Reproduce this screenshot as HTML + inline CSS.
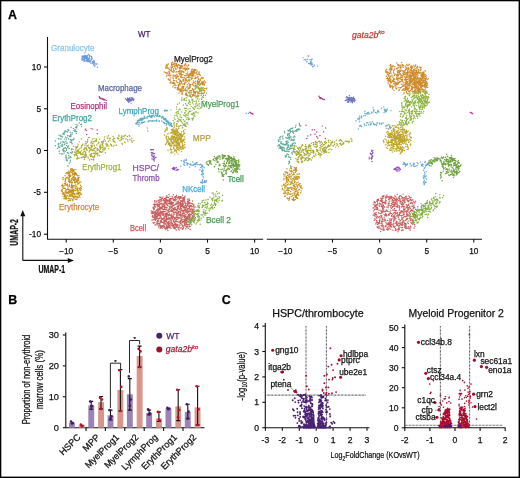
<!DOCTYPE html><html><head><meta charset="utf-8"><style>html,body{margin:0;padding:0;background:#fff}svg{display:block;will-change:transform}text{font-family:"Liberation Sans",sans-serif;stroke:currentColor;stroke-width:0.25px}</style></head><body>
<svg width="520" height="478" viewBox="0 0 520 478">
<rect width="520" height="478" fill="#fff"/>
<text x="8.1" y="18.8" font-size="12.4" fill="#000" color="#000" font-weight="bold">A</text>
<text x="8.3" y="303.7" font-size="12.4" fill="#000" color="#000" font-weight="bold">B</text>
<text x="221.8" y="304.3" font-size="12.4" fill="#000" color="#000" font-weight="bold">C</text>
<g stroke="#111" stroke-width="1.1" fill="none">
<path d="M47.5 37V239.2H263.2"/>
<path d="M266.8 239.2H482"/>
<path d="M44 67H47.5"/>
<path d="M44 108.8H47.5"/>
<path d="M44 150.5H47.5"/>
<path d="M44 192.3H47.5"/>
<path d="M44 234.2H47.5"/>
<path d="M66.2 239.2V242.6"/>
<path d="M285.4 239.2V242.6"/>
<path d="M113.3 239.2V242.6"/>
<path d="M332.5 239.2V242.6"/>
<path d="M160.4 239.2V242.6"/>
<path d="M379.6 239.2V242.6"/>
<path d="M207.5 239.2V242.6"/>
<path d="M426.7 239.2V242.6"/>
<path d="M254.6 239.2V242.6"/>
<path d="M473.8 239.2V242.6"/>
</g>
<text x="41" y="70" font-size="8.3" fill="#111" color="#111" text-anchor="end">10</text>
<text x="41" y="111.8" font-size="8.3" fill="#111" color="#111" text-anchor="end">5</text>
<text x="41" y="153.5" font-size="8.3" fill="#111" color="#111" text-anchor="end">0</text>
<text x="41" y="195.3" font-size="8.3" fill="#111" color="#111" text-anchor="end">-5</text>
<text x="41" y="237.2" font-size="8.3" fill="#111" color="#111" text-anchor="end">-10</text>
<text x="66.2" y="254.2" font-size="8.3" fill="#111" color="#111" text-anchor="middle">−10</text>
<text x="285.4" y="254.2" font-size="8.3" fill="#111" color="#111" text-anchor="middle">−10</text>
<text x="113.3" y="254.2" font-size="8.3" fill="#111" color="#111" text-anchor="middle">−5</text>
<text x="332.5" y="254.2" font-size="8.3" fill="#111" color="#111" text-anchor="middle">−5</text>
<text x="160.4" y="254.2" font-size="8.3" fill="#111" color="#111" text-anchor="middle">0</text>
<text x="379.6" y="254.2" font-size="8.3" fill="#111" color="#111" text-anchor="middle">0</text>
<text x="207.5" y="254.2" font-size="8.3" fill="#111" color="#111" text-anchor="middle">5</text>
<text x="426.7" y="254.2" font-size="8.3" fill="#111" color="#111" text-anchor="middle">5</text>
<text x="254.6" y="254.2" font-size="8.3" fill="#111" color="#111" text-anchor="middle">10</text>
<text x="473.8" y="254.2" font-size="8.3" fill="#111" color="#111" text-anchor="middle">10</text>
<g stroke="#111" stroke-width="1.1" fill="none"><path d="M22.8 260.4V214M22.8 260.4H70"/></g>
<path d="M22.8 210L20.3 216.3H25.3Z M74 260.4L67.8 257.9V262.9Z" fill="#111"/>
<text transform="translate(38.4 272.8) scale(0.67 1)" font-size="10.4" font-weight="bold" fill="#111" color="#111">UMAP-1</text>
<text transform="translate(17.6 245.7) rotate(-90) scale(0.67 1)" font-size="10.4" font-weight="bold" fill="#111" color="#111">UMAP-2</text>
<path stroke="#c86060" stroke-width="1.45" stroke-linecap="round" d="M185.5 222h0M190.4 222.1h0M195.4 217.8h0M182.8 201.4h0M179.5 198.8h0M156.1 216.6h0M173.5 220.5h0M160.4 207.3h0M191.4 206.7h0M181.4 206.2h0M187.6 201.4h0M184.3 216.5h0M162.9 212.5h0M177.8 204.1h0M171.1 220.1h0M170.2 198.7h0M188 217.4h0M184.1 223h0M159.3 204.2h0M167 205.1h0M163.8 225h0M177.8 203h0M189.1 224.6h0M187.7 209.8h0M174.9 207.4h0M183 226.1h0M173.2 205h0M161.6 200.9h0M158.4 212.6h0M167.4 223.3h0M162.9 212.7h0M176.3 214.1h0M167.4 201.2h0M174.5 222.7h0M160.7 225.9h0M184.8 224.7h0M169.5 223.6h0M172.3 208h0M166.7 217.2h0M184.9 220.3h0M160.3 211.1h0M177.3 217.2h0M162.3 207.8h0M164.2 205h0M178.6 213.1h0M162.7 222.2h0M157.6 215h0M183.3 204.5h0M168.6 211.3h0M156.2 218.9h0M179.9 215.1h0M174.6 212.2h0M194 209h0M177.6 206h0M167.2 218.4h0M157 224.9h0M169.9 203.8h0M182.2 210.9h0M183.1 228.7h0M190.4 222.9h0M169.8 227.8h0M158.5 206.6h0M171 198.4h0M155.5 211.2h0M174.3 197.4h0M189 208.3h0M175.8 212.5h0M176.8 219.3h0M186.6 207.2h0M187.4 211.2h0M154.1 208.7h0M155.1 225h0M174.7 226.6h0M185.6 218.5h0M179.3 230.1h0M175.4 204.5h0M191.6 203.4h0M160.2 204h0M180.1 205.1h0M178.6 198.1h0M177.3 206.9h0M166 198.4h0M162 207.9h0M160.1 211.8h0M182.9 222h0M153.3 219.5h0M156.4 201.4h0M188.1 224.6h0M187.9 202.6h0M173.8 209.6h0M191.5 219.7h0M175.8 225h0M193.7 205.9h0M167.8 210.4h0M190.4 209.3h0M192.2 215.8h0M172 225.5h0M185.8 209.3h0M171.5 211.3h0M193.5 207.1h0M187.5 204.2h0M186.7 219.5h0M158.2 214.7h0M154.6 214.7h0M163.7 209.4h0M167.6 219.4h0M165.4 216.5h0M159.1 205.1h0M169.6 219.1h0M158.7 209.2h0M176.9 213.4h0M189.5 216.4h0M166.2 221.3h0M193 217.1h0M184.2 203h0M179.8 203.6h0M171.1 207.3h0M181.8 224.2h0M162.8 218.8h0M166.3 228h0M184.4 207.4h0M166.9 203.3h0M187.6 212.9h0M156.6 210.3h0M171 223.9h0M160.7 197.4h0M182.1 222.6h0M154.6 201.8h0M171.5 201.7h0M176 224h0M155.5 215.1h0M192.6 216.3h0M161 218.6h0M188.2 208.9h0M188.6 202.8h0M160.9 212.8h0M170.9 204h0M190.9 211.1h0M167.4 201.3h0M189.7 200.5h0M156.9 201h0M178.8 227.5h0M169.5 208.9h0M163.4 218.5h0M171.1 210.4h0M193.5 216.2h0M172.1 206.4h0M190 226.5h0M162.2 228.3h0M152.4 211.4h0M157.6 212.7h0M154 207.2h0M176 203.1h0M151.2 210.9h0M181 223.1h0M184.4 221.2h0M167.4 213.4h0M175.6 197.3h0M163 211.8h0M173.4 225.4h0M162.2 214.3h0M177.1 206.3h0M161 217.8h0M161.2 227.5h0M181.1 215h0M164.8 226.9h0M157.7 220.2h0M180.8 208.8h0M184.9 217.6h0M155.7 216.9h0M191.2 214.5h0M159.2 207h0M173.2 208.5h0M160.5 212.6h0M160.2 201h0M185.1 205.5h0M163 197.1h0M164.8 205.7h0M185.3 224.3h0M188.4 228.3h0M185.8 208.8h0M155.7 213.5h0M188.3 215.8h0M176.3 212.6h0M171.4 211.3h0M168.6 214.8h0M173.5 227.1h0M153.2 213.6h0M171.2 217.7h0M180.1 198.6h0M177.9 215.4h0M181.9 209.1h0M180.5 212h0M191.4 219.4h0M181.8 210.4h0M177.9 218.9h0M162.2 218.6h0M191.4 218.2h0M183.8 206.4h0M190.1 220.6h0M189.6 215.2h0M157 217.1h0M161.1 226.1h0M178 206.7h0M157.2 207.1h0M174 205.6h0M186.8 220.4h0M155.7 204.4h0M175.3 223.8h0M180.3 223.6h0M184.5 213.1h0M154.6 213.9h0M174.1 200.2h0M159.8 214.9h0M163.3 225.5h0M166.4 219.7h0M181.8 197.8h0M167 226.1h0M177.2 210h0M180.1 217.4h0M189.5 213.7h0M167.4 197.2h0M182.2 225.3h0M168.3 225.1h0M174.3 205.1h0M178.6 208h0M174.9 225.2h0M173.2 211h0M172.1 196.8h0M163.8 224.9h0M177.8 212.4h0M174.4 210h0M178.6 217.5h0M178.3 212.2h0M180.6 207.9h0M176.2 216.6h0M179 211.2h0M164.9 216.3h0M178.7 212.5h0M168.3 197.5h0M178 225.4h0M168.4 223.8h0M172.4 209.9h0M154.8 216.4h0M194.3 214.5h0M163.4 206.5h0M185.4 209.7h0M190.1 214.2h0M169.9 196.1h0M190.2 202.9h0M187.6 219.1h0M167.4 205.3h0M164.8 206.5h0M174.2 214.1h0M161.8 222.4h0M165.7 199.8h0M158.6 206.3h0M169.2 221.1h0M189.4 207.5h0M182.4 229.2h0M171.3 203.7h0M163.5 222.8h0M184.6 197h0M180.3 204.3h0M188 203.4h0M156.5 223.1h0M158.2 212.7h0M181.6 200.7h0M154.8 215.8h0M189.1 219.9h0M165.2 211.3h0M172.6 224h0M189.2 206.5h0M173.1 219.1h0M186.3 206.4h0M167.1 224h0M183.9 219.9h0M189.9 221.1h0M157.5 221.2h0M157.8 214.8h0M159.4 214.4h0M158.9 204.3h0M192.2 212.6h0M170.5 215.3h0M180.6 197.6h0M181.9 218.1h0M169.7 202.3h0M181.2 227.8h0M173.8 199.4h0M157.5 209.7h0M155.2 224.7h0M182.7 226.6h0M183 211.3h0M182.6 213.2h0M163.8 225.1h0M165.5 199.7h0M160.1 228.2h0M152.9 217.5h0M192.7 203.6h0M188.1 204.4h0M173 202.4h0M184.8 221.5h0M182.9 199.6h0M161.5 219.7h0M168.1 227.6h0M170.6 202.9h0M182.9 206.4h0M176.5 215.2h0M187.2 222.1h0M182.2 221.1h0M169.3 203.8h0M167.5 223.3h0M175.3 196.8h0M177.5 221.6h0M154.2 211.7h0M164.4 217.9h0M178.1 208.4h0M178.8 202.8h0M173.9 213h0M193.6 211.7h0M171.3 222.1h0M156.3 214.6h0M186.3 218.4h0M172.4 197h0M168.8 209.2h0M178.2 213.9h0M173.3 202.8h0M180.4 216h0M184.7 215.8h0M180.4 223.4h0M187.1 216.4h0M187.4 205.3h0M160.6 221.9h0M157.3 221.4h0M183.6 197.8h0M163.2 211.2h0M177 197.4h0M156.6 213.7h0M183.1 221.6h0M193.8 218.1h0M162.3 198.2h0M158.3 218.4h0M184.1 200.9h0M153 220.1h0M170 208.5h0M157.4 218.1h0M158.3 202.6h0M172.5 217.9h0M156.4 216.9h0M169.6 223.6h0M175.3 225.6h0M168.1 216h0M194.7 211.5h0M159.6 214.1h0M176.4 203.9h0M159.7 204.4h0M189.7 217.2h0M159.7 199.8h0M176 211.2h0M160 216.1h0M190.9 211.2h0M173.1 198.6h0M169.1 201.1h0M163.8 199.8h0M174.2 224.5h0M169.7 223.8h0M162.1 222.6h0M177.3 218.9h0M170.9 215.8h0M192.7 216.2h0M192 212.4h0M187.8 202.9h0M165.6 224.2h0M173.4 225.4h0M187.3 212.7h0M169.9 207.9h0M185.9 211.6h0M179.3 198.1h0M171.9 209.7h0M162.1 218.5h0M180.9 212.9h0M165.6 219.6h0M180.3 220.9h0M159.1 213.8h0M177.6 210.2h0M187.8 216.5h0M163.5 213.8h0M152.3 212.3h0M167.6 228.8h0M175.4 224.7h0M181.4 208.8h0M155 212.4h0M159.8 202.5h0M158.7 223.7h0M164.5 218.2h0M161 197.3h0M162.9 226.7h0M183.4 216h0M160.5 226.7h0M154.7 219h0M191.4 220.1h0M187.4 208.5h0M183.3 210.6h0M170.1 218.7h0M164.2 218.6h0M184.8 217.7h0M175.4 221.7h0M166.7 207.4h0M176.8 199.7h0M183.9 207.3h0M151.8 220.1h0M179.6 209.4h0M165.3 201.5h0M169.4 199h0M164.6 220.5h0M175.2 227h0M161.6 204.1h0M157 204.5h0M185.1 196.1h0M188.6 201.5h0M187.6 226.2h0M188.7 211.9h0M158.6 200.7h0M154.6 205.3h0M175.3 224.3h0M176.5 196.1h0M176.6 217.3h0M182.2 219.8h0M175.3 208h0M175.6 198.6h0M174.8 227.7h0M154.1 207.1h0M173.7 199.6h0M163.6 215.5h0M186 220.6h0M184.9 225.2h0M175.9 220.7h0M179.4 221.9h0M180.4 206.9h0M186.1 217.9h0M173.1 227h0M165.2 228.9h0M169.6 214.2h0M170 221.1h0M179.6 211.6h0M170.9 222.5h0M174.4 209.2h0M162 225.6h0M175.3 218.4h0M166.8 195.7h0M163.9 203h0M166.3 200.8h0M166.2 199.5h0M170.4 206.1h0M170.7 219.8h0M189.7 217.3h0M185.6 228.7h0M168.7 212h0M163.4 200.7h0M165.2 223.8h0M159 225.9h0M184.3 213.5h0M172 215.7h0M177.7 198h0M174.1 228.4h0M182.7 228.4h0M180.8 220.5h0M164.3 220.8h0M166.9 215.2h0M182.2 201.7h0M179.5 196.8h0M158.7 204.8h0M194 204.7h0M177 225.8h0M166.6 203.6h0M190.2 229.4h0M194.7 207.1h0M182.1 206.9h0M167 212.1h0M185.6 205.3h0M183.6 206.3h0M161.8 203.2h0M188.9 219.5h0M177.1 201.8h0M192.7 218.4h0M185.7 203.7h0M185.2 201.9h0M185.1 215h0M175.6 196.4h0M157.4 210.4h0M160.9 216.7h0M161.8 226.6h0M177.2 209.8h0M180.5 196.6h0M167.2 227.7h0M171.6 207.7h0M193.4 210.1h0M189 210.7h0M161 209.1h0M183.8 199.1h0M190 223.4h0M155.5 220.2h0M187.6 209.1h0M189.3 216.8h0M180.7 200.9h0M155.3 218.4h0M191.3 205.4h0M183.6 227.5h0M160 201.5h0M181 198.1h0M182.6 195.2h0M164.6 208.6h0M162.3 212.6h0M168.3 225h0M185.4 224.2h0M159.3 206.3h0M158.2 213.2h0M178.1 204h0M186.2 219.7h0M177.1 221.8h0M186.6 217.2h0M159 223.1h0M176.2 224.8h0M175.3 218.4h0M189.5 202.6h0M162.1 208.2h0M163.7 214.5h0M182.6 204.5h0M164 219.2h0M184.1 207h0M174.9 217.7h0M169.9 209.3h0M181 196.6h0M171.8 202.4h0M176.3 209.6h0M192.9 211.9h0M164.1 222.4h0M177.4 208.3h0M192.4 210.3h0M164.3 200.1h0M184.5 217.4h0M194.3 211.7h0M151.4 213.1h0M174.8 228.6h0M182.5 198.3h0M192.8 204h0M183.5 199.9h0M190.4 222.8h0M156.7 218h0M166 197.3h0M153.6 213.2h0M165.4 215.5h0M160.2 222.1h0M165.5 200.4h0M157.9 213h0M158.6 213.7h0M180.9 200.9h0M186.4 220h0M163.8 227.3h0M159.7 217.9h0M189.6 217.9h0M168.1 200.2h0M170.9 217.3h0M178.8 218.1h0M160 224.9h0M159.8 215.4h0M173.8 214.7h0M182.6 205.4h0M188.3 215.4h0M157.1 209.6h0M168.9 194.5h0M154.1 208h0M166.1 228.1h0M180.5 222.3h0M169 218.7h0M169.3 208.6h0M165.6 199h0M175.3 227.8h0M169.1 213.1h0M184.1 206.5h0M169.2 215.3h0M153.7 204.3h0M172 218.8h0M166.1 219.2h0M161.5 227.6h0M179.6 214.4h0M164.2 211.6h0M184.6 200h0M183.4 212.1h0M166.8 214.6h0M165 202.9h0M186.5 219.8h0M164.9 228.5h0M167.2 227.8h0M190.9 222.8h0M162.6 226.6h0M166.4 217h0M188.3 199.1h0M172 223.1h0M162.5 219.2h0M163.3 222.4h0M176.2 209.6h0M165.3 220.3h0M181.8 204.8h0M167.4 210.4h0M164.8 206.8h0M188.5 206.2h0M189.6 218.9h0M169.9 202.4h0M184.3 199.2h0M159.7 212.4h0M166.2 204.1h0M154.8 214.4h0M173.6 200.3h0M161 207.9h0M166.1 201.6h0M168.3 219.2h0M186.1 214.6h0M172.9 203.4h0M171 228.2h0M190.5 219.1h0M179.5 202.6h0M168.6 227.2h0M177.7 217.2h0M162.9 215.2h0M172.5 205.7h0M173.6 221.8h0M158.5 210.3h0M154.8 200.6h0M153 207.7h0M159.7 197.3h0M175 217.6h0M169.1 227.1h0M171.6 216.1h0M166.9 207.5h0M159.5 205.9h0M185.4 219.8h0M164.8 208h0M169.3 200.4h0M190.1 215.8h0M173.6 220.3h0M172.7 206h0M179.1 200.1h0M175.1 199.2h0M187.2 205.8h0M158.2 220h0M171.8 204.6h0M163.3 199.6h0M157.5 210.3h0M174.6 217.8h0M188.4 201h0M189.2 226.1h0M176.7 226.2h0M165 209.5h0M165.7 198.5h0M171.7 220.9h0M182.5 214.8h0M187.7 221.1h0M180.9 201.6h0M163.4 200.6h0M169.8 206.2h0M176.1 220.3h0M176.2 221.1h0M154.4 209h0M158.7 227h0M181 203.1h0M178.1 211.7h0M192.2 217.1h0M165.3 223.1h0M187.7 218.3h0M179.8 225.4h0M164.7 200.4h0M193 216.3h0M190.9 205.5h0M184.2 215.5h0M181.8 206.3h0M184.1 200.8h0M181.1 219h0M161.9 206.1h0M169.8 201.6h0M157.5 222.7h0M190.8 209.2h0M171.6 215.2h0M168.2 222.3h0M189.4 226.6h0M182.8 213.7h0M159.3 213.7h0M185.7 208h0M180.1 202.6h0M169 223.5h0M188.1 200.8h0M163.9 206.3h0M168.6 218h0M187.5 211.8h0M161.1 211.4h0M167.5 214.3h0M187.5 199.1h0M156.3 212.2h0M161.4 213.3h0M159.7 209.8h0M157.2 224.3h0M169.3 217.8h0M166.9 222.2h0M153.7 209.8h0M160.4 215.9h0M167.9 230.6h0M181.8 216.7h0M184.1 209.7h0M154.9 217.9h0M170.8 200h0M189.4 208.4h0M183.7 207.8h0M166.3 200.6h0M182.9 203.2h0M180.5 197.7h0M177.4 227.6h0M171.9 214h0M167.5 226.6h0M177.3 203h0M162.7 206.8h0M177.1 213.8h0M152.9 215.6h0M168.1 226.3h0M153.3 212.1h0M184.6 197.8h0M187 210.6h0M183.5 198.5h0M170 200.8h0M175.1 200.9h0M165.4 214.1h0M186.9 227.4h0M166.3 226.9h0M189.2 199.1h0M183.5 200.4h0M177.3 224.8h0M188.5 215.1h0M170.6 203.1h0M187.3 212.4h0M175.1 197h0M182.5 203.5h0M173.5 226.7h0M164.4 198.4h0M178.9 197.4h0M154.6 218.2h0M170.6 202.2h0M186 203.5h0M167.8 205.7h0M169.1 203.6h0M157.7 216.2h0M167.2 228h0M165.2 221.4h0M189.1 216.3h0M173 199.7h0M172.8 224.8h0M161 215.1h0M154.5 206.2h0M181.9 220h0M184 221.4h0M176.5 224.2h0M153.3 216.6h0M160.7 199.4h0M191.8 219.8h0M180.1 224h0M163.8 204.1h0M192 210.9h0M166 207.6h0M173.3 217.6h0M170.3 199.6h0M178.9 205.5h0M193.9 219.9h0M184.6 224h0M162.5 209h0M160.9 203.6h0M158.9 204.1h0M161.4 212.7h0M175.4 223.9h0M182.1 215.5h0M180.3 208.9h0M184.4 210.9h0M165.4 215h0M158.8 215.5h0M154.7 206h0M169.6 226.2h0M165.9 202.2h0M180.2 205h0M169.7 199.5h0M168.5 221.7h0M166.6 216.4h0M180.8 210.6h0M152.7 215.7h0M155.9 202.1h0M158.5 201.1h0M155.5 218.5h0M184.3 198.8h0M174.2 208.5h0M184.6 216.1h0M172.5 216.5h0M172.6 203.1h0M171.8 206.4h0M158.9 225.8h0M174.4 221.7h0M172.3 196.9h0M161.6 207.4h0M163.9 217.1h0M171.6 216.8h0M151.9 213.8h0M185.3 210.1h0M188.6 215.3h0M168.2 201h0M159.2 213.8h0M167 208h0M166.6 204.2h0M158.3 200.1h0M185.8 211.4h0M186.3 222.5h0M190.2 209.6h0M179.4 209.2h0M180.3 202.5h0M166.1 198.9h0M177.1 226.8h0M170.9 224.9h0M167.7 222.6h0M165.9 220.8h0M189.9 205.3h0M188.2 218.4h0M189.9 206.5h0M157.5 223.9h0M167.3 200h0M186.3 210h0M192.3 206.6h0M172.3 211.6h0M184.2 208.1h0M183.8 219.1h0M167.1 212.8h0M183.4 211.2h0M190.6 209.9h0M161.2 207.8h0M176.2 217.7h0M173.4 216.2h0M165.9 207.4h0M169.5 211.6h0M176.3 230h0M176.1 211.2h0M185.9 212.6h0M191.4 206.7h0M179.7 214.4h0M154.3 217.5h0M163.8 220.8h0M157.8 205.8h0M175.2 196.9h0M177.2 202.4h0M180.1 228.1h0M178.6 221.9h0M178.5 206.4h0M175.3 228.7h0M169.5 225.4h0M159.7 202.4h0M160.3 220.7h0M166.7 225.4h0M157.4 210.9h0M183.7 213.4h0M176.6 195.3h0M170.6 210.9h0M190 203.3h0M184.9 207.3h0M159.4 223.5h0M188.1 211.7h0M181.1 205h0M155.4 216h0M169.4 206.8h0M192.9 209.1h0M174.8 219.4h0M153.1 222.5h0M161.5 221.3h0M192.1 209.3h0M168.5 203.3h0M158 213.2h0M190.3 216.9h0M168.7 226.6h0M191.5 209h0M182.1 200.6h0M189.8 224.4h0M158 212.3h0M194 215.7h0M178.4 196.4h0M154.7 217.6h0M158.8 206.4h0M164.4 226.2h0M179.5 211.4h0M164.1 223.8h0M181.9 210.2h0M157.2 203.8h0M187.6 226.5h0M166.2 218h0M180.8 206.3h0M169.2 223.1h0M169.9 200.3h0M188.4 219.1h0M162.3 211.5h0M161.1 220.6h0M157.2 214.2h0M184.5 209.4h0M176.6 227.1h0M166.6 197.4h0M182.2 217.3h0M172.1 208h0M187 211h0M176.3 217.6h0M165.9 215.7h0M170.2 226.9h0M189.3 211.6h0M166.3 203.5h0M173.7 209.7h0M163.7 206.6h0M169.4 199.2h0M165.9 204.1h0M188.9 210.9h0M193.3 217.2h0M181.6 204.1h0M184.4 221.6h0M180 215.5h0M173.7 227.5h0M157.1 224.5h0M180.7 221.3h0M155.4 206.9h0M182.8 202.7h0M175 209.3h0M166.3 209.4h0M186.1 203.2h0M161.3 198.6h0M157 205.4h0M177 213.2h0M178.4 228.9h0M179.4 215.1h0M171.8 198.8h0M156.8 215.8h0M167.9 205.1h0M193.4 212.5h0M159.4 218.4h0M174.6 218.9h0M177.8 224.5h0M168.6 223.3h0M191 221.4h0M163.3 204.7h0M161.7 200.4h0M160.2 214h0M159.6 224h0M173.3 194.8h0M152.8 212.8h0M192.6 200.9h0M179.4 226.1h0M158.2 211.6h0M171.8 207.6h0M163.4 211.8h0M176.1 209.8h0M186.5 224.7h0M164.7 202h0M184.2 225.7h0M157.1 221.2h0M185.9 226.5h0M166.4 213.4h0M164.7 221.3h0M189.3 203.4h0M187.7 224.5h0M154.2 206.8h0M155.8 218.8h0M166.1 229h0M173.4 212.5h0M158 205h0M179 205.1h0M175.5 199.9h0M171.1 204.7h0M189.3 199.2h0M171.7 209.8h0M161.6 199.9h0M159.9 223.2h0M185.4 216.4h0M189.5 211.5h0M154.7 222.4h0M152.3 216.3h0M179.9 218h0M154.7 204h0M168 202.9h0M153.5 223.2h0M157.9 208.6h0M172.1 216.4h0M168.8 222.2h0M165.1 213.2h0M178.5 201.4h0M153.3 208.3h0M188.5 214.5h0M154.7 219.4h0M169.1 223.9h0M180.7 214h0M168.8 210.6h0M165.8 214.9h0M158.4 221h0M172.2 226h0M193.7 205.1h0M185 223.2h0M162.8 204.3h0M192 213.4h0M168.8 224.2h0M160.4 208.6h0M186.8 226.8h0M157.6 211.3h0M159.6 208.3h0M164.4 207.5h0M187.2 221h0M164.5 204.9h0M161.4 220.8h0M192.9 213.8h0M160.5 216.1h0M190.5 223h0M186.6 223.7h0M160 216.1h0M172.1 203.7h0M184.6 219.8h0M172.3 223.2h0M162.2 205.6h0"/>
<path stroke="#80b03c" stroke-width="1.45" stroke-linecap="round" d="M198 209.5h0M198.8 218.9h0M191.5 220.1h0M200.2 224.2h0M208.1 199.2h0M212.8 208.8h0M202 202.2h0M218.4 198.6h0M211.8 198.8h0M215.7 194.1h0M191.4 212.8h0M191.7 224.7h0M188.5 218.6h0M203.5 205.9h0M191.6 220.8h0M202.2 214.9h0M202.5 206h0M198.2 206h0M212 199.4h0M215.1 204.6h0M199.3 210.9h0M205.3 214h0M198.2 220.1h0M222 200.9h0M189.3 221.9h0M194.1 216.5h0M205.3 212.7h0M194.2 215.2h0M198 210.9h0M216.6 200.4h0M209 208.5h0M207.6 204.6h0M203.5 212.2h0M191 222.7h0M194 214.6h0M210.7 205.3h0M214.6 207.4h0M193.6 221.5h0M194.6 218.6h0M199 211.7h0M214.3 202.7h0M214.8 200h0M198.3 210.2h0M203.3 212h0M214.9 204.2h0M217.5 198.1h0M195.8 207.1h0M206 200h0M199.4 207.7h0M213.5 193.1h0M198.1 217.3h0M204 209.4h0M199.6 205.9h0M217.7 193.8h0M197.1 214.7h0M212.1 193h0M190.3 221.7h0M222.3 200.4h0M216 196.4h0M209.2 210.2h0M198.1 220.9h0M219 196.6h0M197 214.1h0M218 202.2h0M205 212.2h0M200.2 203.8h0M216.2 200.3h0M208.1 203.6h0M213.3 205.2h0M197.7 216.6h0M206.4 204.4h0M205 215.6h0M199.2 220.6h0M209.4 210.8h0M216.6 191.6h0M214.7 201h0M196.8 210.2h0M215.7 195.9h0M198.8 213.6h0M210.5 207.6h0M193.8 221.4h0M202.5 205.3h0M188.9 224.1h0M201.2 214.8h0M198 207h0M197.3 211h0M193.4 217.5h0M192.5 217.8h0M214.9 203.4h0M207.7 203.1h0M198.5 203.5h0M192.6 217.7h0M198 205.5h0M201.3 218.2h0M212.6 207.9h0M204 213.3h0M202.6 215.1h0M198.7 207.4h0M205.8 210.7h0M205.3 207.3h0M204.4 202.6h0M193.7 212.7h0M194.2 222.7h0M203.3 216.9h0M216.8 200.9h0M195.4 213.5h0M192.7 219.9h0M196.4 210.9h0M196.4 211.6h0M195 210.2h0M205.7 204.2h0M199 219.9h0M194.8 220.3h0M207.2 202.1h0M193 210.9h0M211.8 204.2h0M203.1 205.5h0M202.3 207.4h0M204 214h0M188.5 221.5h0M212.1 206.5h0M215.9 204.2h0M194.6 220.3h0M216 200.3h0M192.3 221h0M203.3 211.5h0M222.5 195.3h0M197.9 213.6h0M199.7 216.9h0M206.8 208.7h0M193.7 221.9h0M206.9 207.3h0M194.5 214.6h0M207.6 206.6h0M199.4 218.9h0M196.1 223.9h0M219.2 192.9h0M196 214.1h0M215.4 205.4h0M197.1 222.5h0M191.1 220.6h0M219.2 200.2h0M191.8 220.4h0M199 216.3h0M204.9 205.3h0M212.6 200.8h0M202.2 200.7h0M215.9 200.3h0M200.9 220.1h0M188.4 222.2h0M213 198.7h0M211.8 207.4h0M198.5 207.3h0M206.3 213.3h0M207.1 206.5h0M213.9 197.1h0M219.6 197.2h0M208 199.5h0M217 199.3h0M212.9 198.3h0M193.9 212.9h0M210.7 208.9h0M209.9 197.2h0M195.2 219.6h0M198.2 215.3h0M204.9 202.3h0M193.8 218.2h0M203.8 200.2h0M213.7 194.8h0M216.7 200.2h0M194.6 220.8h0M207.7 213.1h0M207.6 204.3h0M197.3 220.1h0M216.5 201.2h0"/>
<path stroke="#c4921c" stroke-width="1.45" stroke-linecap="round" d="M77.5 197.8h0M79.9 197.2h0M66.2 193.3h0M81.3 194h0M72.6 191.3h0M71.6 185h0M78 194.5h0M71.7 186.6h0M70.6 200.3h0M77.8 193.5h0M69.5 198.6h0M79 175.8h0M65 191.9h0M63.2 194.2h0M75.7 179.5h0M76.6 186.7h0M71.7 168.7h0M65 197.7h0M75.3 177.7h0M74.4 180.5h0M69.1 177.1h0M76.4 173.8h0M72.4 196.2h0M77.1 193h0M70.5 176.3h0M69.4 184.7h0M67.3 177.2h0M65.2 178.9h0M67 184.4h0M71.2 190.5h0M68.3 171.2h0M78.7 196.9h0M78 190.4h0M80.1 192.6h0M73.9 171.8h0M66.5 184.9h0M73.9 190.3h0M78.3 193.2h0M70.8 192.4h0M72.7 175h0M79.1 192.2h0M72.4 187h0M74 196.5h0M75.1 172.5h0M67.9 186.3h0M75.7 178.5h0M65.3 188.3h0M78.9 194.5h0M77.2 182.1h0M77.1 196.5h0M65.5 180h0M67.9 173.8h0M74.6 182.4h0M78.7 192.1h0M67.9 192.1h0M75.1 186h0M70.5 200.6h0M76.4 194h0M72.7 171h0M79.5 195.5h0M70.1 194.9h0M72.3 194.1h0M62.3 191.5h0M65.8 178.4h0M75.5 172.8h0M70.9 175.2h0M76.1 174.7h0M77.7 197.8h0M74 197.4h0M77.7 184.1h0M69.4 179.2h0M68.3 191.8h0M71.9 191.5h0M73.5 189.5h0M73.7 180.5h0M76.6 186.1h0M74.4 174.8h0M76 190.5h0M77.1 188.7h0M74.7 185.7h0M75.6 196.6h0M68.7 175.2h0M70.7 190.6h0M70.7 169.7h0M62.9 177.6h0M75.7 181.6h0M64.2 185.6h0M62.5 187h0M75.6 188.4h0M71.8 180.2h0M69.2 200.6h0M76.5 193.7h0M75.6 174.4h0M70 192.2h0M81.4 186.6h0M71.6 196.1h0M74.6 193.5h0M71.8 187.3h0M72.8 200.8h0M80 190.1h0M71.4 172.3h0M64 198.3h0M73.6 196.5h0M69.9 175.7h0M73.5 179.4h0M69.5 198.9h0M73 173.6h0M76 197.2h0M72.2 172.3h0M68.9 172.5h0M73.8 176.4h0M75.1 187h0M72.6 178.9h0M78.6 193.6h0M71.9 195.8h0M71.2 198.8h0M71.4 170.6h0M65.3 196.6h0M77.4 178.9h0M66.4 177.8h0M76.2 196.6h0M62.6 184.1h0M66 191.7h0M78.3 192.8h0M65.9 173.5h0M71.3 193h0M75.6 199.1h0M63.1 192.8h0M74.1 198.7h0M80.8 194.4h0M73.8 198.1h0M74.4 175.8h0M70 171.9h0M65.9 195.7h0M77.1 182.4h0M69.1 192.9h0M76.8 175.1h0M78.1 178.7h0M68.1 192.4h0M79.6 182.8h0M72 185.4h0M73.9 190.7h0M72.7 185.8h0M62 189.3h0M79.3 188.5h0M79 177.8h0M80.2 193.1h0M72.2 185.8h0M72.8 192.6h0M78.8 179.9h0M78.1 177.5h0M75.4 172.9h0M76.8 181.5h0M73.9 170.8h0M70.7 169.6h0M73.9 173.7h0M71.6 190.2h0M73.5 170h0M75.9 199.6h0M67.4 189.2h0M69.7 182.8h0M65.9 190.3h0M66.8 198.8h0M74.9 179.5h0M64.7 183.5h0M67.1 172.6h0M76.8 199.3h0M73.2 171.4h0M64.4 196.2h0M64 188.3h0M78.5 178.5h0M81.1 188.6h0M69.5 175.2h0M70 176.1h0M70.3 196.2h0M77.3 189.5h0M80.5 185.3h0M74.2 179.6h0M68.3 198.4h0M76.8 189.2h0M63.4 194.2h0M71.9 194.2h0M71.1 191.3h0M76.7 179.6h0M76.6 181h0M72.1 168.6h0M76 190.6h0M64.7 195h0M65.2 184.2h0M72.3 182.7h0M64.4 193.7h0M72.4 193h0M67.9 193.5h0M72.7 187.7h0M68.3 200.8h0M77.6 180.1h0M68.5 181.2h0M72.3 190h0M78.5 180.4h0M66 195.1h0M75 174h0M72.4 173.8h0M66 192.9h0M77.8 180.5h0M72.2 186h0M79.6 188.9h0M80.4 187.4h0M69.9 186.3h0M78.4 178.3h0M72.4 199.1h0M68.3 189.6h0M73.2 191.7h0M75.8 169.6h0M65 181.4h0M69.5 195.9h0M73.2 186.9h0M71.7 180.4h0M70.2 189.9h0M70.3 181.7h0M76.7 174.2h0M73.7 193.7h0M65 188.6h0M65.4 179.2h0M78.4 194.2h0M65.8 182.9h0M69.7 173.9h0M70.9 168.9h0M77.5 190.9h0M68.1 187.9h0M75.7 184.3h0M72.8 193.3h0M75.4 182.6h0M67.3 185h0M78.1 190.4h0M71.5 185.6h0M78.5 183.7h0M72.6 191.1h0M67.8 173h0M64.2 185.8h0M61.7 185.5h0M69.1 173.5h0M76.1 196.7h0M73 192.7h0M65.7 190.6h0M77.1 182.1h0M69.6 176.4h0M64.1 198.8h0M80.7 190.6h0M69.5 177.2h0M62.5 193.3h0M79.1 181.9h0M68.9 189.5h0M62 189.9h0M72.8 170.9h0M69.2 174.4h0M78.7 197.1h0M74 189.3h0M77.9 188h0M80.8 189.9h0M74.8 177.7h0M71.8 184.1h0M77.8 190.8h0M79 192.3h0M66.7 189.8h0M69 179.4h0M74.5 182.1h0M81.3 188.5h0M74.7 173.3h0M65.8 197.5h0M72 194.4h0M63 179.5h0M65.3 183.4h0M63.9 193.2h0M63.4 188.2h0M73.7 185.6h0M70.7 194.8h0M68.9 196.8h0M72.1 182h0M78.1 183.5h0M78.3 193.3h0M70.6 192.4h0M75.1 172.1h0M69.3 185.8h0M68.1 178.8h0M73.9 174.2h0M63.3 177.8h0M61.2 190.7h0M73.5 177.2h0M69.9 171.9h0M73.3 192.1h0M75.1 195.7h0M66.1 198.1h0M78.7 194h0M71.9 194.9h0M66.1 185.3h0M71.9 188.9h0M73 190.5h0M72.8 179h0M65.7 178.5h0M63 196.1h0M68.7 181h0M70.6 191h0M65 194.7h0M74.1 169.8h0M79.1 193.1h0M69.7 191.7h0M70.5 176.2h0M71.1 170.6h0M65.5 180.4h0M66.6 197h0M62.7 185.8h0M73.9 196.9h0M64.5 195.9h0M69 177.7h0M69 190h0M74.1 178.1h0M65.1 175.7h0M80.9 182h0M65.9 191.4h0M77.4 182.1h0M72.9 200h0M72.4 169.5h0M72.5 177.3h0M66.8 172.7h0M65.6 179.9h0M63.1 186.3h0M69.5 181.7h0M70.3 171.2h0M70.1 180.5h0M75 190.8h0M71.4 179h0M67.5 195.7h0M67.3 184.2h0M69.2 190.9h0M65.7 199h0M71.3 178.6h0M74.5 194.4h0M63.7 194.3h0M67 192.7h0M74.8 194.6h0M74.7 182.1h0M78.6 194.6h0M69 175.7h0M73.3 197.4h0M71.2 182.4h0M71.1 187.6h0M77.6 175.7h0M72.6 195h0M69.4 194.6h0M71.8 184.3h0"/>
<path stroke="#5ea894" stroke-width="1.45" stroke-linecap="round" d="M58.4 143.4h0M69.3 136.6h0M59.7 147.2h0M68.6 138.7h0M67.6 131.9h0M66.4 148.7h0M70.2 132.6h0M60.3 136.1h0M68.7 130.5h0M75.5 130.6h0M67.6 135.8h0M59.2 151.2h0M64.7 144.3h0M76.7 126.5h0M60 139h0M58.6 146.4h0M67.1 143.2h0M65.5 147.7h0M68.9 158.2h0M58.2 144.8h0M72.8 140h0M74.5 151.9h0M59 135.3h0M62.7 145.1h0M67.8 135.5h0M67.7 146.4h0M72.2 152.6h0M61 141.9h0M64.1 134.1h0M70.1 142.2h0M67.1 160.7h0M63.6 148.5h0M75.7 127.2h0M69.2 148.4h0M65.9 141.2h0M66.6 145.6h0M69.1 157.5h0M62.6 154.1h0M67.4 152.7h0M75.5 131.5h0M62.4 137.1h0M76.6 131.8h0M64.6 139.1h0M62.8 133.7h0M69.5 135.9h0M79.3 123h0M70.6 134.5h0M66.6 150.2h0M68.7 153.3h0M63.4 149.7h0M58.6 144.8h0M70.5 139.4h0M72 134.1h0M66.2 148.5h0M62.1 136.8h0M58.4 138.7h0M73.4 146.1h0M64.5 148.1h0M66.1 143h0M71.1 127.2h0M76.3 133.6h0M71.7 140h0M71 136h0M55.3 141h0M67.9 147.8h0M81.6 126.4h0M66.3 131.4h0M70.8 135.1h0M62.2 144.2h0M71.8 153.3h0M64.1 142.5h0M64.1 150.4h0M65.9 155.3h0M63.2 133.4h0M62.5 150h0M62.1 153.7h0M66 157.8h0M76.9 127.1h0M63.6 148.5h0M65.9 131.7h0M75 129.4h0M64.1 153h0M72.2 143.8h0M64.1 134.5h0M74.7 131.2h0M70.6 136.7h0M64.4 144.6h0M71 157.4h0M68 129.9h0M61.1 138.9h0M74 138.1h0M67.8 147.1h0M67 137.6h0M71.2 141.1h0M71.1 140.8h0M60.9 135.1h0M61.5 154.1h0M57.5 148.5h0M71.5 149.2h0M63.9 141.6h0M67.6 152.7h0M71.7 149.7h0M73.5 128.4h0M68.8 155.4h0M64.2 132h0M55.5 145.8h0M65.1 130.7h0M62.9 141.9h0M73.7 139.4h0M60.4 143.4h0M61.3 136.2h0M65.2 151.4h0M76.5 127.9h0M72.2 132.7h0M63.5 151.3h0M65.6 137.2h0M81.6 124.2h0M64.3 132.7h0M62.2 146.3h0M70.6 152.5h0M71.5 142.5h0M80.6 124.6h0M70.3 156.6h0M73.9 130.6h0M61 145.7h0M59 147.3h0M59.8 153.5h0M66.3 138.9h0M62.1 144.6h0M77.9 125.2h0M70.3 160.2h0M68.6 145.9h0M75.3 146.9h0M76.1 124.5h0M68 129.4h0M66.3 157.2h0M67.1 159.9h0M69.2 163.2h0M70.2 161.9h0M66.2 158.7h0M66.4 160.2h0M66 156.1h0M67.9 165.6h0M67.9 166h0M68.4 158.1h0"/>
<path stroke="#a9aa30" stroke-width="1.45" stroke-linecap="round" d="M120.1 140.7h0M77 151.6h0M108.9 146h0M77.6 146.2h0M106.2 144.7h0M116.3 145.3h0M96.2 141.2h0M102.7 143.9h0M125.2 142.6h0M96.2 138.9h0M124.2 136.2h0M118.8 135.3h0M75.9 150.1h0M92.1 150.3h0M123.5 138.7h0M92.4 150.8h0M78.6 149.8h0M103.3 141h0M121.6 140h0M130.1 139.6h0M82.8 144.3h0M95.3 147.9h0M132 141.1h0M114.9 145.1h0M105.2 141h0M87.7 139.2h0M91.4 142h0M93.2 153.3h0M108.8 148.6h0M122.4 144.3h0M88 157.2h0M93.4 157.7h0M84.5 155h0M114.9 142.5h0M110.8 144.7h0M132.2 142.4h0M82.3 157.3h0M84.7 148h0M124.6 136h0M77.4 151.2h0M80 152h0M81.6 145.8h0M104.9 149.8h0M107.8 138.4h0M98.2 149.4h0M79.3 153.1h0M91.1 145.8h0M91.7 153.5h0M95.3 140.7h0M84.6 159.5h0M103.9 148.6h0M107.2 137h0M78 150.4h0M86.3 155.5h0M118.7 138.5h0M103.3 141.5h0M114.8 141.5h0M100.2 147.9h0M79.4 141.6h0M113.1 136.4h0M107.5 144.1h0M98.6 142.2h0M73.3 149.6h0M89.2 151.9h0M101 146.9h0M101.5 152.2h0M81.4 138.9h0M92.9 143.5h0M122.9 136.1h0M78.1 144.3h0M86.6 150h0M128 141.2h0M86.2 143.8h0M77.7 158.7h0M89.8 147.8h0M97.4 148.4h0M125.4 135.3h0M79.1 158.3h0M97.1 149.8h0M76.6 153.4h0M129.9 139.4h0M110.6 144.2h0M86.3 149.6h0M75.5 152.8h0M90.8 143h0M95.8 154.1h0M111.8 146.1h0M100.7 145.6h0M96.7 139.9h0M107 144.6h0M117.4 137.7h0M99.3 150.8h0M99.9 151.9h0M105.3 152.7h0M92.9 150.3h0M87.3 142.2h0M76.3 155.3h0M100 145.8h0M118.1 139h0M91.7 141.1h0M76.7 155h0M86.1 157h0M97.8 153h0M75.5 154.6h0M93.5 160.1h0M101.1 152.3h0M92.2 143.8h0M107.5 145h0M110.3 138.3h0M109.9 140.3h0M131.4 140.5h0M106.8 146.3h0M122.8 138.6h0M114.6 138.4h0M96 140.1h0M85.3 143.6h0M84.7 157.7h0M77.6 147.3h0M90.4 149.2h0M111.1 144.5h0M129.8 136.3h0M94 138.6h0M86.9 145.6h0M87.6 150.1h0M84.2 149h0M92.9 156.8h0M84.2 149.7h0M75.9 148.9h0M120 140.4h0M91.6 159.3h0M83.6 149.5h0M121.3 139.4h0M97.7 149.7h0M85 151.8h0M100.6 144.1h0M106.1 143.4h0M98.1 143.7h0M72 148.8h0M93.2 141.8h0M92.4 146.7h0M100.4 149.1h0M108.4 135.7h0M113.3 141.6h0M88.3 158.1h0M121 137.8h0M76.6 158.7h0M102.2 142.4h0M125.9 138.9h0M105.2 148.3h0M127.6 139.7h0M102.7 149.8h0M78.5 152.8h0M99.6 139.2h0M81.2 147.2h0M100.3 147.3h0M89.8 159.7h0M74.2 154.8h0M84.8 157.2h0M94.6 153.2h0M104.6 136.9h0M91.4 155.3h0M90 150.4h0M127.5 136.5h0M109.6 138.5h0M129.3 135.4h0M87.6 141.2h0M104.4 139.3h0M85.7 154.6h0M86.3 148.4h0M100.1 149.3h0M81.5 150.6h0M102 141.8h0M100.7 151.5h0M103.9 150h0M102.9 145.8h0M92 145.5h0M93.5 153.5h0M101.9 142.6h0M92.5 139.1h0M121.8 137.5h0M99.6 155.7h0M77.6 157.5h0M121.5 137.6h0M77.3 150.2h0M81.3 147h0M121.5 136h0M76.7 155.2h0M101.7 141.8h0M99 142.6h0M102.7 151.8h0M121.9 143.2h0M72.3 151.8h0M82.7 153h0M102.3 144.5h0M113.7 138.3h0M86 155.4h0M124.6 141.9h0M74.6 155.8h0M103.1 142.9h0M94.7 156.9h0M89 148.4h0M76.6 147.1h0M94.3 141.8h0M111.4 145.3h0M84.1 151.4h0M118.9 136.3h0M113.7 140.2h0M89.5 160h0M94.2 156.1h0M99.8 146.3h0M105 147.4h0M131.9 138.2h0M112.8 139.7h0M96.8 145h0M133.8 140.7h0M94.6 153.4h0M93.7 159.2h0M90.7 149.8h0M96.9 153.8h0M113.5 146h0M80.9 153.4h0M85.7 141.7h0M86.1 154.3h0M93.1 159.7h0M76.5 153.6h0M94.5 148.5h0M76 152h0M99.6 146.6h0M108.4 141.3h0M102.4 147.5h0M81.2 147.7h0M94.2 145.1h0M87.5 145.9h0M85.7 152.3h0M91.5 149.4h0M85.7 152.3h0M80.6 151.9h0M78.6 151.6h0M95.8 151.5h0M90.7 156.4h0M88.6 147.2h0M91.5 146.6h0M94.2 150.7h0M82.6 154.6h0M97.8 154.3h0M102.2 147.7h0M97.9 155.5h0M95.9 152.8h0M88.7 145.1h0M100.7 148.1h0M93.5 149.2h0M89.5 151.1h0M80.2 153.1h0M90.9 149.2h0M90.9 155.9h0M94.7 155.5h0M79.8 148.6h0M88.7 147.6h0M86.1 147.3h0M85.6 153.3h0M100 147.5h0M82.1 145.4h0M76.6 147.8h0M83.7 156.9h0M91 145.4h0M77.9 152.9h0M92.2 156.4h0M81.1 153.6h0M85.7 148.3h0M91.2 153.8h0M91.7 149.4h0M94.3 146h0M85.2 155.8h0M103.1 147.1h0M80.8 154.5h0M84.9 145.3h0M97.4 150.6h0M99.7 151.8h0M85 148.1h0M83.4 154.1h0M77.2 155.8h0M81.4 154.5h0M91.4 147.2h0M90.3 154.8h0M89.7 154.9h0M83 152.8h0M81.2 157.8h0M95.8 147.7h0M77.8 151.3h0M83.6 156.5h0"/>
<path stroke="#cf8a2c" stroke-width="1.45" stroke-linecap="round" d="M185.4 69.7h0M192.7 95.8h0M171.5 64.5h0M201.6 90.6h0M191.8 76h0M176.8 74.5h0M179.9 90.2h0M173.1 75h0M181.9 90.3h0M166.9 64.4h0M195.3 94h0M204.2 84.9h0M179.2 72h0M202.7 84.3h0M176.3 78.4h0M180.1 71.5h0M198.4 86.9h0M189.6 74.4h0M176 64.9h0M176.5 65.9h0M194.2 78.6h0M190.4 84.4h0M188.2 74.9h0M176 72.2h0M187 75.1h0M186.2 69.5h0M185.3 89.5h0M167 72.9h0M205.5 82.3h0M200.4 79.2h0M189.6 84.5h0M170.8 70.5h0M192.3 69.6h0M192.6 69.3h0M197.9 81.5h0M181 81.2h0M181.2 73.9h0M177.4 82.6h0M179.9 68.8h0M181.2 91.6h0M184.8 68.2h0M192.1 94.4h0M180.6 80.4h0M187 94.9h0M198.1 96.2h0M185.4 64h0M202.3 83.5h0M181.8 91.3h0M173.3 76.2h0M169.8 69.5h0M189.2 81h0M181.3 83.1h0M184.3 77.8h0M185.2 69.4h0M183.5 68.8h0M170.9 77.8h0M185.7 63.7h0M194.8 89.3h0M186 75.4h0M195.7 92.5h0M197.9 94.9h0M185.7 94.8h0M186.2 73.6h0M193.5 94.5h0M169.3 80.3h0M199.5 81h0M191 75.6h0M179.4 89h0M190.3 95.9h0M165.8 67.2h0M186.4 93.8h0M169.5 75.7h0M188.6 69h0M175.8 68.2h0M200.3 89.8h0M187.6 74h0M203.4 89.3h0M182.8 71.1h0M172.2 83.4h0M179.1 73.3h0M198.5 87.2h0M195.5 77.8h0M174.3 66.3h0M178.3 87.1h0M193.5 71.4h0M197.2 81.6h0M175.6 69h0M196 73.3h0M189.9 84.7h0M183.8 90.2h0M182.4 87.2h0M175 84.7h0M172.2 64.4h0M179.3 67.4h0M193 83.3h0M180.5 89.4h0M169.5 69.7h0M198.9 89.5h0M191.2 72.6h0M195.7 70.2h0M165.6 72.4h0M180.9 73.4h0M200.6 84h0M182.3 90.1h0M187.3 69.7h0M197.1 96.3h0M185.5 90.7h0M179.1 92.9h0M176.4 69.1h0M193.1 89.2h0M181.7 75.9h0M174.1 71.1h0M173.4 78.2h0M195.5 85.3h0M192.5 88.8h0M197.3 83h0M172.5 71.6h0M171.3 68.5h0M186.2 68.5h0M206.4 88.7h0M170.4 75.6h0M195.4 78.4h0M169.2 69.7h0M181.1 89h0M191.5 79.2h0M182.2 87.7h0M188.1 88.6h0M194.8 91.8h0M199.5 85.3h0M178.4 84.6h0M196.7 86.7h0M181.8 77.7h0M193.1 95.5h0M195 76h0M204.3 81h0M186.2 87.2h0M197.5 81.4h0M172.7 86.9h0M179.5 65.2h0M181.9 87h0M175 87.8h0M181.9 70.7h0M197.3 84.6h0M180 83.4h0M183.8 72.5h0M199.5 74.3h0M180 71.4h0M176.3 71.7h0M182.2 83.9h0M204.3 92.4h0M203 90.6h0M192.2 71.4h0M180.2 67.1h0M189.2 88.2h0M197.7 92.5h0M185.4 88.6h0M187.8 72h0M184.8 64.6h0M183.8 79.3h0M183.5 80.8h0M180.6 76.9h0M192.1 84.6h0M192 96.4h0M186.1 79.1h0M193.7 85.3h0M178.8 78.7h0M172.9 77.9h0M199.2 72h0M183.8 71.8h0M191.5 90.4h0M176.5 81.8h0M201.9 81.5h0M202.1 82.5h0M201.6 82.9h0M193.3 82.6h0M192.4 78h0M172.7 62.2h0M192.4 74.1h0M187.8 72.1h0M177 76.1h0M167 65.7h0M203.4 78h0M190.1 94.8h0M181.6 65.6h0M194.4 70.4h0M194.2 91.7h0M189.2 87.4h0M178.5 88.9h0M184.3 65.2h0M183.8 86.8h0M179.4 84.2h0M182 89.2h0M190 73.3h0M193.4 91.9h0M204.6 90.8h0M181.8 93.9h0M189.9 92.9h0M164.2 72h0M199.7 93.5h0M197.8 92.2h0M199.3 88.9h0M178 65h0M189.4 86h0M175.6 87.7h0M195.3 69.8h0M200.4 80.6h0M173.2 70.1h0M179.2 82.5h0M171.8 64h0M189.3 74.4h0M200 79.1h0M198.1 76.8h0M198.6 95.9h0M173.4 68.8h0M186.2 93h0M190.8 77.4h0M174.4 80.6h0M192.1 76.2h0M174.1 64.5h0M202.1 93.5h0M196 85.4h0M167.3 65.8h0M191.8 72.2h0M169.3 74h0M184.8 68.7h0M196 69.6h0M201 93.7h0M198.9 84.4h0M198.5 78.7h0M173.9 63.6h0M176.2 77.2h0M199.8 74.7h0M191.8 69.9h0M174.2 71.1h0M169.2 72.3h0M194.9 72.6h0M198.1 74.3h0M199.4 81.4h0M188.9 68.4h0M194.4 69.4h0M189.9 80.1h0M190.5 86.1h0M173.2 64.1h0M199 72.9h0M202.7 78.5h0M179.4 68.8h0M184.1 81.1h0M198 93.4h0M182 89h0M185.9 80.8h0M172.5 67.3h0M166.1 65.4h0M188.5 80.2h0M201 87.3h0M185.2 80.1h0M180.5 66.5h0M171 81.8h0M198.3 95.3h0M198.1 81.7h0M196.9 74.8h0M198.5 92.7h0M174.8 76.6h0M186 65.2h0M167 67.1h0M203.9 83h0M191.1 71.2h0M186.8 94h0M186.9 77.3h0M178.2 85.5h0M204.1 81h0M187.2 67.9h0M176.9 77h0M198.5 83.1h0M183.3 80.9h0M177.9 71.7h0M181.4 82.8h0M187.4 81.5h0M177.3 89.4h0M201.4 77.9h0M183.4 88.2h0M204.7 88.5h0M178.4 84.9h0M198.6 79.2h0M196.4 77.8h0M194.6 82.7h0M188.7 75.5h0M189.2 75.8h0M194 73.2h0M181.1 72.3h0M185.7 78.4h0M170.7 82.2h0M200 91.3h0M182.7 93.9h0M189.2 79.1h0M185.9 79.7h0M178.7 84.4h0M193.3 81h0M180.1 81.2h0M183.7 84h0M187 91.2h0M204.8 91h0M202.6 84.4h0M201.7 77.5h0M186.1 80.3h0M189.5 85.1h0M181.5 90.7h0M199.3 82.3h0M185.3 82.6h0M188.8 77h0M167.8 68.2h0M190.2 90.4h0M196.5 73h0M173.2 72.6h0M188.2 74.8h0M188 96h0M176.5 63.4h0M197 71.9h0M174.9 75.5h0M184.9 90.3h0M180.3 68.8h0M187.3 66.3h0M182.5 65.7h0M179.6 71.5h0M174.4 63.2h0M169 71.5h0M183.3 91h0M178.2 88.7h0M185.3 70.4h0M194.7 70.9h0M179.7 70.7h0M185.9 82.4h0M180.2 84.9h0M181.6 66.7h0M178.9 85.9h0M179.7 80h0M178.5 71.1h0M177.6 75.8h0M201.6 92.6h0M191.3 75.2h0M194 70.5h0M191.9 69.8h0M195.3 87.1h0M171.4 70h0M166.3 72.9h0M199.3 81.6h0M182.8 86.1h0M199.2 89.5h0M200.5 83.6h0M193.5 74.8h0M177.2 65.4h0M203 85h0M191.8 78.5h0M182.9 80h0M193.8 91.2h0M204.2 84.3h0M167 75.1h0M177.5 66.2h0M174 70.8h0M170.2 83h0M188 89.6h0M189.7 77.1h0M169.4 72.8h0M167.8 73.2h0M183 67.1h0M180 68.3h0M169 79.5h0M201.6 83.6h0M191.8 71.6h0M173.5 83.2h0M198.8 88.5h0M198.2 74.2h0M180.2 91.4h0M188.7 83.2h0M185.6 80.2h0M188.7 64.9h0M168.3 64h0M199.6 91.3h0M175.9 85.3h0M178.2 76.5h0M176.5 77.5h0M172.7 66.1h0M204.5 83.7h0M192.5 84.4h0M190.7 74h0M165.8 68.3h0M179.5 83h0M188.5 76.5h0M202.6 82.3h0M174.9 65.7h0M185.2 82.5h0M169.4 80.1h0M180.4 65.6h0M187.6 86.8h0M206.7 88.2h0M181.9 68.2h0M175.6 75.4h0M173.5 72.1h0M202.1 83.3h0M203.2 93.5h0M178.4 87.7h0M169.9 73.7h0M188.6 65.6h0M193 72h0M199.5 82.7h0M172.3 82.7h0M181.2 66.9h0M193.4 90.3h0M177.6 67.7h0M192.5 76.1h0M200.3 75.4h0M168.4 75.3h0M171.1 75.1h0M181.8 74.7h0M176.7 63.7h0M166.6 67h0M176.1 80.7h0M186.8 95.5h0M188.8 88.2h0M190.6 84.8h0M198.6 92.2h0M177.4 88h0M190.4 74.4h0M166.6 76h0M184.8 75.7h0M180.7 67.2h0M183 77.6h0M171.7 65.4h0M195.4 81.3h0M203.2 82.8h0M178.4 89.8h0M168.2 78.9h0M175.8 63.8h0M193.5 70.3h0M189.4 91.9h0M194.9 95.6h0M198 93h0M173.4 80.3h0M178 87.8h0M193.5 74.4h0M178.3 79.2h0M203.2 81.9h0M190 87.8h0M171.4 67.1h0M197.5 76.9h0M187.3 84.8h0M195.1 70.2h0M197.1 71.3h0M181.9 71.9h0M184.6 84.5h0M166.9 67.4h0M188.4 68.5h0M171 67h0M171.7 63h0M191.3 73.6h0M182.3 92.6h0M203.8 84.7h0M175.8 77.9h0M195.5 86.8h0M174.7 83.3h0M195.7 91.5h0M185.5 94.1h0M188.2 77.4h0M180.1 89.1h0M178.6 64.6h0M168.9 68h0M194.6 92.9h0M185.4 70.6h0M170.4 79.9h0M185 67h0M201.1 88.2h0M176.7 65.1h0M181.7 81.8h0M192.4 84.8h0M194.1 95.6h0M179.7 74.4h0M180.5 76h0M189.9 95.4h0M180.6 71.1h0M199.8 89.4h0M192.9 73h0M198.1 78.9h0M174.6 83.5h0M193.2 75.9h0M192.2 73h0M174 85.2h0M183.6 87.3h0M174.8 67h0M186.7 80.2h0M184.6 83.3h0M180.8 90.9h0M171.8 71.6h0M197.6 80.6h0M192.3 78.2h0M192.4 75.1h0M180.1 74.3h0M173.6 82.3h0M194.2 72.4h0M191.3 92.8h0M197.3 84h0M183 74.6h0"/>
<path stroke="#8eb440" stroke-width="1.45" stroke-linecap="round" d="M186.2 111h0M185.7 108.6h0M184.5 113h0M196.5 100.1h0M188.3 103h0M187 122.7h0M188.6 118h0M195.3 106.1h0M175 119.4h0M199 108.8h0M197.6 105.3h0M188.1 109.1h0M201 91.3h0M190.2 102.3h0M201.2 95.4h0M189.1 100.3h0M192.1 99.1h0M189.3 101.2h0M180.9 119.8h0M185.5 124.9h0M194 85.8h0M193.4 91.1h0M198.5 104.1h0M201.1 89.9h0M186 114.5h0M196.8 91.2h0M173.2 120.7h0M191.3 97.5h0M203.3 97.5h0M185.1 112.8h0M196.5 102h0M203.1 87.7h0M181.9 97.8h0M201.6 88.2h0M192.8 107.5h0M181.6 121.8h0M183.5 124.3h0M183.4 105h0M178 118.2h0M189.3 87.6h0M193.4 104.1h0M176.2 112.8h0M183.7 99.6h0M176.8 126.2h0M200.6 89.1h0M176.6 107h0M178.1 121.5h0M187.2 117.4h0M180.2 116.9h0M189.9 96.3h0M190.2 93.1h0M196.2 88h0M193.4 112.9h0M199.7 103.8h0M180.1 115h0M185 125.9h0M188.7 103.2h0M198 112.7h0M174.8 115.3h0M198.5 87.7h0M192.9 101.2h0M202.8 96.6h0M205.9 88.6h0M180.6 120.7h0M185.4 94.3h0M193.9 115.6h0M184.5 108.1h0M198.7 101.3h0M183.4 119.7h0M194.9 101.5h0M177.9 113.8h0M178 120.9h0M186.6 105.2h0M200.2 91h0M176.2 125.1h0M186 123h0M186.1 126.3h0M192 100h0M186.1 126.6h0M193.7 108.5h0M197.2 86h0M176.6 109.1h0M184.8 115.5h0M196.9 96.2h0M184.6 123.9h0M191.8 118.6h0M201.8 90.4h0M184.6 99.9h0M203.6 93.5h0M186.2 100.4h0M177.1 123.7h0M193.4 118h0M196.4 103.7h0M196.1 97.5h0M189.5 95.8h0M198.8 84.6h0M184 125.2h0M186.7 119.3h0M193.7 112.8h0M183.9 100h0M177.1 121.2h0M188.4 119.5h0M185.4 110.6h0M177.2 111.7h0M176.1 113h0M192.4 120.1h0M199.2 99.1h0M201.9 98h0M192.7 119.2h0M192.8 99.8h0M179.9 120h0M201.2 107.4h0M192.5 114.6h0M189.7 111.3h0M186.8 90.2h0M195.7 104.1h0M186.3 97.7h0M190.1 104.3h0M192.7 113.9h0M196.5 112h0M178.4 111.1h0M184.4 121.6h0M174.2 118h0M188.5 119.7h0M191.3 106.6h0M197.6 98.7h0M179.2 109.3h0M188.7 112.2h0M203.9 101.3h0M186.5 108h0M195.6 86.5h0M195 116.1h0M196.9 106h0M192.6 89.6h0M194 116h0M180.5 125.5h0M203.4 95.5h0M199.3 88.2h0M179 119.7h0M177.3 116.4h0M189.5 119.3h0M192.5 118.5h0M190.4 96.6h0M198.2 83.4h0M193.7 93.1h0M200.3 89h0M195.7 88.6h0M194.4 109.6h0M184.5 108.5h0M195.5 83.5h0M187.7 123.9h0M187 115.2h0M184.7 98.6h0M197.6 96.8h0M183.5 115.1h0M200.5 108h0M181.8 111.9h0M203.4 90.6h0M184.9 120.9h0M182.5 123h0M195.3 112h0M190.8 111.3h0M181.5 117.5h0M181.9 100.6h0M197.6 87.7h0M200.6 84.7h0M195.5 96h0M202 89.7h0M194.8 92.1h0M194.2 108.9h0M174.3 122.5h0M185.5 116.4h0M189.8 90.6h0M181.8 99.7h0M184.3 98.8h0M200.6 84.5h0M188.1 114.9h0M188.4 92.5h0M185.5 103.7h0M199.1 106.3h0M202.3 88.3h0M202.1 93.5h0M196 87.5h0M178.7 112.9h0M195.3 106.3h0M197.3 108.3h0M193.7 113.4h0M201.7 99.4h0M180.1 109.5h0M176.5 115h0M188.1 113.4h0M177.5 104.3h0M193.5 92.7h0M179.2 126.3h0M184.6 112.9h0M178.9 119.6h0M179.3 102.9h0M176.4 125.7h0M190 108.8h0M190.1 104.6h0M205.5 95.2h0M173.9 123.4h0M187.3 105.3h0M194.8 106.6h0M195.1 107.2h0M206.6 93.3h0M191.1 91.1h0M191.3 113.9h0M192.4 102.7h0M194.7 114h0"/>
<path stroke="#bea428" stroke-width="1.45" stroke-linecap="round" d="M181.3 135.1h0M175.3 145.5h0M177.3 135.9h0M175.6 138.2h0M176.6 141.7h0M177 135.9h0M176.2 141.8h0M175.3 150.5h0M174 124.8h0M182 136.7h0M177.9 138.1h0M180.8 136.2h0M178.9 150.1h0M179.1 134.3h0M184.5 147.1h0M176.1 130.3h0M177.4 139.2h0M178.4 140.7h0M183.8 141h0M174.3 137.1h0M177.7 143.2h0M170.2 133.1h0M180.6 138.3h0M181.3 138.5h0M173 142.8h0M183.8 139.2h0M177.4 143.3h0M178.7 144.7h0M175.9 137.1h0M168.6 137.6h0M181.3 141h0M177.7 130.9h0M166.1 143.7h0M172.3 135.8h0M173.4 138.1h0M178.2 145.5h0M175.8 138.9h0M178.8 128.2h0M175.5 139.4h0M177.5 132.8h0M172.8 131.8h0M175.3 132.6h0M182.2 135.4h0M174 145.5h0M174.7 154.1h0M178.3 127.9h0M174.3 134h0M176.2 134.2h0M173.7 136.9h0M179.6 133.4h0M176.1 135.6h0M176.5 130.6h0M181.5 134.5h0M183.4 145.6h0M179.2 142.8h0M183.6 148.5h0M168.5 143.4h0M175.7 150.5h0M174.7 137h0M168 139.9h0M177.6 149.2h0M175.2 145.9h0M181.3 139.4h0M167.8 134.1h0M176.3 132h0M179.3 134.3h0M181.4 137.1h0M182.1 147.2h0M180.6 147.6h0M168.1 136.7h0M180.8 146.6h0M173.3 143.1h0M176.5 137.9h0M173.9 139.9h0M182.3 127.9h0M181.5 141.1h0M168.2 141.6h0M175.4 133.3h0M178.9 137.7h0M182 148.9h0M178.3 142.5h0M171.5 139.5h0M167.3 141.4h0M178 154.1h0M176.9 130h0M166.4 136.8h0M173.9 140.6h0M183.8 133.2h0M172.6 129.3h0M176.6 147h0M178.6 137.6h0M173.4 131.6h0M173.5 141.8h0M179.7 145.3h0M172.1 139.7h0M171.7 145.9h0M176.5 130.5h0M181.5 151.6h0M178.7 139.1h0M171.3 145.2h0M175.5 141h0M176.7 142.9h0M174.5 148.9h0M174.1 133.6h0M182.7 136.5h0M166.4 135.9h0M173.7 133.9h0M172.7 136h0M179.7 138.5h0M177.8 139.1h0M182.3 140h0M177.6 147.3h0M183 148.3h0M172.3 130.5h0M172.6 129.8h0M177.6 139.5h0M173.5 147.6h0M181.2 139.9h0M181.5 134.3h0M176.4 138.5h0M176.9 143.6h0M177.1 136.8h0M179.6 137.3h0M180.4 133.9h0M169.6 145.4h0M184.6 144.8h0M178.4 139.1h0M175.9 134.1h0M178.8 144.7h0M170.8 132.6h0M180.3 148.8h0M171.5 137.5h0M179.1 136.4h0M177.8 142.6h0M179.9 146.8h0M176.9 135.7h0M169.5 139.3h0M171.2 136.9h0M175.2 139.2h0M180.9 142h0M176.7 150.9h0M176.5 152.2h0M176.1 142.5h0M171.1 140.5h0M171.6 149.4h0M177.3 149.5h0M178.8 133.1h0M173.5 136.9h0M177.9 140.7h0M174.9 142.1h0M172.9 133.8h0M173.8 147.1h0M179.5 137.5h0M178.4 144.3h0M171.1 152.8h0M174.6 132.6h0M176.8 141.3h0M183 148.7h0M174.3 136.3h0M174.8 137.8h0M171.5 139.2h0M182.6 146.2h0M174.8 131.5h0M179.7 148.3h0M169.3 143.6h0M185.1 147.5h0M179.5 139.6h0M173.3 142.2h0M182.5 144.9h0M180.5 139.3h0M175.2 149.6h0M176.9 146.3h0M174 132.8h0M177.1 141.7h0M178 138h0M170.2 139.4h0M178.6 149h0M166.9 139.8h0M178.2 132.4h0M179.6 145.6h0M181.3 146.9h0M173.9 131h0M177.5 139.2h0M174.1 127.6h0M179.3 143.4h0M182.2 142.5h0M175.2 133.3h0M174.4 133.4h0M175.1 134.2h0M181.3 138.5h0M178.2 139.6h0M174.5 126.1h0M174.1 136.5h0M181.5 131.7h0M179.7 143.9h0M175.8 139h0M180.5 141.2h0M171.4 153h0M178.2 126.2h0M173 137.7h0M170.3 138.6h0M173.5 145.1h0M169.4 138.9h0M176.7 144.9h0M170.1 139.4h0M169.6 144.4h0M178.4 147.2h0M174.6 151h0M173.5 128.1h0M172.2 138.9h0M181.3 135.8h0M173.1 143.5h0M169.6 145.7h0M178.4 132.4h0M175.6 134.8h0M171.5 141.4h0M174.4 145.5h0M176.2 128.4h0M177 144.3h0M177.6 129.8h0M172.8 130.9h0M174.6 134.4h0M180.4 141.9h0M168.6 137.9h0M184.8 136.9h0M176.6 145.6h0M182.9 147.1h0M175.5 131.7h0M173.3 143.4h0M168.1 140.4h0M183.7 131.4h0M179.6 134.1h0M172.2 142.3h0M179.1 138.8h0M178.2 144.1h0M184.6 133.2h0M171.2 151.1h0M180.1 134.9h0M179.1 150.4h0M174.2 141.9h0M180.4 135.3h0M170.6 145h0M176 140.9h0M172.2 143.7h0M180.8 140h0M176.3 133.4h0M173 130.9h0M176.4 140.8h0M172.9 131.2h0M175.1 143.9h0M182.7 127.7h0M176.7 148.5h0M172.1 136.8h0M180.3 140.9h0M171.8 132.2h0M173.5 139.3h0M177 145.2h0M171.9 142.7h0M178 137.6h0M179.7 139.1h0M178.3 135.5h0M171.8 136.1h0M184.7 142.4h0M177.5 134.5h0M176.9 131.8h0M171.6 129.7h0M183.1 140.7h0M165.6 130.8h0M174.9 130.2h0M164.5 135h0M168.3 144.2h0M166.6 138.8h0M185 129.6h0M170.9 141.6h0M171.8 126.6h0M171.5 133h0M173 152.3h0M166.7 142.6h0M173.3 130h0M183.8 134.7h0M179.3 143.6h0M167.3 128.2h0M170.1 143.4h0M166.9 139.6h0M166.1 137.8h0M169.8 143.4h0M182.6 141.3h0M183.8 139.8h0M174.7 151.2h0M167.3 142.1h0M170.3 149.7h0M176.6 124h0M182.4 143.7h0M168 150.2h0M172.3 126.3h0M165.9 129.2h0M173.7 148.6h0M183.3 145.5h0M185.1 139.1h0M165.4 144.6h0M174.9 129.6h0M181.6 149.2h0M173.3 132.2h0M172 138.8h0M182.3 145.1h0M168.1 133.1h0M174 140.5h0M174.9 138.2h0M181.2 134h0M169.2 142.5h0M177.4 130.3h0M183.4 130.6h0M178.9 143h0M170.5 148h0M182.6 135.1h0M167 127.4h0M167.2 129.9h0M166.3 129.1h0M174.1 139.9h0M177.5 140.8h0M170.8 146h0M179 134.8h0M179.6 144.8h0M182.1 125.7h0M164.7 131.5h0"/>
<path stroke="#5eacc0" stroke-width="1.45" stroke-linecap="round" d="M171.1 125.7h0M152 116.4h0M151.1 117.5h0M143.1 118.7h0M161.8 116.9h0M143.7 118.6h0M136.8 123h0M152.1 116.7h0M171.3 124.9h0M163.8 117.9h0M154.4 116.7h0M141.3 118.3h0M164.8 119.7h0M159.5 115.7h0M141.7 119.4h0M144 118.7h0M167.5 122.3h0M142.5 119.7h0M164.4 118.8h0M136.1 123.7h0M135.5 123.6h0M163.6 118.4h0M139.4 122.4h0M140.6 119.3h0M147.4 116.5h0M144.8 118.2h0M141.4 120.2h0M164.1 118.5h0M165 118.8h0M141.8 120h0M137.7 122.5h0M149.6 116.5h0M166.4 120.6h0M159.5 116.5h0M166.5 120.7h0M137.5 121.5h0M140.5 119.9h0M138.3 121h0M144.7 117.3h0M163.8 119.5h0M143.8 118.2h0M162.9 116.5h0M143.1 118.4h0M145.2 118.1h0M164.9 119.7h0M171 125.7h0M146.8 117.3h0M159.8 116.4h0M156.9 116.4h0M169.5 123h0M138.7 120.1h0M148.3 116.8h0M166 120.2h0M150.1 116h0M162.6 117.5h0M153 115.7h0M149.6 115.3h0M170.9 124.8h0M152.7 115.6h0M137 124.1h0M139.1 119.7h0M147 118.2h0M166.1 119.8h0M151.6 117.4h0M137.4 121.8h0M139.9 120.3h0M140.2 118.7h0M142 119.7h0M152 115.8h0M144.1 118.6h0M143.5 118.5h0M171.4 123.4h0M160.2 116.2h0M163.7 118.2h0M142 119.4h0M167.6 121.3h0M144.2 116.3h0M139.9 120.4h0M140.6 119.7h0M141.9 118.2h0M168.8 122.7h0M165.5 118.4h0M172.3 126.3h0M167.8 121.7h0M150 116.1h0M139.9 120.3h0M150 115.6h0M166.4 120.3h0M166.2 121.5h0M164.8 119.3h0M162.7 116.4h0M139.2 120h0M168.6 121.6h0M167.9 122.3h0M170.4 124.5h0M161.6 118.1h0M157.3 115h0M165.2 119.6h0M143.1 118.4h0M138.5 121.1h0M166.8 120.9h0M137 122.4h0M153.9 114.9h0M172 126.3h0M170.8 123h0M165.7 119.2h0M158.5 116.5h0M168.1 121.1h0M151 116.9h0M142.9 118.4h0M171.3 125.7h0M169.8 125h0M151.4 115.9h0M137.4 120.7h0M166.8 120.5h0M164.5 119.1h0M168.9 123.8h0M148.5 116.5h0M142.7 118.7h0M164.9 119.5h0M152.5 120.8h0M166.4 124.9h0M163.2 122.6h0M153.3 121h0M148.2 121.9h0M137.3 123.1h0M164.7 123.8h0M166.2 123.5h0M156.5 120.8h0M156.6 120.6h0M150.1 120.6h0M140 124.1h0M159.3 120.9h0M144.8 121.7h0M155.9 121h0M154.6 120.6h0M159.2 120.7h0M163.3 122.4h0M166.6 123.9h0M138.4 124.3h0M141.4 122.3h0M169 125h0M145 122.1h0M149.5 121h0M142.3 122.9h0M143.5 122.2h0M142.6 122.1h0M168.1 123.4h0M152.7 121.2h0M141.7 123.1h0M159 121.4h0M148.3 121h0M159.2 120.6h0M164.2 122.7h0M163.4 122.1h0M156.8 121.1h0M151.3 120.9h0M156.7 120h0M142.1 122.1h0M161.8 120.9h0M164.6 111h0M165.8 110.5h0M171 110.1h0M164.7 110.1h0M164.8 110.8h0M166.7 110.9h0M166.9 110.2h0M167.4 110.4h0M165.5 110.2h0M147.3 128h0M147.8 131h0M139 126h0"/>
<path stroke="#6fa040" stroke-width="1.45" stroke-linecap="round" d="M216.3 159.9h0M228.5 157.7h0M231.8 159.8h0M238.8 165.6h0M229.3 157.5h0M234.8 159.1h0M214 158.7h0M219.3 156.3h0M224.5 155.5h0M230.5 157.5h0M210.5 160.9h0M227.9 155.7h0M239.8 164.9h0M211.5 164h0M229.1 158.4h0M223.9 157.4h0M233.1 160.2h0M226.3 158.3h0M206.8 163.1h0M236.4 162h0M235.4 161.8h0M229.1 158.7h0M236.5 163.4h0M210.1 163.8h0M233.8 156.7h0M214.8 160.8h0M219.9 156h0M239.2 166.8h0M230.3 157.2h0M215.9 157.8h0M233.9 159.2h0M209.9 161h0M228.2 157.3h0M208.4 165.3h0M210.4 162.2h0M239.2 165h0M210.1 162.7h0M229.7 160h0M239.8 169.2h0M238.3 168.1h0M237.6 168.1h0M238.6 160h0M223.2 155.8h0M216.6 158.7h0M238.1 165.8h0M217.6 158.1h0M234.1 165.1h0M217.2 159h0M220.1 159.3h0M233.6 159.4h0M213.3 159.6h0M229.5 157.3h0M238.3 166h0M207.1 164.5h0M228.2 159h0M231.5 157.2h0M235.2 165.3h0M236.7 167.7h0M228.8 155.4h0M213.2 160.1h0M227.6 158.6h0M206.3 162.7h0M208.8 160.9h0M238.7 164.8h0M236 168.4h0M218.1 156h0M233.2 158.6h0M235.3 159.9h0M209.6 161.6h0M217 157h0M222.6 158.4h0M228.8 156.1h0M238.6 162.7h0M220.1 157.4h0M209.9 162.2h0M222.2 156.1h0M237.9 160.6h0M222.3 157.3h0M210.1 160.8h0M236.4 160.5h0M208.5 164.6h0M215.7 158.7h0M222.3 154.8h0M235.4 162.6h0M209.8 162.5h0M214.4 156.5h0M210.9 161h0M230 157.3h0M209.7 163.1h0M207.1 161.4h0M207.3 164.3h0M229.8 157.6h0M223.8 155.5h0M223.7 158h0M229.2 156.8h0M225.2 155.8h0M237.3 171.7h0M236.9 169.1h0M218.3 158h0M222.9 155.7h0M225.2 156.2h0M232.3 158.5h0M216.4 159.6h0M234.3 158.1h0M230.4 158.3h0M225.5 158.8h0M224 156.5h0M231.5 158.5h0M210.2 161.6h0M238.8 161.5h0M230.3 160.8h0M234.4 160.9h0M232 159h0M226.5 158.8h0M235.5 170.7h0M224.2 163.2h0M227.9 159.2h0M228.8 165.5h0M234.5 161.7h0M237.6 164.5h0M236.8 164.8h0M235.3 163.9h0M226.6 163h0M236.3 165.2h0M231 166.9h0M228.9 163.7h0M235.8 172.1h0M231.5 170.6h0M231.8 167.6h0M234.3 169h0M232.9 164.6h0M235.7 164h0M234.6 170.7h0M238.3 164.4h0M228.9 165.7h0M233.6 162.9h0M236.1 166.8h0M237.9 169.3h0M232.1 164.3h0M233.4 167h0M233.7 172h0M228.3 158.9h0M228.4 159.8h0M228.2 168.8h0M232.5 161.8h0M237.6 167.7h0M233.1 163.6h0M231.1 171.4h0M232.6 165h0M227 169.3h0M230.5 165.5h0M234.4 166h0M226.1 165.6h0M230.6 161.1h0M233.4 170.7h0M224.3 161.2h0M236.7 164h0M228.8 163.5h0M231.1 167.7h0M227.3 161.3h0M231.5 165.6h0M233.9 164.9h0M236.2 162.7h0M228.1 160.3h0M234.2 161.3h0M232.9 165.3h0M226.8 169.8h0M228.5 162.8h0M230.1 166.2h0M237.3 172.3h0M232.8 160.2h0M236.5 171h0M232.4 165.8h0M235.8 163.4h0M231.3 160.8h0M226.7 163.6h0M236.1 164.4h0M224.7 164.1h0M227 159.9h0M228 166.9h0M231.4 163.7h0M233.8 158.8h0M231.8 161.9h0M234.7 168.7h0M230.5 167.4h0M228.7 168.8h0M231.4 163.5h0M225.1 164.6h0M237.6 164.8h0M225.3 165.1h0M235.5 169.4h0M231.7 159.3h0M233.4 164.3h0M232.6 169.1h0M229.1 161.8h0M234 166h0M236.6 162.4h0M227.4 169.2h0M236.8 170.1h0M234.2 165.2h0M230 165.8h0M226.6 162.6h0M234.8 159.8h0M237.1 166.4h0M229.5 169.3h0M232.8 173h0M232.6 172.5h0M235.3 163.7h0M234.9 166.2h0M229.9 162.7h0M226.5 173.7h0M214.6 166.5h0M217.7 161.5h0M222.4 158.8h0M220.1 165h0M218.4 168.5h0M226.1 170.5h0M215.9 164.6h0M224.4 166.7h0M226.1 172.2h0M214.3 166.7h0M220.9 169.4h0M224.2 174.6h0M224.2 168.7h0M217.1 161.1h0M219.1 164.1h0M223.5 170.9h0M222.5 175.5h0M226.1 172.8h0M225.7 166.5h0M225.8 173.5h0M218.3 162.1h0M219.1 165.7h0M222.5 169.3h0M224.4 166.4h0M218.8 169.4h0M226.1 170.9h0M223.4 175h0M225 170.5h0M217.1 162.4h0M223.2 163.5h0M218.9 171.7h0M222.1 176h0M224.3 167h0M223.5 165.4h0M222.1 172.6h0M222.1 172.7h0M223.4 179.9h0M223.3 176.4h0M221.1 171.9h0M222.4 176h0M221.6 173.8h0M222.5 173.9h0"/>
<path stroke="#62a6e2" stroke-width="1.45" stroke-linecap="round" d="M199.2 164.8h0M186.2 160.2h0M184.7 162.7h0M201 165h0M187.6 163.6h0M201.7 166.7h0M184.7 160.3h0M186.8 162.9h0M181.4 160.8h0M193.5 165h0M184.2 162h0M187.2 164.5h0M187.2 165.1h0M189.8 164.1h0M192.8 162h0M190 164.4h0M194.9 163.7h0M186.8 162.6h0M196.6 163h0M194.9 164.8h0M195.2 166.6h0M189.7 167.1h0M188.3 163.6h0M197 162.5h0M202 164.9h0M196.1 162.7h0M184.6 165.3h0M190.9 163.9h0M191 165.3h0M197.7 164.4h0M186.2 159.3h0M180.8 166.3h0M184.6 160.1h0M196 164.5h0M183.4 161h0M195.9 164.1h0M192.5 165.1h0M194.1 164.3h0M183.6 164.2h0M200.5 164.3h0M203.2 174.1h0M202.4 173.1h0M200.6 167.6h0M199.9 169.8h0M202.3 169.9h0M202.1 171.7h0M201.3 174.6h0M202.7 169.9h0M202.5 171.3h0M203 176.6h0M203.3 177.7h0M204.1 167.5h0M201.7 174.5h0M202.1 168.1h0M203.3 173.3h0M202.3 175.1h0M201.5 171.2h0M202 166.4h0M203.1 170.8h0M202.8 166.3h0M201.7 182.6h0M204.4 182.4h0M200.7 182.2h0M204.5 180.9h0M203.7 182.3h0M202.2 181.2h0M206.5 181.8h0M202.5 179.7h0M200.7 182.4h0M205.4 182.2h0M204.7 180.8h0M205 180.9h0M206.3 180.6h0M202.3 181.8h0M202.3 183.2h0M246.2 113.5h0M248.5 113.2h0"/>
<path stroke="#8c52b6" stroke-width="1.45" stroke-linecap="round" d="M154.2 158.8h0M152.9 153h0M153.6 153.8h0M151.3 152.7h0M153.3 149.6h0M152 158.8h0M153.4 157.5h0M155 157.8h0M155.9 157.5h0M154.7 153.6h0M151.6 149.8h0M154 159.8h0M153.5 156.3h0M152.6 149.6h0M153.5 157.1h0M152.2 156.3h0M151.6 155h0M153 156h0M151.4 152.4h0M154.4 156h0M152.3 153.8h0M150.7 149.8h0M153.2 159.8h0M153.5 149.8h0M152.7 152.6h0M154.3 161.1h0M175.2 168h0M174.6 169.7h0M176.5 167.8h0M173.4 168.1h0M173.8 168.4h0M174.4 168.1h0M172.4 168.5h0M174.6 169.6h0M173.2 169.3h0M176.2 170.2h0M177.4 169.5h0M174.2 169.6h0M177.5 170h0M173.5 167.5h0M178.3 169.6h0M174.6 168.2h0"/>
<path stroke="#6a98dc" stroke-width="1.45" stroke-linecap="round" d="M86.7 55.9h0M90.9 59.1h0M82.3 59.9h0M82.7 56.1h0M91.2 59.3h0M83.5 56.4h0M91.9 59h0M82.3 56.3h0M89.2 57.3h0M84.7 60.8h0M94.4 61.4h0M92.5 61.8h0M85.1 55.9h0M82.8 58h0M81.8 59.7h0M94.9 66.2h0M84.5 57.7h0M91.7 57.6h0M88.3 61.4h0M89.9 62.2h0M97 63.9h0M88.5 59.8h0M84.9 56.3h0M84.2 59.1h0M91.6 56.5h0M88.4 54.4h0M89.4 60.7h0M87.3 57.3h0M90.1 55.9h0M95.7 63.9h0M87.5 55.7h0M95.9 64.1h0M85.2 61.1h0M81.9 58.5h0M97.4 67.2h0M85.2 57.4h0M96.5 64h0M84.3 55.5h0M87.3 61.5h0M85.7 58.6h0M86.5 60.5h0M86.4 59.6h0M89.7 61.2h0M89.7 56.5h0M84.2 59.8h0M86.1 60.7h0M85.7 57.1h0M90.8 60.8h0M87.8 61.4h0M83.8 60.1h0M89 60.5h0M83.7 59.8h0M84.7 58.2h0M91.1 60h0M93.1 61.5h0M84.1 57.8h0M85 56.3h0M91.1 63.5h0M93.9 60.3h0M87.9 58.2h0M85.6 55.7h0M83.6 56.3h0M86.7 57.7h0M89.7 56.5h0M93.8 62h0M87.4 59.5h0M92.8 62.8h0M86.5 56.7h0M86 57.8h0M84 61.3h0M87.1 58.8h0M89.5 61.4h0M83.1 59.4h0M86 56.8h0M93.7 61.9h0M88.2 58.4h0M94.4 62.9h0M94 65.4h0M93.9 64.6h0M92.8 63.5h0M84.4 59.5h0M90.2 61.9h0M94 64.1h0M82.7 57.2h0M88.9 59.3h0M94 62.2h0M83.9 57h0M82.1 57h0M92.1 57.9h0M89.5 55.4h0M89.2 58.8h0M89.2 58.4h0M88.3 59.3h0M87.4 59.9h0M85.3 57.6h0"/>
<path stroke="#6a74bc" stroke-width="1.45" stroke-linecap="round" d="M132.8 98.2h0M132.4 99.3h0M129.7 99.5h0M129.5 98.4h0M129.9 97.8h0M129.6 100.5h0M130.8 99.7h0M127.8 100.2h0M128.7 102.3h0M131.5 99.8h0M128.8 98.9h0M127.7 99.5h0M130.4 100.8h0M131.1 103.1h0M128.2 100h0M128.7 100.3h0M130.1 100.6h0M129.3 100.5h0M129.9 101.2h0M125.6 98.7h0M129.8 98.5h0M127.5 100.9h0M128.4 101h0M131.4 100.5h0M130.9 99.8h0M126.7 100h0M130.8 99.2h0M129.6 101.1h0M127.9 101h0M133.9 99.2h0M130.1 99.8h0M133.2 100.5h0M131.8 99h0M129.8 100h0M131.8 97.4h0M131.4 99.8h0M130.8 100.5h0M126.5 99.7h0M133.1 99.1h0M127.5 98h0M127.1 100.5h0M133.5 100.6h0M128.7 99h0M131 100.8h0M127.6 98.2h0"/>
<path stroke="#b0307e" stroke-width="1.45" stroke-linecap="round" d="M99.4 97.5h0M102.9 98.8h0M102.6 99.2h0M101.3 98.7h0M104.9 99.8h0M99.8 97.9h0M100.5 98.2h0M103.5 99.1h0M102.9 99.2h0M99.3 96.8h0M104.1 99.9h0M103.8 99.2h0M106.3 100.6h0M100.9 98h0"/>
<path stroke="#c0408a" stroke-width="1.45" stroke-linecap="round" d="M86.7 134.5h0M85.2 129.8h0M86.6 130.6h0M92.7 129.1h0M85.7 129.2h0M91.1 128.6h0M89 137.4h0M97.3 133.5h0M97.1 129.9h0M249.8 112.1h0M250.9 113.3h0M253 114.1h0M252 113.4h0M251 113.1h0M250.1 112.4h0M252.2 113.9h0M252.6 113.6h0"/>
<path stroke="#c86060" stroke-width="1.45" stroke-linecap="round" d="M399.5 223.7h0M412.3 203.7h0M381.6 223h0M400.7 223.1h0M385.2 197.7h0M400.8 201.8h0M386.2 198h0M412.1 206h0M409 208.9h0M394.2 226.9h0M409.8 207.5h0M412.7 203.3h0M398.4 217.4h0M408 207.9h0M390.2 196.5h0M404.6 199.8h0M411.8 203.3h0M374.1 202.2h0M378.5 200.3h0M405.5 226.7h0M394.8 220h0M410.2 203.6h0M377.8 200.6h0M380.7 213.5h0M414.4 217.1h0M410.7 199.3h0M401 222.7h0M406.8 198.9h0M402.9 224.8h0M387.2 196.7h0M404.6 199.9h0M412.4 210.4h0M385.6 220.3h0M398.2 223.5h0M382.7 211.9h0M374.1 220.6h0M392.3 204.4h0M394.4 212.4h0M405.1 208.7h0M402.3 227.5h0M410.9 210.2h0M397.5 214h0M402.4 218.8h0M411.6 202.8h0M409.7 197.6h0M389 214.4h0M385.6 201.8h0M399.3 207.5h0M387.6 220.4h0M388.8 215.5h0M389.1 203.7h0M378.3 200.3h0M411.9 202.8h0M412.9 200h0M398.5 215.2h0M405.9 228.2h0M390.9 218.8h0M392 200.9h0M382.3 218.9h0M413.2 208.4h0M410.6 226.5h0M382.2 203.6h0M392 197.7h0M386.7 229.2h0M390.7 210.2h0M382.2 223h0M394.9 217.7h0M406.8 213.7h0M391.3 226.2h0M398.3 230.1h0M393.9 215.5h0M406.2 226.6h0M403.3 210.9h0M391.1 222.5h0M397.2 194.3h0M386 222.2h0M381.2 198.7h0M408.5 209.8h0M400.8 211.2h0M401.4 224.9h0M375.8 214.3h0M373.9 207.8h0M401.5 224.1h0M398.7 228h0M395.4 210.5h0M416 212.3h0M399.2 197.5h0M403.7 204h0M397.3 215.5h0M391.4 220h0M377.3 209.8h0M408.2 209.6h0M381.6 205.2h0M385.6 226h0M385.9 203.7h0M404.5 201.3h0M389.1 215h0M404.2 201.4h0M391.8 215.6h0M396.7 215.9h0M396.4 223.8h0M404.7 224.9h0M402.9 219.9h0M390 226.2h0M411.3 200.2h0M412.6 221h0M407.4 219.1h0M381 215.4h0M402.3 211.5h0M377.7 203.7h0M391.7 213.6h0M393.5 202.3h0M402.1 215.5h0M399.4 196.2h0M390.4 213.4h0M398 229.8h0M390.1 196.6h0M397.1 201.6h0M394.8 200.2h0M406.4 197.1h0M404.3 214h0M407.2 215.4h0M414 205h0M409.7 206.4h0M399.9 215.5h0M393 209.7h0M376.6 205h0M406.3 207.4h0M396 199.5h0M399.8 206.8h0M407.1 200h0M396.9 199.4h0M407.9 211.4h0M399.2 205.6h0M393.7 221.2h0M399.1 210.2h0M381.7 221.5h0M404.7 223.4h0M414 202h0M394 203.7h0M386.7 210.9h0M401.2 210.8h0M396.8 204.2h0M404.4 209.9h0M403.5 212.4h0M375.4 206.6h0M373.2 215h0M410.2 213.9h0M409 228.7h0M390.3 212.1h0M388.6 214.4h0M396.2 210.8h0M379.9 223.4h0M378.2 199.3h0M410.3 220.7h0M407 199.4h0M401.7 196.3h0M383 225.4h0M388.7 224.3h0M376.5 205.7h0M380.8 198.3h0M377.3 227.1h0M376.8 209.2h0M402.4 224h0M384.9 203.3h0M403.6 209.2h0M395.1 226.2h0M400.2 195.8h0M378.5 223.7h0M395.5 228.4h0M388.7 196.6h0M408.2 223.4h0M403.7 197.9h0M401.1 201.7h0M383 208.4h0M384.4 202.4h0M405.6 228.2h0M390.1 226.3h0M415.5 209.2h0M408.1 214.5h0M403.5 217.5h0M392.3 202.7h0M417.5 216h0M391.6 219.4h0M410.9 216.7h0M378.3 222.8h0M389.3 221.1h0M391 221h0M385.6 203.8h0M408.5 198.6h0M403.4 214.7h0M400 198.9h0M376.3 217.6h0M393.8 217.1h0M383.4 196.7h0M405.5 211.3h0M385.2 226.2h0M400.7 201.2h0M409.9 228.2h0M384.2 217.3h0M385.7 202.8h0M401.5 204.8h0M391.2 198.6h0M391.7 196.5h0M396 229.5h0M376.1 212.7h0M380.2 204.6h0M384.8 206.9h0M381.8 215.6h0M388.1 205h0M399.7 212.4h0M408.9 196h0M400.4 220.8h0M396.5 223.2h0M409.9 217.1h0M404.8 209.4h0M378.1 200.3h0M413.7 201.6h0M383.1 219.1h0M403.6 220.8h0M393.7 206.2h0M396.3 222.6h0M410.2 214.8h0M412.8 210.3h0M391.7 215.4h0M389.3 197.9h0M397.2 199.8h0M393.8 223.3h0M407.2 210.3h0M394 205.1h0M406.3 228h0M380.6 204h0M397.6 204.6h0M415.3 216.9h0M379.1 226.3h0M408.7 200.8h0M391.6 203.5h0M404.6 227.2h0M395.7 202.6h0M412.1 206.4h0M400.5 212.7h0M398.4 200.6h0M382.2 207.1h0M383.4 208.2h0M383.9 230.5h0M393.7 202h0M374.4 213.6h0M417.9 206.8h0M401.6 230.5h0M390.1 220.5h0M376.6 214.6h0M388.3 224.8h0M376.2 222.8h0M374.6 209.5h0M378.3 199.3h0M397.1 203.6h0M395.9 201h0M405.2 223.4h0M387.2 228.9h0M407.4 200.4h0M382.4 211.7h0M402.2 203.9h0M410.9 227.6h0M390.5 229.3h0M394.9 226.6h0M405.4 225.5h0M389.3 218.9h0M414.1 227.9h0M399.4 219.6h0M379.5 222.2h0M405.7 196.8h0M379.3 220.6h0M408.7 205.3h0M410.2 229.9h0M374.7 206.3h0M403.2 229.9h0M374.9 214.8h0M379.1 210.2h0M396.8 206.5h0M402.6 200.4h0M405 225.5h0M385.8 214.2h0M384 195.7h0M377.5 204.8h0M395.9 218.5h0M378.9 227.1h0M387 195h0M399.7 213.4h0M383.4 205h0M381 217.5h0M403.8 207.8h0M414.5 207.4h0M379 213.2h0M391.1 226h0M377.7 227.8h0M386.2 225.1h0M405.9 198.7h0M389.3 201.6h0M384.1 229.4h0M410.6 208.6h0M406 224.9h0M386.8 210.4h0M397.1 225.5h0M402 217.5h0M407 213.7h0M385.6 213.6h0M393.7 216.5h0M381.9 212.6h0M383 198.1h0M374.4 215.7h0M380.2 201h0M408.7 207.6h0M414.7 224.5h0M413.9 205.8h0M411.1 210.4h0M404.8 211.8h0M390.5 222.7h0M392.3 214.4h0M377.6 216.6h0M391.3 205.5h0M379.9 218.9h0M378.5 217.3h0M393.5 213.2h0M410.6 199h0M394.9 195.9h0M401.9 225.4h0M382.2 211.8h0M393.6 224h0M382.9 204.7h0M403 199.5h0M388.4 229.2h0M409.7 199.9h0M383.1 228.1h0M389.9 200.1h0M406.6 212.3h0M412.7 224.6h0M415.2 214.8h0M380.9 200.5h0M389.2 225h0M412.5 213.6h0M387.4 224.5h0M402.9 210.9h0M402.3 197.4h0M409.6 197.3h0M388 222.9h0M413.9 215.3h0M384.8 215.2h0M386 196.3h0M386.2 209.9h0M383.7 211.5h0M395.1 202.7h0M414 207.4h0M413.2 223.7h0M402.5 222h0M415.2 215.5h0M379.6 222h0M397.1 224.9h0M391.3 208.3h0M395.6 212.5h0M381.6 201.8h0M389.9 198.7h0M413 214.2h0M374.4 201.5h0M381.1 229.4h0M407.4 208h0M409.8 216.2h0M379.4 206.2h0M415 226.3h0M375.4 205.5h0M414.9 202.7h0M402.4 202.6h0M385.5 200h0M395 217.8h0M393.3 197.7h0M399.5 200.9h0M385.9 226.2h0M398.4 225.9h0M385.5 211.4h0M389.4 222.9h0M378.5 212.4h0M374.8 206h0M376.9 218h0M389.5 197.6h0M414.3 214.9h0M399.2 214.9h0M400 199.5h0M373.7 210.9h0M395.5 223.1h0M393.1 210h0M412.6 210.9h0M393.4 200.9h0M394.4 208.4h0M379.7 221h0M389.1 222.7h0M399.4 228.1h0M394.8 199h0M385.7 197.2h0M377.5 199.6h0M413 219.7h0M410.7 226.2h0M387.8 223.6h0M388.3 205.9h0M382.4 219.5h0M377.6 222.5h0M406.7 207.2h0M404.7 206.4h0M381.4 206.2h0M406.7 214.6h0M407.5 222.1h0M399.5 229.7h0M376.8 207.3h0M382.6 196.2h0M377.6 201.9h0M387.8 230h0M412.4 206.2h0M407.2 206.8h0M389.3 228.3h0M409 212.6h0M408.4 201.8h0M396.5 213.2h0M405.2 198.5h0M381.5 211.1h0M395 212.4h0M385.1 203h0M408.6 221.1h0M394 215.7h0M404.9 197.2h0M391.7 216.3h0M407.9 205.6h0M390 220.4h0M406.3 219.3h0M412.7 219.4h0M390 223.7h0M386.2 200.7h0M377.8 208.7h0M414.9 202.9h0M384.5 202.3h0M394.6 198.5h0M375.6 216.1h0M396 206.4h0M415.5 214.6h0M403.1 221.8h0M392.7 206.7h0M389.9 205.5h0M397.8 229.2h0M382.8 197.1h0M405.8 224.3h0M389.1 211.6h0M403.2 204.4h0M385.2 219.7h0M390.1 225.3h0M411 222.4h0M379.4 203.3h0M379.8 221.6h0M382 200.7h0M393.1 210.3h0M382.2 218.6h0M397.7 199h0M382.3 207.7h0M375.2 219.7h0M403.3 206.4h0M383 220.9h0M399 219.3h0M398.8 214.8h0M395.4 230.2h0M378.9 222.8h0M384.2 206.9h0M401.2 203.7h0M397.7 224.3h0M398 205.9h0M406.5 219.7h0M377.6 224.4h0M395.1 204.4h0M394 198.2h0M399.4 196.6h0M392 224.2h0M392.2 224.6h0M382.7 202.4h0M382.7 209.5h0M404.7 222.2h0M407.7 200.9h0M398.9 197.7h0M381.7 221.3h0M400.2 200.1h0M383.8 228h0M401.8 198.6h0M411.7 223.4h0M383.9 210h0M403 222.7h0M381.2 211.4h0M411.3 218.8h0M385.9 227.1h0M402.8 205.8h0M397.1 204.8h0M402.6 206.5h0M391.7 226.9h0M389.3 213.6h0M414.5 216.4h0M382.8 206.3h0M386.3 196.8h0M415.2 218.8h0M396.8 225.6h0M374.2 213.3h0M408 215.6h0M417.2 222.8h0M382.1 200.5h0M407.7 215.7h0M390.5 198.2h0M392.8 206.8h0M404.8 200.7h0M381.3 200.2h0M407.7 228h0M393.1 204.6h0M373.1 207.9h0M390.1 222.5h0M384.9 211.8h0M379 226.3h0M389.2 215h0M410.3 219h0M404.4 202.4h0M382.1 226.2h0M408.8 226.9h0M377.6 203.8h0M399 198.5h0M384.1 214.6h0M397.8 225.7h0M376.1 205.7h0M402.4 225h0M405.5 220.5h0M381.3 206.2h0M381.8 198.8h0M391.4 196.7h0M395.9 203.6h0M399.6 209h0M396.5 200.5h0M392.4 199.4h0M393.8 198.4h0M402.4 222.2h0M411 220.2h0M386.2 223.6h0M394.8 205.7h0M412.3 199.9h0M382 221.6h0M377 200.9h0M393.1 200.2h0M402 227.6h0M376.7 201.3h0M413.9 215.4h0M380.9 210.1h0M395.1 214.4h0M394.5 219h0M404.8 227.2h0M395.5 213h0M391 224h0M405 202.3h0M401.8 227.8h0M381.4 200.6h0M406.3 204.8h0M396.6 224.3h0M395.4 213h0M382.5 225.2h0M400.3 220.6h0M376 208h0M375.2 206.1h0M410.9 202.4h0M409.2 216h0M393.2 225.7h0M404.1 216.1h0M399.6 209.1h0M385.5 214.9h0M403.1 194.1h0M384.3 221h0M389.5 224.5h0M394.2 227.6h0M408.7 204.3h0M401.6 219.3h0M413.2 222.8h0M383.9 210.1h0M379 228.5h0M395 216.8h0M388.3 226.6h0M382.9 229.7h0M380.6 231.6h0M408.3 226.6h0M394.5 217h0M402.7 229.9h0M410.5 220.6h0M404.8 202.6h0M379.1 205.6h0M413.6 213.6h0M376.9 216h0M388.1 197.2h0M411.2 200.7h0M381.9 217h0M388.4 203.6h0M394.7 202.1h0M406 223.8h0M400 202.9h0M379.6 206.1h0M401 213.1h0M405.9 216.7h0M397.6 207.1h0M379.6 216.8h0M387.4 229.1h0M378.3 223.5h0M407.3 206.3h0M379.7 221.3h0M410.9 210.2h0M392.1 207.6h0M382.9 207.8h0M401.2 215.7h0M393 230.3h0M396 230.2h0M380.9 228.2h0M387 210.6h0M379.1 227.2h0M390.8 224.6h0M403.3 200.7h0M381.2 225.6h0M381.8 221.7h0M382.1 196.8h0M381.8 213h0M402.6 203h0M396.4 221.5h0M415.5 220.5h0M376.2 204.9h0M394.6 210.2h0M409 208.9h0M397.4 207.3h0M391.3 219.3h0M379.9 220.4h0M397.2 221.9h0M386.1 215.9h0M399.2 198.8h0M392.1 216.5h0M398 231.7h0M413.5 207.1h0M413.9 216.9h0M388.6 199.4h0M401.6 207h0M380 223.2h0M407.3 218.2h0M383 226.8h0M399.7 213.7h0M382.4 198.8h0M407.1 205.2h0M398.8 228.4h0M387.8 223.8h0M375.4 202.8h0M406.4 228.5h0M401.7 196.6h0M403 212.9h0M409.5 213h0M386.5 214.4h0M406 196.3h0M390.7 197.9h0M407.4 198.6h0M397.2 201.9h0M381.1 216.2h0M380.2 204h0M401.6 201.8h0M375 203h0M394.6 204.5h0M400.8 224.5h0M395.7 196.6h0M413.8 221.6h0M383.6 206h0M376.8 221.6h0M387 215.4h0M415.2 214.6h0M390.8 206.9h0M375 205.3h0M393.8 219.9h0M406.2 226.6h0M382.6 201.1h0M373.8 204.5h0M386.9 207h0M415.6 215.3h0M393.7 226.6h0M393 218.3h0M399.2 222h0M377.5 207.7h0M409.2 218.6h0M399.6 225.5h0M411.5 209.6h0M384.5 219.2h0M382.1 212.2h0M398.2 216.8h0M411.1 197.3h0M394.2 216.7h0M396.4 198h0M415.6 201.2h0M375.9 224h0M387.7 227.4h0M383.7 202.6h0M377.4 227.6h0M397.7 212.6h0M403 197.7h0M376 209.2h0M387.7 211.2h0M401.7 211.8h0M374.8 218.8h0M406.8 211h0M382.1 223.9h0M388.8 202.9h0M390.4 226.7h0M375.7 212.9h0M404.8 216.5h0M382.6 211.3h0M383.2 196.3h0M401 211.7h0M400.1 227.1h0M377.1 226.8h0M377.2 199.6h0M388.1 207.7h0M406.7 216.1h0M410.3 211.5h0M395.3 230.4h0M376.7 220.5h0M390.1 196.5h0"/>
<path stroke="#80b03c" stroke-width="1.45" stroke-linecap="round" d="M419.9 215.5h0M417.1 209.3h0M429.6 209.4h0M433.3 204.7h0M425.7 207.5h0M421.5 208h0M427.6 217.5h0M425.9 214.1h0M418.8 214.5h0M439.5 197.6h0M413 217h0M421.3 207h0M421.6 215h0M425.5 210.7h0M425.5 207h0M416.5 215.9h0M419.3 210.7h0M415 212h0M434.4 205.8h0M413.8 214.1h0M421.7 213.9h0M430.6 205.6h0M440.1 197.9h0M416.4 220.5h0M442.6 197.6h0M419.3 212.5h0M422.2 214.7h0M433.1 210.7h0M426.4 209h0M414 211.3h0M418.4 221.9h0M428.4 205.2h0M428 205.6h0M428.9 207.5h0M428.7 206h0M433.8 197.7h0M423.4 211.8h0M433.1 203h0M416.4 217h0M422.1 209.3h0M414.3 222.7h0M414 212h0M417.1 215.3h0M426 208.5h0M416 220h0M417.7 218.1h0M419.3 219.7h0M437 202.7h0M412.3 222.5h0M434.8 201h0M414.4 217.9h0M412 220.4h0M417.1 217.7h0M416.9 209.7h0M422.5 211.1h0M421.4 210.6h0M413.8 220.5h0M424.8 210.8h0M428.7 211.3h0M417 213.9h0M410.4 214.7h0M427.7 202.9h0M443.6 195.4h0M435.3 206.4h0M436.9 201.2h0M426.9 202h0M421.9 217.8h0M429.7 201.4h0M421.6 205.8h0M416.7 210.4h0M423.1 210.4h0M410.1 216.8h0M423.5 205.2h0M414.6 214.8h0M425.9 205.2h0M416.3 220.8h0M430.3 212h0M430 202.1h0M431.3 203.5h0M433.9 198.5h0M435.9 203.8h0M419.9 209.4h0M439.1 203.1h0M430.2 203.1h0M416.7 220.1h0M421.4 209.3h0M411.5 212.1h0M417.1 223.1h0M424.1 206.4h0M430.7 209h0M422 209.9h0M423 209.7h0M425.8 209.9h0M414.5 213.6h0M421.1 203.8h0M421.7 213h0M426.4 214.3h0M413.5 222.4h0M437.9 200.6h0M432.3 203.4h0M423.3 206.5h0M428.6 214.2h0M426.2 203.2h0M412.5 222.4h0M436.7 199h0M435.2 196.4h0M440.1 201.9h0M417.4 211.4h0M429.7 204.3h0M423.5 212.1h0M417.9 211.1h0M426.1 208.6h0M431.1 205.7h0M437.3 206.3h0M425 203.7h0M436.4 203.7h0M435.9 199.8h0M414.4 213.3h0M421.2 209.7h0M418.1 210.3h0M422.7 212.2h0M431.5 199.8h0M413.8 216h0M425.8 209.3h0M418.3 219.2h0M427.1 202.7h0M428.2 209.2h0M431.6 207.4h0M425.3 210h0M422.6 213.8h0M414.3 215.3h0M421.2 214.7h0M419.4 218.7h0M412 216.2h0M442.4 197.6h0M435.8 193.5h0M413.4 215.4h0M433.6 197.8h0M413.5 211.2h0M423.7 206h0M425 214.6h0M426.8 211.5h0M413.3 222h0M424.4 206.2h0M437.7 199.7h0M427.1 209.2h0M433.6 209.6h0M420.6 213.9h0M426.8 203.2h0M412.6 221.8h0M415 216.3h0M414.7 217.5h0M429.5 202.7h0M432.9 200.7h0M418.5 209.5h0M427.9 214.9h0M420.7 210h0M412.6 214.5h0M439.8 194.8h0M439.5 202.3h0M416.4 220.2h0M429.7 211.1h0M435.4 206.6h0M432.8 202.2h0M414.1 216.1h0M418.4 210.7h0M435.5 203.1h0M423.6 205.3h0M423.9 208.2h0M420.3 217.1h0M436.7 207.2h0M420.2 218h0M425.6 204.9h0M424.7 212.3h0M422.6 216.2h0M416.3 212.7h0M421.1 214.5h0M436.5 206.4h0M427.3 200.5h0M433 201.9h0M421.9 210.3h0M431 208.4h0M417.9 222h0M435 199.8h0M422.6 205.3h0M428.7 208.3h0M421.8 207.7h0M431.9 198.6h0M422.6 216.5h0M434.9 208.3h0M425.2 208.5h0M427.4 208.8h0M430.7 203.5h0M427.8 207.1h0M419.8 209.8h0"/>
<path stroke="#c4921c" stroke-width="1.45" stroke-linecap="round" d="M289.5 177.4h0M290.9 167.5h0M298.1 194.5h0M299.2 185.6h0M294.9 188.8h0M286.3 190.3h0M297.1 191.9h0M288.6 180.5h0M294.5 200h0M289.4 174.1h0M289.4 177.7h0M292.9 193.5h0M293.1 174.8h0M298.1 174.2h0M300.7 192.8h0M292.6 178.7h0M297.5 178.3h0M288.4 188h0M297 194.2h0M298.7 190h0M291.6 182.3h0M285.7 183.2h0M299.4 189.6h0M294.3 174.3h0M299.5 173.8h0M297.3 193.6h0M286.7 172.1h0M298.6 177.8h0M292.6 199.6h0M297.6 187.4h0M295.5 169.3h0M295.8 167.9h0M298.1 182.2h0M299.2 176.9h0M293.4 197.8h0M293.6 198.9h0M294.2 181h0M296.5 189h0M282.4 188.4h0M295.6 191.7h0M282 185.9h0M293.4 185.3h0M284 178.5h0M291.1 187.6h0M291.4 173.3h0M287.3 184.6h0M294.3 185.2h0M288 192.4h0M294.9 195.1h0M293.7 188.3h0M293.4 200.4h0M283.9 190.1h0M295.4 172.2h0M296.3 197.1h0M284.4 191.9h0M289 190.5h0M295.1 179.4h0M287.8 172.4h0M287.7 189.4h0M297 174.1h0M293.2 195.1h0M296.9 190.7h0M284.1 184.2h0M295.2 196.2h0M283.9 179.8h0M298.4 195h0M293.7 198.7h0M293.8 178.5h0M286 186.1h0M301.2 190.8h0M286.9 172.2h0M286.6 180.4h0M287.9 182h0M290.9 178.2h0M295.4 187.1h0M301.2 185.7h0M294.4 182.7h0M298.5 184.6h0M297.3 185.8h0M290.7 187.4h0M292.2 182.9h0M290.3 176.3h0M289.7 170.3h0M285.3 188.1h0M283.5 193.1h0M289.3 194.1h0M298.3 177.8h0M286.9 185.1h0M295.6 177.6h0M282.5 189.5h0M286.2 176.5h0M286.8 179h0M297.5 179.2h0M287 182h0M297.7 198.3h0M296.6 197.2h0M296.6 196.9h0M290.6 191.5h0M294.6 182.6h0M295 187.9h0M292.7 174.9h0M297.8 176.6h0M297.6 186.9h0M300.5 187.7h0M295.1 168.1h0M296.8 170h0M286.5 193.1h0M288.1 190.4h0M299 176.8h0M297.9 193.7h0M296.8 198.3h0M296.2 171.2h0M287 187.7h0M288.3 189.1h0M287.2 198h0M287.8 198.7h0M295.4 191.7h0M299 189.7h0M291.2 179.5h0M295 186.6h0M293.8 199.6h0M285.4 186h0M290.4 168.1h0M289.6 197.3h0M296.6 167.6h0M288.9 193.3h0M295.5 197.4h0M293.6 199.7h0M296.2 168.9h0M289 174.8h0M283.9 185.3h0M300.8 187h0M290.5 171.2h0M292 199.3h0M293 183.8h0M292 166.6h0M292.3 180.9h0M285.2 172h0M294.8 193.5h0M286.7 177.4h0M298.9 184.3h0M289.8 188.2h0M286 177.5h0M284.1 190h0M293 190.3h0M287.2 179.3h0M289 200.2h0M296.2 194.9h0M292 171.6h0M285.5 193.2h0M296.9 194.9h0M294.4 167.8h0M296.9 179.3h0M291.2 168.5h0M292 188.2h0M295.7 178.8h0M284.1 176h0M295.9 196.1h0M285.5 172.5h0M293.4 170.1h0M298.8 195.3h0M294.1 179.6h0M287.2 194.5h0M287.2 173.3h0M285.5 195.9h0M295.7 171.1h0M296.7 188.7h0M296.8 184.8h0M291 183.7h0M291.3 194h0M287 168.8h0M300.1 183.8h0M287.3 190.5h0M286.9 177.4h0M290.2 184.4h0M291.3 196.4h0M288.5 198.5h0M299.2 178.1h0M284.7 187.3h0M295.7 168.9h0M298.2 192.2h0M295.4 184.1h0M293.6 198.7h0M294.5 169.9h0M284.2 193.8h0M287.7 177.6h0M285.3 185.2h0M296.5 177.8h0M288.5 179.8h0M298 192.1h0M291.7 189.3h0M287.5 175.2h0M285.1 174.8h0M285.1 188.1h0M284.7 196.2h0M302 188.2h0M294.3 192.3h0M289.8 187.8h0M286.6 182h0M287.6 194.5h0M295.1 181.8h0M296.7 183h0M295.3 176.1h0M290.7 187.4h0M293.3 172.5h0M291.6 171.1h0M296.6 176.3h0M301.3 188h0M283.7 174h0M294.1 199.4h0M294.1 176.9h0M300.4 187.7h0M291.7 170.6h0M291.6 176.1h0M295.6 189.9h0M294.1 170.1h0M289.3 177.8h0M286 185.9h0M295.3 199.6h0M291.2 182.2h0M299.5 183.8h0M291.4 168.4h0M294.8 189.7h0M297.1 186.3h0M288.2 183.9h0M288.5 179.1h0M290 181.8h0M294.6 186.3h0M294.8 194.4h0M292 171h0M287.5 188.9h0M285.1 191.8h0M290 184.5h0M287.9 179.8h0M294.3 177.6h0M287 187.6h0M289.5 198.7h0M283.5 184.4h0M292.5 180.6h0M290.2 194.3h0M299.9 186.1h0M292.4 188h0M292.7 195.8h0M297.9 178h0M290 174.5h0M294 173.9h0M293.8 186.2h0M288.8 176.3h0M286.1 178.8h0M295.5 170.6h0"/>
<path stroke="#5ea894" stroke-width="1.45" stroke-linecap="round" d="M285.1 145h0M280.8 147.4h0M285.9 144.8h0M290.8 145.7h0M288.1 142.4h0M290.6 148.8h0M290.9 128.4h0M292.8 130.8h0M288.4 145h0M287.8 147h0M280.7 147h0M284.6 133h0M285.9 141.7h0M288.3 131h0M282.8 136h0M290.8 159.6h0M292.7 145.2h0M294.9 136.8h0M285.7 137.6h0M292.1 128.4h0M284.4 150.2h0M286.2 144.2h0M288.8 134h0M286.6 143.2h0M290.4 130.9h0M289.6 162.6h0M281.1 142.9h0M298.2 130.1h0M286.8 138.1h0M289 130.7h0M299.4 123.5h0M289.5 133.7h0M279.7 137.4h0M287.9 138.2h0M285.1 155.8h0M283.3 143.9h0M280 146.9h0M293.3 143.3h0M293 131.4h0M285.9 151.3h0M287.8 151.3h0M289.5 138.7h0M282.8 148.9h0M294 140.3h0M295.3 143.6h0M293.1 132.4h0M280.2 148h0M280 146h0M286.6 141.7h0M292.1 144.1h0M288.3 145.7h0M288.7 133.9h0M283.3 144.4h0M289.6 161.9h0M287.6 134.4h0M291.1 140.4h0M294.1 139.2h0M282.3 144h0M290.3 157.5h0M280 139.8h0M284.5 131.3h0M290.1 157.7h0M295.9 125.2h0M291.9 152.7h0M286.6 137.9h0M288.3 154.8h0M287.4 147.9h0M288.8 130.3h0M288.9 156.4h0M294.7 131.3h0M280.9 141.8h0M297.6 129.6h0M287 148.3h0M290.5 165.9h0M296.5 129.7h0M291.3 138.9h0M299.7 125.8h0M292.9 140h0M279.9 138.1h0M288.8 147.3h0M288.5 149.6h0M285.6 156.9h0M293 151.8h0M287.1 153.9h0M277.8 146.1h0M284.2 144.5h0M292.2 131.6h0M282.5 137.1h0M287.9 151.5h0M289.3 161.3h0M286.2 141.3h0M300.8 126h0M282.3 147.2h0M286.9 148h0M287.3 145h0M291.9 146h0M289.4 149.2h0M289.1 139.3h0M282.3 150.7h0M281.5 148.6h0M286.3 156.8h0M289.6 130.8h0M283.2 138.8h0M283.1 147.3h0M284.2 148.6h0M299.4 129.5h0M287 149.7h0M287.9 130.1h0M282.1 149.5h0M291.4 148.2h0M287.7 142.9h0M290.6 157.7h0M282 150.6h0M280.8 136.5h0M286.3 151.4h0M295 142.8h0M288.8 163.7h0M290.6 146.4h0M279 148.1h0M289.5 135.4h0M292.3 154h0M294.1 151.5h0M284.5 151.3h0M278.5 141.3h0M292.9 143.2h0M292.9 128h0M290 136.8h0M291 136.9h0M290.1 129.5h0M286.5 155h0M289 151.4h0M287.7 135.5h0M284 148h0M281.6 147.1h0M294 140.8h0M281.5 148h0M290.4 131.8h0M291.6 145.3h0M291.9 131.6h0M292.6 143.9h0M281.7 143.3h0M289.9 148.1h0M287.9 140.9h0M280.7 148.5h0M292.6 144.7h0M294.4 136.3h0M288.6 137.1h0M279.6 145.7h0M282.9 144.3h0M294.1 140.1h0M290.4 132.6h0M295.4 127.3h0M278.3 139.9h0M299.5 124.2h0M288.7 161.6h0M299.7 129.2h0M298.3 128.7h0M297 131.3h0M293.3 137.2h0M293.6 133.6h0M296.9 131.2h0M294.3 145.5h0M285.4 144.2h0M288.8 156.9h0M279.2 144.7h0M278.4 145.1h0M281.3 147.2h0M283.1 150.3h0M280.8 143.7h0M293.4 150.1h0M287.8 134h0M288.2 137.1h0M292.3 140.2h0M290.2 145.1h0M278.9 141.2h0M292.9 148h0M289.6 137.5h0M293.6 148.8h0M290.5 145.6h0M295.7 130.8h0"/>
<path stroke="#a9aa30" stroke-width="1.45" stroke-linecap="round" d="M343.7 142.8h0M321.7 151.9h0M306.8 152h0M298.6 157.6h0M323.4 151.4h0M298.5 154.1h0M313.7 151h0M341 144.8h0M296.6 154.6h0M320.7 147.3h0M303.8 149.6h0M298.7 152.2h0M299.9 155.1h0M306.1 148.8h0M311.1 148.7h0M309.3 153.6h0M301.4 150.9h0M305.6 144.8h0M313.8 153.2h0M310.1 158.7h0M316.6 151.1h0M310.6 152h0M319.1 154h0M299.3 147.7h0M309.2 158.6h0M308.8 146.4h0M318.3 152.2h0M311.4 143.2h0M295.2 153.6h0M304.5 160.6h0M305.1 158.7h0M330.1 149h0M303.6 150.8h0M310.3 154.2h0M326.3 152.2h0M331.2 142.4h0M302.2 156.3h0M306.6 157.6h0M300.6 155.6h0M319.4 141.2h0M301.4 159.2h0M298.2 161.8h0M294.3 147h0M341.4 140.5h0M309.2 146h0M317.1 146.7h0M305.5 158.3h0M320.2 150.8h0M307.1 160.7h0M297 159.9h0M301.6 161.3h0M324 153h0M307.4 153.4h0M302.5 150.4h0M299.6 155.6h0M334.6 144h0M333.2 145.9h0M321.6 146.6h0M313.2 142.6h0M298.1 159.5h0M326 147.5h0M308.3 147.4h0M302.6 161.4h0M308.1 152.3h0M322.8 146.1h0M332.4 141.4h0M305.5 148.4h0M298.8 149.5h0M342.5 144.3h0M310.3 145.4h0M299.8 154.1h0M310.2 146.7h0M328.1 145.8h0M341.3 145.3h0M313.5 152.9h0M312.2 157.7h0M313.1 150.1h0M322.8 149h0M305.9 146.7h0M296.8 151.1h0M304 149.4h0M323.2 149h0M299.5 152h0M300.7 154.4h0M297.5 151.3h0M304.4 155.3h0M313.5 151.8h0M324.8 149.8h0M302.2 161h0M332.6 142.6h0M330.4 140.6h0M303.9 157.5h0M346.6 141.2h0M301.1 154.4h0M297.4 152.2h0M318.4 141.6h0M308.1 150h0M319.9 147.6h0M314.7 156.3h0M337.6 144.7h0M340.2 139.4h0M310.7 147.1h0M307.2 151.5h0M306.6 148.1h0M298.7 162.2h0M328.6 145.2h0M321.3 141.9h0M294.6 145.8h0M295.8 158.4h0M317 149.8h0M308.9 144.9h0M340.6 143.2h0M300.9 147.3h0M316.1 147.4h0M330.8 144.9h0M296.3 155h0M302.7 145.5h0M311.9 152.4h0M309.9 150.1h0M324.9 152.1h0M328.6 140.7h0M306.6 154.8h0M343.6 143.7h0M299.2 156.8h0M325 149.5h0M324.3 147.8h0M339.3 140.8h0M310.9 145.6h0M322.7 150.2h0M301.4 145.9h0M327 152.1h0M328.5 140.1h0M301.4 154.7h0M313.3 144.7h0M317.6 151.1h0M335.8 147.1h0M309.2 144.5h0M298.3 161.6h0M342.2 141.6h0M334.5 144.4h0M303.5 152.8h0M348.9 142h0M294.9 149.2h0M351 138.4h0M325.8 150h0M320.6 154.9h0M340.6 143.1h0M296.2 151.4h0M320.4 153.6h0M308.9 150.6h0M302.7 157.3h0M342.8 143.7h0M308.6 159h0M323.4 144.8h0M316.8 150.5h0M308.7 153.7h0M315.8 142.9h0M325.9 151.4h0M301.6 162.6h0M315.9 155.1h0M321.6 154.8h0M313.8 142.9h0M316.7 142.7h0M331.8 149.5h0M308.1 158.6h0M299.3 147.4h0M323.6 148.1h0M347.8 141.4h0M307.8 150.6h0M313.9 152.9h0M338.5 146.8h0M331.8 142.5h0M325.2 141.2h0M315.8 146.8h0M337 145.2h0M308.2 156.1h0M297.9 154.4h0M306.9 146.1h0M304.9 160.3h0M329 152.5h0M317.4 142.7h0M297 161.6h0M294 149.2h0M305.7 151.1h0M321.4 141.6h0M320.1 149.7h0M315.7 141.9h0M323.7 148.6h0M313.9 144.4h0M304.6 153.5h0M302.7 157.9h0M328.8 149.7h0M325.4 143.3h0M327.8 146.1h0M301.6 151.2h0M334.5 142h0M305.1 146.5h0M349 142.8h0M298.5 157h0M336.8 143.5h0M294.4 152.2h0M297.1 160.1h0M311 150.4h0M296.1 146.3h0M302.4 144.5h0M331.2 142.9h0M297.5 159.1h0M320.2 156.9h0M329.7 146h0M308.6 155.6h0M319.9 155.3h0M302.4 162h0M340.3 144h0M324.9 150.9h0M347.8 141.3h0M324.9 141.6h0M325.9 151.9h0M306.5 150.5h0M297.6 148.2h0M305.5 154.7h0M309.2 155.7h0M301.7 157.7h0M300.6 148.9h0M322.3 148.7h0M318.3 154.4h0M315.6 141.5h0M339.7 143.6h0M300.3 148.4h0M307.9 157.9h0M313.7 155.9h0M320.3 147.9h0M324.2 150.3h0M315.7 144.5h0M308.8 148h0M317.3 145.5h0M349.3 141.2h0M313.9 151.7h0M328.9 142.4h0M324 151.3h0M316.6 149.6h0M302.1 157.2h0M320 143.1h0M300.6 158.1h0M351.9 141.6h0M320.1 141.9h0M328.7 146.5h0M302.5 149.2h0M325.7 143.2h0M351.7 141.1h0M298.3 153h0M296.8 155.2h0M316.8 144.6h0M298 154.3h0M320.3 145.2h0M322.4 143.3h0M340.8 140.6h0M345.3 141.4h0M305.6 149.6h0M309.1 159.7h0M300.8 158.9h0M317.8 149.9h0M306 159.3h0M327.3 146.9h0M297 159.6h0M307.6 152.1h0M298.3 157.8h0M293.8 148.2h0M333.4 145.8h0M297.7 148h0M301.1 152.5h0M331 143.9h0M326.6 142.6h0M296.8 153.7h0M306.1 154.3h0M318.9 153h0M336.3 140.3h0M304.1 155.2h0M317.2 150.9h0M326.2 148.5h0M324.8 144.8h0M298.4 162.8h0M299.6 150.6h0M324.7 142.5h0M315.6 154h0M325.3 147h0M298.2 148.2h0M333 145.6h0M312.5 151h0M311.3 160h0M307.5 153.4h0M321.7 144.8h0M308.1 160.6h0M295.7 151.9h0M323.6 144.7h0M305.8 154.6h0M299.2 153.7h0M351.9 139.6h0M314.2 146.4h0M345.4 141.3h0M305.9 158.2h0"/>
<path stroke="#cf8a2c" stroke-width="1.45" stroke-linecap="round" d="M408 79.5h0M425.2 81.7h0M416.8 88.5h0M398.9 90.5h0M411.2 72.6h0M416.4 76.5h0M419.6 92.4h0M422.8 82.9h0M416 80.9h0M421.8 86h0M406.6 92.1h0M388.9 78.6h0M397.2 71.2h0M401.1 79.5h0M418.4 69.8h0M390.9 80h0M412.3 87.3h0M424.5 78.3h0M407.9 76.9h0M397.5 79.2h0M403.3 83h0M399.6 71.6h0M391 81.9h0M411.9 81.5h0M392.2 88.1h0M396.2 84h0M417.3 72.5h0M415 77h0M388.1 80.8h0M398.9 65.1h0M426 79.3h0M409.8 77.3h0M406.9 81.5h0M407.5 75h0M391.5 67.9h0M410.4 75.2h0M411.3 75.4h0M416.9 87.6h0M406.2 86.9h0M394.7 81.6h0M402.1 86.6h0M390.6 87.2h0M421.1 91.1h0M414.2 79h0M417.7 90.7h0M420.8 75.1h0M422.1 80.6h0M402.6 77.1h0M419.3 73.5h0M413.7 69.5h0M389.5 69.4h0M407.8 72.4h0M397.8 79.1h0M409 85h0M412.2 87.7h0M396.7 79.3h0M409.1 88.2h0M411.5 88.5h0M397.9 84.2h0M395 84.3h0M407.2 89.8h0M408.2 88.7h0M421.2 85.3h0M405.3 77.9h0M418.9 84.8h0M400.6 87.6h0M396 86h0M390.7 76.3h0M408.2 69h0M418 75.5h0M405 82.7h0M402.1 70.6h0M415.9 89.2h0M390.6 82h0M403.7 72h0M403.7 88.8h0M405.9 89.4h0M404.6 76.7h0M391.8 69.3h0M408.4 67.8h0M422.8 91.7h0M394.9 83.1h0M387.1 71.8h0M397.5 75.3h0M399.5 74h0M417.3 83.3h0M413.4 84.8h0M410.6 83.2h0M401 75.7h0M407.4 65.6h0M405.8 83.8h0M416 78.8h0M405.1 88.9h0M415.2 66.6h0M417.8 90.5h0M417 91.6h0M393.1 77.1h0M390.2 80.8h0M393.4 72.8h0M388.2 72.4h0M405.8 78h0M393.5 78.8h0M402.3 90.3h0M397.6 68.8h0M407.2 82.3h0M396.3 68.8h0M412.9 73.2h0M406.9 68.6h0M397.7 72.4h0M419.9 92.4h0M398.3 67.5h0M415.8 85.2h0M391.9 75.1h0M406.1 72.5h0M389.1 76.4h0M408 70.9h0M424.2 76h0M414.7 91.1h0M398 77.1h0M397.8 75.4h0M410 80.9h0M420.3 79.3h0M403.3 71.5h0M393.8 81.2h0M408.1 83.3h0M400.8 81.5h0M404.6 72h0M392 86.5h0M424 86.8h0M416.2 92.5h0M413.5 65.1h0M403.4 65.6h0M390.5 71.3h0M424.3 84.3h0M394 69.9h0M398 81h0M407.1 73.5h0M421.5 85.6h0M393 87.5h0M401 69.9h0M410 78.1h0M398.4 75h0M406.2 76.8h0M415.4 91.4h0M410 92.9h0M406.9 86.5h0M410.9 78.2h0M389.7 84.8h0M389.6 80h0M405.8 80.6h0M387.4 74.6h0M417.6 89.1h0M394.4 75.4h0M401.9 80.4h0M415.6 83.4h0M400.4 68.2h0M418.7 84.6h0M387.5 77.8h0M419 80.7h0M416.7 93h0M412.8 81.1h0M425 84.9h0M388.5 75.1h0M405.5 78.1h0M399.9 77.9h0M391.6 82.6h0M408 74.6h0M407.4 72.6h0M402.8 66.1h0M412.1 87.4h0M396.8 76.9h0M415.2 92h0M390.7 86.6h0M393.8 80.2h0M407.4 87.8h0M407.6 73.4h0M391.1 73.1h0M390.1 68.9h0M421.9 89.3h0M389.9 77.4h0M425.6 87.7h0M415.3 83.9h0M412.1 87.8h0M400.9 76.7h0M412.4 67h0M416.9 82.6h0M396.2 82.9h0M398.2 75.6h0M413.1 80.6h0M406 67.3h0M425.9 83.8h0M413.6 71.2h0M424 74.4h0M426.1 82.3h0M414.9 90.7h0M399.6 89.8h0M412.3 67.9h0M405.2 82.8h0M390.6 85.4h0M414.6 79.1h0M389.7 78.2h0M408.2 69.4h0M403.8 93.8h0M398.3 75.6h0M419.7 88.1h0M420.5 83.6h0M412.1 86.8h0M419.2 85h0M395.8 87.9h0M410.7 75.5h0M402.3 77.2h0M422 86.6h0M425.2 90.1h0M414.4 72.1h0M399.7 70.3h0M404.2 72.5h0M414.3 91.8h0M400.1 65.3h0M396.9 84.4h0M401.3 65.1h0M415.7 73.5h0M423.2 91.8h0M419.7 90.5h0M388.9 73.9h0M406.6 92.7h0M396.8 89.1h0M421.3 83.1h0M390.5 69.5h0M414.3 88h0M416.6 71.4h0M402.3 79.8h0M406 88h0M415.1 65.6h0M394.5 73.9h0M389.6 81.1h0M419.7 89.4h0M395.9 82.3h0M406.9 87.8h0M406.8 73.7h0M427.7 87.5h0M388.8 78.7h0M407.2 93.5h0M418.5 89.1h0M409.3 84.1h0M393.6 71h0M419.3 72.5h0M396.8 74.8h0M393.2 86.7h0M419.1 69.9h0M396.4 88.3h0M410.1 81.8h0M411.1 73.2h0M409.8 82.6h0M412.4 88.3h0M406.8 64.4h0M385.9 72.2h0M414.9 75h0M417.4 81.2h0M390.1 65.4h0M387 73.1h0M409.5 83.9h0M400.6 71.3h0M422.1 76.8h0M386.4 76.2h0M385.5 70.6h0M393.7 83.7h0M398.5 65.4h0M420.5 78h0M412.1 89.9h0M418.4 87.8h0M398.7 78.5h0M420.6 84.1h0M418.9 89.5h0M421.8 75.9h0M400.2 78.5h0M398.3 83.4h0M397.9 74.3h0M398.1 78.7h0M426.8 83.5h0M393.3 65.9h0M401.7 62.5h0M386.5 69.2h0M402.5 64.6h0M395.9 83.1h0M415.5 82.4h0M405.3 70.8h0M417.2 71.9h0M388.8 75.5h0M408.4 78h0M399.9 66.2h0M404.5 84.7h0M416.6 70.7h0M426.8 91.1h0M404.4 74.6h0M385.8 71.3h0M425.6 84.3h0M423.2 72.9h0M397 83.6h0M419.1 90.1h0M411.2 82.5h0M398.2 70.8h0M408.7 91.6h0M402.5 90.1h0M400 67.2h0M397.2 75.8h0M387.5 74.4h0M422.1 79.3h0M401.1 77.6h0M427.3 85.2h0M402.8 75.8h0M414.2 87.1h0M389.7 86.2h0M425.7 80.6h0M391.7 70.1h0M410.6 67.2h0M390 73.3h0M393.8 81.7h0M392.1 85.6h0M399.6 82.5h0M398.2 64.8h0M414 67h0M391.9 68.7h0M422 82.8h0M397.1 68.2h0M421.2 82.1h0M401.3 66.9h0M414 77.7h0M389.7 86.6h0M425.5 86h0M415.8 86.8h0M399.8 81.5h0M404.9 70.4h0M394.5 69h0M390.2 80.1h0M407.5 70.2h0M419 88.1h0M397.4 79h0M396.8 63h0M409.9 81.8h0M394.5 79.2h0M392 75.3h0M421.4 85.9h0M399.9 87.8h0M413.5 71.7h0M410.4 80.5h0M406.1 88.6h0M419.3 80.9h0M388.4 82.1h0M409.9 84.6h0M389.6 72.9h0M399.6 78.8h0M425.5 79.6h0M423.5 89.8h0M403.4 71.5h0M419.8 78.1h0M426.4 77.2h0M403.2 67.5h0M402.9 73.1h0M388.3 75.9h0M426 83.7h0M409.5 81.2h0M406 79.6h0M410.6 66.1h0M402.8 81.4h0M426.5 81.8h0M422.9 73.9h0M410.9 70.5h0M409.2 68.9h0M406.6 69h0M425.1 89.6h0M412.9 72h0M390.9 66.3h0M416.8 86.5h0M425.3 82.4h0M419.8 85.1h0M418.2 92.5h0M422.1 75.7h0M394.6 79.1h0M395.3 74.2h0M417.3 77.1h0M390.8 83h0M388.2 78.6h0M390.1 67.9h0M411.7 66h0M403.3 74h0M409.4 85.8h0M397.9 64.6h0M405.7 85.9h0M392.8 76.9h0M413.3 79.6h0M393.5 81h0M406.5 88.7h0M387.7 79.9h0M405.5 73.1h0M398.5 82.6h0M423.6 91.7h0M416.2 90.1h0M390.6 79.3h0M425.3 88h0M423.9 77.1h0M392.9 89.1h0M422.9 82h0M389.2 80.2h0M409.5 76.1h0M403.9 86.3h0M388.1 83.7h0M391 76.6h0M422.8 77.8h0M409.1 75.7h0M397.8 82.7h0M408.1 90.4h0M402.5 65.1h0M400.7 67.9h0M426.6 83h0M390.6 79.3h0M425.3 82.7h0M395 85.1h0M414.5 76.8h0M403.3 89.7h0M418.6 72.8h0M392.3 81.3h0M425.2 74.6h0M425.3 81.3h0M392.2 65.9h0M400.1 73.7h0M391.9 81.9h0M405.1 74.3h0M423.9 76h0M399.3 72.6h0M425 91.9h0M414.2 82.1h0M416.7 87.8h0M398.9 72.3h0M400.1 88.1h0M414.7 87h0M386.6 78.6h0M406.5 91.4h0M392.3 81.4h0M386.6 71.3h0M424 85.4h0M414 79h0M400.8 74.2h0M419.1 80.6h0M408.8 65h0M412.7 83.9h0M397.6 71.1h0M401.2 87.5h0M408.1 89.4h0M410.3 70.5h0M415.5 85.3h0M427.7 79.2h0M390.6 64.4h0M398.3 87.7h0M413.8 87.6h0M394.8 66.7h0M423.4 79h0M408.2 81.1h0M424.7 80.5h0M391.9 69.5h0M405.7 86.5h0M398 73.7h0M424 74.6h0M405.1 66.2h0M405.5 69.7h0M387.5 78.2h0M390.1 72.7h0M424.6 80.3h0M409.6 91.3h0M393.4 79h0M411.3 66.9h0M387.1 71.9h0M418.4 87.3h0M409.7 80.9h0M420.3 86.6h0M392 67h0M403.4 85.6h0M407.7 65.6h0M409.6 85.2h0M406.9 82.8h0M426 84.3h0M397.7 65.1h0M417.4 88.5h0M395 86.1h0M425.4 76.4h0M407.1 81.6h0M417.6 81.6h0M396.5 78.2h0M422.9 77.8h0M423.1 91.3h0M421.5 87.3h0M390.4 67.8h0M422.3 74.5h0M424.9 91.6h0M388.8 75.4h0M411.4 68.7h0M421.6 78.2h0M397.8 80.3h0M401.3 77.4h0M408.8 83.4h0M404.1 92.6h0M425.7 84.5h0M419.8 90.7h0M388.9 80h0M393 80.2h0M398.8 71h0M406.7 92.6h0M410.6 69.9h0M423 80.9h0M407.3 73.9h0M394 90.4h0M426 85.1h0M390 71.1h0M421.1 79.8h0M403.9 74h0M396.8 75.3h0M418 90.3h0M421.1 73.7h0M412.5 84.3h0M419.7 91.4h0M407.2 74.3h0M405.2 90.6h0M419.9 79.4h0M420.4 83.5h0M418.3 87.7h0M421.3 79.8h0M416.8 74h0M412 72.9h0M424.1 76.7h0M420.4 84.9h0M418.4 85.9h0M422 89.8h0M416.2 78.4h0M417.5 81.3h0M418.9 83h0M417 68.8h0M414 69.8h0M415.2 87.8h0M425.5 78.6h0M423 83h0M406.1 75.2h0M411.3 78.8h0M412.5 71.4h0M421.1 76.1h0M416.4 74.5h0M414.6 82.3h0M417.1 74.5h0M420.6 70.5h0M420.7 68.9h0M420.7 91.9h0M418.8 72.1h0M417.3 73.1h0M422.9 85.4h0M422 83.3h0M416 72h0M421.1 87.8h0M426.3 87.1h0M417 76.8h0M412.4 88.9h0M407.9 88.1h0M427.4 83.1h0M413.4 75.1h0M419.3 82h0M420.4 87.4h0M416.6 81h0M414.6 81.7h0M411.6 76.4h0M414.3 88h0M407.4 85.1h0M420.5 89.6h0M406.9 68h0M420.6 67.4h0M414 78.7h0M424.1 73h0M410.7 75.5h0M418.9 82h0M422.5 75.1h0M404.1 90.3h0M409.8 80.7h0M409.3 85.5h0M407.7 71.7h0M427.3 83.4h0M413.9 83.3h0M421.7 79h0M415.3 73.5h0M406.9 79.3h0M414.6 90.4h0M425.2 78.9h0M409.9 74.8h0M422.7 84.9h0M414.7 78h0M414.4 84h0M423.4 71.9h0M417.7 78.4h0M403.2 86h0M420.1 85.6h0M405.5 69.3h0M417 85.6h0M424.8 82.7h0M414.7 78.1h0M421.4 86.5h0M414.5 78.2h0M422.6 73.2h0M408.6 72.2h0M409.3 87.5h0M407.1 88.3h0M413.7 79.8h0M414.2 82h0M418.2 78h0M405.4 84.6h0M414.7 80.9h0M418.1 87.9h0M413.9 74.7h0M407.9 85h0M422.7 89.4h0M402.6 79.2h0M419.3 82.3h0M411 77.7h0M416.1 87h0M416.9 70.2h0M422.1 89.1h0M416.2 80.4h0M415.1 87.9h0M410.8 80.4h0M422.6 86.2h0M418.3 73h0M413 74.6h0M414.4 77.5h0M426.2 77h0M406.6 82.9h0M409.7 80.3h0M418.1 86.2h0M415.2 76.8h0M414.3 78.3h0M416.9 74.4h0M402.9 85h0M415.9 76h0M412.7 73.1h0M421.1 79.6h0M410.1 74h0M406 79.9h0M405.4 86.9h0M412.2 75.7h0M418.6 91.2h0M412.1 78.5h0M410.9 83.3h0M414.2 78.1h0M419.7 81h0M413.1 84.6h0M424.1 82.4h0M414.8 78.9h0M414.4 70.1h0M412.5 75.6h0M421.3 75.3h0M422.6 81h0M416.5 71.8h0M408.1 71.9h0M411.5 82.3h0M416 71h0M409.7 79h0M406.8 77h0M421.2 69.1h0M403.2 75h0M417.3 66.3h0M410.7 81.9h0M415.9 75.1h0M414.3 78.2h0M410.5 67.6h0M414.7 70.2h0M416.9 74.6h0M407.2 81.6h0M424.1 75.7h0M422.1 80.8h0M414.9 70.3h0M414.3 70h0M423.8 77.1h0M415.7 65h0M422.1 85.3h0M415.8 77.4h0M410.4 90.7h0M416.9 85h0M413.3 87.4h0M410.8 79.9h0M420.5 81.6h0M418.2 89h0M411 72.8h0M423.6 76.9h0M418.8 82.5h0M413.5 78h0M416.8 67.5h0M422.5 78.5h0M420.8 87.1h0M421.6 86.8h0M405.2 88.1h0M413.1 82.3h0M423.4 80.9h0M410.8 85.7h0M415.3 72.7h0M412.7 79.3h0M423.3 80.5h0M413.6 73.5h0M418.6 79h0M420 83.8h0M416.9 83.9h0M422.1 74.9h0M417.9 66.9h0M410 72h0M413.8 78.1h0M409.6 71.9h0M424.9 70.8h0M406.3 80.6h0M415.1 85.8h0M421.1 89h0M414.5 85.4h0M411.5 86.7h0M409.4 64.2h0M408.5 72.7h0M424.7 80.4h0M413.9 91.2h0M416.9 82.7h0M412.8 91.5h0M411.1 76.4h0M415.2 80.6h0M417.3 83.4h0M420.4 78.6h0M410.3 70.5h0M426.6 86.5h0M419.8 67.2h0M418.1 81.7h0M415.8 78.5h0M414.3 76.7h0M418.1 87.7h0M413.8 73.1h0M415.3 93.2h0M412.2 86.4h0M420.8 83.4h0M416 78.6h0M410.3 79.1h0M413 75.1h0M405.9 81.5h0M419.5 78.2h0M406.3 79.7h0M419.7 80.6h0M417.4 88.1h0M420.9 80.1h0M404.3 84.9h0M418.5 82h0M408.2 76.1h0M421.9 86.7h0M423.2 76.1h0M410.1 82.5h0M410.5 76.2h0M413 70.7h0M410.4 74.9h0M425.8 87.7h0M415.1 82.7h0M412.7 84.1h0M415.6 78.3h0M420.7 70.8h0M425.1 87.8h0M408.2 86h0M414.9 84.4h0M411.3 89.2h0M426.3 78.8h0M404.4 79.7h0M416.2 72.2h0M418.6 83.8h0M412.2 91.6h0M409.6 83.8h0M422.7 91.6h0M415.2 68.8h0M417.5 78.7h0M421 67.4h0M409.2 81.1h0M428.3 78.6h0M417.8 79.3h0M415.8 73.6h0M425.5 71.1h0M407.2 77.2h0M424.6 86.5h0M420 82.6h0M415.2 89.8h0M413.4 87.2h0M412 80.2h0M414.6 79.7h0M407.3 84.4h0M414.7 79.8h0M401 77.6h0M412.1 84.5h0M418.6 71.5h0M416.7 83.9h0M413.3 76.6h0M413.9 76.3h0M406.5 83.9h0M412.3 74.5h0M403.3 71h0M416.6 71.3h0M418.8 80.8h0M416.5 81.8h0M411.6 69.9h0M401.5 84.3h0M419.7 91.1h0M425.9 75.3h0M412.9 87.2h0M410.3 80.3h0M421.8 73.9h0M421.1 84.1h0M426.7 85h0M416.3 79.6h0M401.4 75.4h0M414.6 74.2h0M420.8 72.6h0M421.2 85.3h0M417.4 82.7h0M411.5 71h0M410.2 78.6h0M410.6 85.6h0M423.5 74.7h0M422.2 72.7h0M414 83.7h0M405.6 79.2h0M422.6 81.1h0M413.3 74.3h0"/>
<path stroke="#8eb440" stroke-width="1.45" stroke-linecap="round" d="M421.3 96.5h0M403.2 107.8h0M425.8 106.3h0M409.4 111.7h0M418.3 92.5h0M409.9 116.7h0M414.5 116h0M415.1 118.6h0M424.4 108h0M417.8 102.7h0M413.2 105h0M404.6 123.9h0M406.3 117.8h0M419.6 108.8h0M409.7 114.2h0M407.9 101h0M409 105.8h0M404 106.7h0M404.3 98.4h0M422.6 103.6h0M406.7 120.2h0M412.4 121.9h0M402.3 120.4h0M404.6 113.4h0M424 100.8h0M419.4 111.2h0M424.2 107.1h0M419.1 107h0M406.5 105.9h0M409.2 122.1h0M416.5 111.1h0M404.1 101h0M424.6 105.6h0M420.1 109.6h0M414.6 94.9h0M401.3 114h0M422 104.3h0M412.3 96.8h0M425.1 94.7h0M422.1 94.6h0M414.3 97.9h0M412.1 100h0M411.7 102.9h0M404.2 120.4h0M404.1 124.8h0M407 119.7h0M408.4 111h0M419 100.7h0M415.8 100.4h0M411.3 97.6h0M419.3 97.1h0M412.2 111.9h0M405.9 103.2h0M425.3 92.8h0M402.5 122.1h0M421.2 111.4h0M403.5 107.4h0M427.1 97.8h0M407.5 105.8h0M405.9 105.6h0M422.5 107.4h0M412.7 101.2h0M424.3 105.7h0M407.9 112.5h0M405.7 99.3h0M419.3 101h0M425.8 96.8h0M412 112h0M411.1 118.2h0M409.6 112.8h0M413.2 115.2h0M423.6 91.9h0M414.4 103.4h0M407.3 108h0M415.5 113.2h0M413.1 121.3h0M409.4 95.4h0M424.8 93.2h0M409.3 102.3h0M419 114.3h0M408 105.8h0M421 113.2h0M408.2 118.2h0M424.5 101.1h0M416 112.3h0M413.8 115.8h0M414.4 102.9h0M409 101.9h0M407.7 104.7h0M421.3 103.3h0M422.6 97.6h0M424.6 90.1h0M417.8 111.6h0M411.8 114h0M417.6 116.2h0M410 120h0M425.7 102.7h0M422.2 109.3h0M412.4 123h0M404.3 107.4h0M399.6 123.8h0M418.1 92.9h0M407.7 119h0M400.5 125.2h0M422.8 91.2h0M412.5 113.3h0M417.1 113.8h0M405.6 104.5h0M409.5 103h0M402 106.9h0M401.9 127h0M406.7 101.4h0M415.3 92.5h0M425.8 101.6h0M406.3 124.3h0M425.5 101.4h0M420.8 98.7h0M403.3 115.2h0M421.9 95.8h0M409.4 113.6h0M417 109.7h0M420.8 96h0M419.7 107.3h0M417.3 93h0M425.9 91.6h0M426.6 101.1h0M405.6 118.3h0M399.1 124.4h0M414.2 93.3h0M401.9 105.1h0M416.7 115.8h0M414.8 104.9h0M404.4 107.4h0M422.7 108h0M399.4 121.6h0M414.6 97.7h0M411.5 119.5h0M420.6 102.5h0M413.2 96.4h0M418.5 105.1h0M410.6 102.8h0M419.5 114.4h0M420 108h0M400 122.5h0M410.9 119h0M403.5 107.1h0M420.7 93.3h0M422 95.7h0M412.8 110.6h0M408.8 110.5h0M417.6 102.5h0M424.2 103.7h0M420.6 95.3h0M414.1 103.4h0M413.1 93h0M424.1 100.7h0M421.8 103.8h0M417.7 97.8h0M426.9 96.5h0M408.4 100.5h0M416.3 96.6h0M405.8 103.3h0M414.3 95.4h0M405.6 96.5h0M406.2 110.7h0M402.5 111.3h0M406 121.2h0M406.9 123.4h0M425.7 105.4h0M426.9 98.8h0M417 95h0M419.9 109.1h0M401.9 105.4h0M422.4 102.8h0M419.1 97.7h0M408.1 94h0M408.5 123.3h0M406.1 121.5h0M415.6 113.4h0M412.7 111.6h0M409.1 109.4h0M417.7 118.1h0M402.2 109.5h0M418.8 96.4h0M411.6 113.6h0M414.6 111.4h0M422.5 109h0M410.1 116h0M413.5 102.8h0M414.9 108.4h0M416.7 114.2h0M413.6 98.8h0M422.3 97.7h0M427.5 100.7h0M423.8 98h0M409.6 95h0M418.9 102.6h0M410 104.9h0M408.8 101.6h0M405.1 97.8h0M406.7 115.5h0M406.5 121.9h0M414.4 106.8h0M413.9 105.6h0M411.3 111.3h0M412.4 111.2h0M408.1 102.3h0M415.4 97.4h0M406.1 113.2h0M405 109.7h0M423.3 103.7h0M413.3 103.8h0M401.3 124h0M409.7 115.3h0M407.4 99.1h0M416.5 105.6h0M403.4 122.6h0M419.1 91.6h0M414.3 117.2h0M409.3 95.8h0M416.4 95.5h0M418.3 113.8h0M425.5 102.2h0M402.2 117.1h0M406.7 100.7h0M416 110.9h0M414.5 109.6h0M411.8 102.2h0M412 111.3h0M402.2 121.3h0M415.7 112h0M414.6 96h0M406 122.2h0M415.9 102.7h0M419.9 116.2h0M406.3 121.1h0M413 95h0M419.8 100.1h0M413.2 98.9h0M411.5 118.2h0M402.2 111.4h0M417.5 99.3h0M408.8 104.4h0M401.9 102.6h0M400.6 119.9h0M410.6 101.6h0M411.6 106.9h0M401.6 111.4h0M401.9 120.1h0M424.3 98.1h0M419.7 98.6h0M405.6 123.7h0M421.3 111.7h0M416.6 97.7h0M429.3 102.3h0M423.7 95.9h0M423.8 106.8h0M400.3 116.1h0M409.4 114.2h0M423 112.9h0M421.5 98.1h0M422 109.6h0M408.7 122h0M403.1 125.4h0M414.9 103.1h0M415.6 102.2h0M404.4 114.1h0M423.7 111.2h0M406.1 110.2h0M407.4 106.9h0M408.3 93.8h0M400.6 113.9h0M418.7 94h0M410.4 117.3h0M403.8 123.9h0M411.4 116.2h0M418.7 114.5h0M418.4 92.9h0M419.4 113.1h0M404.6 113.7h0M410 104.5h0M420.1 105h0M403.1 116.5h0M418.6 106.8h0M405.7 121.6h0M415.8 108.9h0M401.2 122.6h0M409.5 108.9h0M409.4 110.6h0M414.7 101.5h0M419.6 113.8h0M419.4 98.9h0M406.9 102.7h0M423.1 98.6h0M402.8 107.7h0M406.2 118.8h0M414.2 95.8h0M406.3 117.3h0M414.4 107.8h0M405.5 100.8h0M413.3 118.8h0M425.3 99.8h0M424.1 100.3h0M411.3 113.5h0M402 124.3h0M419.4 100.8h0M409.9 94.1h0M407.3 124.7h0M418 96.1h0M405.6 122.4h0M425.5 93.2h0M406.9 124.2h0M403.7 111.8h0M422.8 102.3h0M417 116.5h0M420.6 101.4h0M424.9 96.6h0M425.5 97h0M401.9 103.7h0M405.5 106h0M418.9 103.3h0M409.7 101.6h0M407.4 98.3h0M404.9 96.5h0M401.8 124.8h0M404.7 112.1h0M399.8 111.4h0M416.2 95.6h0M400.5 116.5h0M411 119.9h0M420.4 106.3h0M421.7 96.3h0M425.1 102.3h0M426.9 101.7h0M428.1 102.5h0M418.5 99.5h0M421.5 100.7h0M424 104.5h0M422 101.6h0M420.4 107.3h0M422.6 101.7h0M425.9 92.8h0M427.4 93.3h0M422.7 106h0M422.2 101.4h0M422.3 95.1h0M424.7 101.9h0M423.6 100.3h0M417.6 98.8h0M425.5 91.8h0M426.6 102.9h0M426 95.9h0M426.1 91.2h0M422.3 94.5h0M426.5 102.4h0M427.2 104.8h0M425.3 94.8h0M424.7 104.8h0M428.4 96.8h0M427.8 99.5h0M419.4 101.5h0M426.3 96.7h0M420.6 99.7h0M426.1 105.8h0M423.5 100.3h0M426.2 93.2h0M422.7 94.9h0M421.8 105.7h0M422.1 103.4h0M428.9 94.5h0M428.2 97.4h0M419.4 107.7h0M418.4 101.8h0M426.4 100.9h0M421.6 98.1h0M424.3 96.7h0M425.5 98.4h0M425.7 103.1h0M424.8 101.4h0M421.2 99.8h0M421 107.3h0M419.3 99.7h0M421.9 99.9h0M428.7 97.8h0M426.7 92.8h0M427.7 103h0M423.3 97.1h0M425.1 100.9h0M427.7 103.3h0M418.8 100.5h0"/>
<path stroke="#bea428" stroke-width="1.45" stroke-linecap="round" d="M393.9 136.6h0M397.2 137.5h0M400.2 141h0M389.6 134h0M395.9 140.6h0M394.4 134.6h0M398.7 141.3h0M406.6 132.6h0M394.9 142.3h0M391.6 137.1h0M401.8 131.4h0M402.5 136.6h0M410.5 137.2h0M393.9 149.9h0M399.6 142.8h0M397.9 144.5h0M392.1 150h0M397.2 138.1h0M399.7 135.5h0M399 134.2h0M407 136.5h0M394.1 135.5h0M399.5 136.9h0M401.9 131.6h0M392.5 142.6h0M405.5 140.1h0M391.8 139.9h0M400.6 147.2h0M393.7 140.3h0M398.5 143h0M408.2 140.5h0M402 147.9h0M395.8 141.1h0M400.1 149.2h0M394.2 146.4h0M386.7 142.1h0M399.1 148.8h0M405.3 133.5h0M408.1 147.3h0M400 129.4h0M396.4 137.5h0M396.2 144.5h0M399.2 150.6h0M401.5 142.6h0M399.8 142.6h0M399.3 137.7h0M408.7 142.2h0M396.3 144.1h0M402.6 146.6h0M403.3 143.4h0M397.8 138.8h0M394.8 140.3h0M409.2 141.7h0M402.1 139.6h0M399.9 138.5h0M388.6 142.8h0M385.9 144.9h0M397.6 145.4h0M404.8 138.8h0M387.9 131.5h0M404.1 139.9h0M403.7 136.6h0M398.6 143.9h0M402.6 132h0M394.9 141.8h0M397.4 143.9h0M395.8 139.1h0M389.5 137h0M398 130.8h0M398.3 135h0M400.2 135.1h0M393 146.3h0M407.4 146.4h0M401.9 129.4h0M396 142.6h0M399.7 143.3h0M394.7 135.5h0M387.8 134.6h0M406 131.8h0M393.1 148.2h0M407 136.1h0M404.9 143h0M396.9 139.2h0M394.8 151.3h0M402.5 133.1h0M394 138.1h0M395.9 136h0M390.8 137.3h0M394.6 129.4h0M410.2 132.6h0M400 135.9h0M388.5 142.5h0M397.7 139.1h0M395.4 137.4h0M401.9 139.6h0M398.6 143.6h0M389.1 145h0M392.8 135h0M392.8 144h0M390.4 150.2h0M389.4 145.5h0M391.4 136.7h0M388.5 132.9h0M388.5 140.5h0M395.9 148.5h0M398.7 144.3h0M407.1 134.9h0M394.5 134.8h0M393.1 136.6h0M399.8 148.1h0M399.1 140.2h0M394.8 133.8h0M393 146.7h0M404.8 132.4h0M405.8 146.8h0M402.8 142.8h0M402.8 141.7h0M391.1 140.7h0M391.9 147.7h0M405.7 135.5h0M386.7 141.9h0M391.2 133.1h0M397.8 147.3h0M396.8 135.9h0M390.5 134.3h0M388.9 134.7h0M409.3 134.2h0M403.6 147.7h0M396.4 131.2h0M392 140.9h0M393.3 143.6h0M401.5 150.3h0M400.9 138.2h0M389 137.3h0M403.8 135.5h0M398.4 134.1h0M393.9 144.2h0M393.8 136.1h0M398.8 140.3h0M404.5 150.4h0M401.4 134.5h0M391.7 140.9h0M393.6 137.2h0M406 141.1h0M409.9 136.2h0M395.5 136.8h0M391.4 142.8h0M407 138.3h0M396.4 131.8h0M397.9 134.9h0M394.9 133.1h0M398.6 138.3h0M398.4 148h0M400.4 134.3h0M393.2 125.6h0M400.2 131.5h0M402 126.4h0M393.4 140.2h0M394.6 144.3h0M398.8 138.8h0M395.1 136.1h0M401 144.6h0M388.1 143.9h0M397.2 148.9h0M403.7 140.8h0M396.5 142.3h0M392.1 138h0M396.8 144.1h0M399 132.7h0M393.9 129.8h0M403 127.9h0M394.8 131.9h0M400.6 140.5h0M403.2 143h0M398.7 147.2h0M393.7 146h0M400.9 136.4h0M395.4 138.8h0M402.4 143.1h0M396.4 139h0M398.5 138.1h0M398.7 133.6h0M390.4 148.2h0M405.1 140.4h0M404 147.9h0M397.5 134.6h0M399.1 135.4h0M400.3 142.2h0M396.7 145.9h0M385.6 136.2h0M399.6 144.6h0M397.8 131.3h0M392.6 145.8h0M394.1 143.7h0M397.1 136.8h0M401.3 141.4h0M401.8 139h0M392 142.1h0M388.3 140.8h0M396.4 126.6h0M391.9 131h0M394 146.3h0M410.8 140.4h0M391.2 145.6h0M390 135.9h0M396.9 149.2h0M401.7 152.2h0M399.8 139.4h0M405.1 142h0M404.9 143.3h0M400 141.3h0M388 128.8h0M397.3 136.9h0M404.1 129.5h0M393.1 135.4h0M400.7 141.4h0M410.6 144.5h0M397.5 132.3h0M403.3 133h0M397.2 137.1h0M402.9 137.1h0M393.7 143.7h0M388.6 141h0M397 147.6h0M393.4 139.8h0M399.3 135.9h0M393.6 136.5h0M398.7 134h0M394.1 133.4h0M391.5 134.1h0M388 142.5h0M398.6 137.3h0M405 142.3h0M398.7 128.4h0M396.4 133.3h0M389.8 137.6h0M405.8 144.6h0M405.8 140.4h0M391 141.6h0M403.9 130.6h0M392 134.7h0M393.9 130.5h0M397.8 146h0M390.2 142.2h0M403.1 134.4h0M396.2 140.1h0M391.9 140.1h0M388.6 135.7h0M393 137.7h0M405.6 131.5h0M401.7 151.6h0M395.5 140.3h0M390.8 135.2h0M390.1 133.2h0M392.3 151.9h0M399.3 139.7h0M398 135.6h0M394.5 137h0M394.6 143.9h0M394.5 138.5h0M392.1 132.1h0M396.4 139.4h0M404.5 137.3h0M387.9 134.2h0M402.8 130h0M406.3 138h0M395.4 144.4h0M391.8 130.7h0M396.3 137.2h0M396.8 145.5h0M398.2 130.3h0M393.1 129.2h0M395.9 149.3h0M404.8 131.8h0M391.5 144.6h0M393.1 144.4h0M402.7 131.6h0M408.1 131.2h0M410.6 145.3h0M402.3 137.4h0M401 129.7h0M395.5 135.9h0M402.7 134.9h0M396.4 139.3h0M401.2 148.9h0M389 142.4h0M406.9 139.4h0M392.6 139.7h0M395.7 136h0M397.6 141.6h0M396.1 136.4h0M400.6 153h0M407.8 139.7h0M398.4 127.4h0M394.8 136.2h0M402.7 129h0M394.4 144.2h0M394 148.5h0M407.6 145.1h0M391 139.3h0M392.1 141.4h0M393.4 144.8h0M402 142.3h0M391.2 136.8h0M405.2 140.8h0M392.4 140.4h0M404.7 141.5h0M401.3 136h0M402.1 140.3h0M390.1 142.3h0M387.5 143.1h0M391.1 127.5h0M411.4 137.8h0M398.8 143.1h0M404.5 130.1h0M398.3 146.5h0M389.8 133.6h0M390.2 133.3h0M400.1 146h0M395.1 139.6h0M401.9 147.5h0M391.1 140.9h0M410.3 133.6h0M389.6 135.9h0M392.3 134.3h0M407.2 144.7h0M403.2 140.5h0M402.5 151.1h0M392.2 132.8h0M402.8 139.3h0M394.3 133.1h0M404.6 139.3h0M396.2 143.2h0M392.4 125.7h0M386.3 147.8h0M401.9 148.5h0M389.8 150.3h0M400.4 127.5h0M400.6 137.2h0M404.6 129.4h0M384.9 139h0M388.5 137.6h0M388.7 129.3h0M393.7 131.5h0M400.2 138.2h0M398.1 146.9h0M410.5 144h0M386.5 132.6h0M400.7 139.6h0M399.9 142.7h0M407.1 149.6h0M391.1 150h0M397.5 124.9h0M387.6 131.8h0M398.3 124.9h0M391.4 144.4h0M393.5 128.5h0M397.3 131.1h0M395 134.8h0M400.8 148.8h0M393.9 137h0M389.8 127.6h0M399.5 132.3h0M386.1 140.1h0M407.2 132h0M397.9 127.8h0M405.4 140.7h0M408.3 148.9h0M396.2 127.4h0M403.8 135.6h0M391 146h0M385.8 144.4h0M396.6 151h0M389.7 150h0M393.6 146.6h0M399.7 138.1h0M404.4 137.7h0M396.3 143h0M399.9 140.8h0M401.3 144.5h0M406.5 140.7h0M406.3 133.2h0M393.6 137.6h0M409.4 139.5h0M403.9 141.2h0M386.2 139.9h0M409.2 134.7h0M390.4 133.7h0M400.3 141.7h0M383.4 140.4h0M402.1 137.6h0M401.7 141h0M401 134.7h0M390.7 136.9h0M395.3 127.3h0M400 151.1h0M391.6 147.8h0M387.8 137.2h0M394.8 130h0M409.8 139.2h0M383.7 141.4h0M404.8 139.2h0M399.7 138.7h0M403.3 149.9h0M406.4 143.1h0M387.7 148.4h0M390.1 128h0M400.2 153.7h0M403.3 138.7h0M396.2 144.7h0M399.2 140.7h0M404.4 136.2h0M391.1 144.4h0M393.5 139.9h0M394.9 125.7h0M398 150.8h0M399.9 148.8h0M393.7 131.1h0M387.9 146h0M402.5 149.8h0M398 133.7h0M409.9 133.7h0M383.9 142.5h0M391.5 141.4h0M406.2 132.4h0M408.1 147.6h0M406.6 131.1h0M387.6 137.1h0M401.3 140h0M406.4 130.2h0"/>
<path stroke="#5eacc0" stroke-width="1.45" stroke-linecap="round" d="M357.8 118.9h0M385.4 111.6h0M371.7 112.3h0M387.2 108.9h0M383.8 107h0M359.1 119.7h0M364.9 111.2h0M377.9 110.5h0M367.2 113.8h0M361.5 117h0M371.9 112.9h0M359.6 118.4h0M385.8 109.6h0M368.3 112.4h0M384.3 109.3h0M366.3 114h0M386.2 111.8h0M361.3 117.8h0M358.9 117.6h0M376.8 113h0M373.9 110.4h0M364.9 113.2h0M377.9 110.8h0M381.6 108.2h0M368.8 114.1h0M365.4 115.6h0M361.7 115.9h0M359.7 121.6h0M377.7 111.7h0M386.4 110.7h0M373.1 107.8h0M368.5 112.4h0M363.9 115.7h0M356 120.8h0M367.5 112.8h0M373.7 109.9h0M385.2 111.4h0M373.5 111.7h0M391.1 110.6h0M369.7 113.7h0M357.9 118.6h0M378.8 112h0M385.5 110.2h0M384.8 110.4h0M384.1 112.5h0M365 113.5h0M386.7 110.5h0M378.1 111h0M375.4 112.4h0M359.7 116h0M358.4 129h0M379.4 123.2h0M371 124.5h0M385.9 126h0M390.4 128.4h0M389.9 126h0M372.1 121.7h0M377.2 122.7h0M371 124h0M360.7 125.5h0M376.5 125.3h0M383.1 123h0M375.9 124.5h0M370.1 124.8h0M373.8 124.3h0M359.5 126h0M379.7 123.2h0M373.4 123.3h0M370 122.1h0M361.4 126.5h0M389.6 126.8h0M364.7 125.1h0M377.1 123.3h0M374.6 124.8h0M390 126.8h0M368.5 124.8h0M387.6 125.5h0M366.4 125.5h0M386.7 125.4h0M386.2 128.3h0M381.6 123.1h0M367.8 122.8h0M393.5 128.3h0M388.9 124.4h0M379.8 124h0M371.1 123.5h0M364.3 124h0M366.8 122.7h0M360.3 125.8h0M381.7 124.1h0"/>
<path stroke="#6fa040" stroke-width="1.45" stroke-linecap="round" d="M458.3 160.7h0M454.4 160.5h0M460.7 165.7h0M445.3 157.5h0M457.5 163.9h0M448.9 159.9h0M440.4 160.5h0M432.8 163.7h0M458.4 165.7h0M456.4 164.8h0M432.7 161.1h0M450.6 158.5h0M434.6 161.3h0M444.6 159.8h0M437.1 157.6h0M457.8 161.7h0M446.6 158.9h0M432.1 161.5h0M455.8 168.9h0M452.3 159.4h0M452.1 159.1h0M440.3 158.9h0M429.9 162.6h0M434.6 159.5h0M431.3 163.5h0M447.2 156.3h0M443.2 157.4h0M429 161h0M458.2 169.9h0M441.7 157.2h0M431.4 162.3h0M448.1 161.2h0M451.6 157.4h0M433.8 160.7h0M437.5 160.5h0M442.2 158.5h0M459.5 166.4h0M458.2 167.1h0M436.4 160.4h0M432.4 163.2h0M447.8 156.7h0M430.1 163.3h0M445.4 157.2h0M454.9 158.4h0M450.4 161h0M431.5 159.8h0M441.3 161h0M429.6 165.2h0M427.9 164.1h0M461 164.6h0M451.5 155.7h0M459.2 167.1h0M458.5 169.1h0M449.1 161.7h0M432.3 163.9h0M452.5 160.1h0M430.2 161.3h0M449.8 158.4h0M455.5 160.4h0M434.1 161.8h0M435.6 159.6h0M449.4 157.8h0M441.5 157.3h0M454.1 159.8h0M451.8 157.9h0M427.7 163.4h0M428.5 163.1h0M457.9 167.9h0M435.3 158.2h0M453.2 160.3h0M446.4 159.8h0M443.2 157.8h0M436.7 158.7h0M451.1 159.3h0M429 162.6h0M428.4 162.7h0M450.1 157.4h0M460.4 165.8h0M436.8 158.9h0M437.6 160h0M458.1 162.4h0M453.7 159h0M442.8 158.1h0M443.5 156.9h0M452.9 159.1h0M438.4 158.4h0M440.4 160.6h0M433.8 160.3h0M429.4 165.6h0M440.2 160.9h0M456.1 161.3h0M434.4 162h0M452.9 158.5h0M435.9 161.1h0M455.9 164.4h0M436.2 160.4h0M458.9 162.7h0M436.2 160.7h0M456.5 167.3h0M438 158.5h0M446.7 154.3h0M457.1 164.2h0M430.3 160.2h0M459.3 163h0M439.4 158.9h0M434.2 157.6h0M431.1 166h0M447.7 159.5h0M433.1 160.5h0M458.6 168.6h0M447.6 169.6h0M447.2 161.2h0M446.8 173.3h0M449.2 168.1h0M460 165.9h0M443.7 164.8h0M448.5 164.6h0M443.3 161.9h0M443.6 167.9h0M456 172.5h0M444 163.4h0M442 164.5h0M448.4 166.2h0M442.2 166h0M452.7 161.2h0M444.3 164.2h0M446.7 171.6h0M451.4 170.2h0M453.2 171.3h0M455.6 162.1h0M450.1 162.3h0M452.5 167.6h0M453.9 171.8h0M443.7 169.1h0M445.8 165.1h0M456.4 170h0M448.6 162.6h0M456.2 171.9h0M458.1 162.8h0M453.8 163.7h0M455.6 165h0M443.1 166.5h0M454.4 170.1h0M446.2 161.2h0M448.8 175h0M450.8 174.8h0M457.4 174.1h0M458.1 166.5h0M441.4 162.7h0M459.7 171.5h0M451 170.9h0M451.5 165.6h0M454.6 165.3h0M456.4 164.8h0M445.5 160.1h0M448.5 163.2h0M454.2 175.7h0M447.5 163.8h0M452.2 172.7h0M450.5 174.8h0M453.4 174.5h0M453.6 170.4h0M455.8 165.8h0M447.9 169.7h0M443.6 169h0M458.1 172.8h0M448.7 165.7h0M442.3 164.8h0M454.1 164.3h0M443.3 171.3h0M450.8 160.8h0M445.9 169.5h0M456.2 173.6h0M449.9 164.2h0M454.7 172.3h0M446.4 168.8h0M448.9 172h0M452.3 167.4h0M456 172.2h0M456.8 165.9h0M447.8 172.8h0M446.9 168.7h0M459.1 168.6h0M449.3 175.4h0M455.2 163.2h0M452.9 175.2h0M446 164h0M453 168.5h0M456.2 174.9h0M451.3 164.5h0M442.7 166.9h0M444 168.7h0M453.5 174.8h0M456.9 166.8h0M452 172.5h0M457 173.3h0M455.9 165.2h0M442.1 163.4h0M454.1 170h0M452.3 173.5h0M457.7 172.8h0M445.4 163.7h0M448.3 164.2h0M449.3 165h0M451 166.6h0M453.5 170.3h0M457.8 168.1h0M445.4 173.8h0M452.3 160h0M451.6 174.2h0M456.1 167.5h0M454.2 174h0M446.3 172h0M444.9 163.9h0M443 164.5h0M453.8 163.2h0M444.6 161.9h0M447.1 162.1h0M454.3 162.7h0M452.4 161h0M453.5 165.8h0M445.3 167.6h0M450.2 160.7h0M451 171.7h0M456 171.4h0M457.1 167.6h0M459.2 171.9h0M449.2 170h0M458.7 168.9h0M451.2 161.5h0M453.5 177.6h0M447.5 171.1h0M457.3 171.5h0M443.5 163.3h0M453.8 169.8h0M457.5 172.9h0M446.4 160.7h0M450 165.3h0M454.4 171.3h0M453 171.2h0M440.7 178.1h0M441.1 172.4h0M440.5 172.4h0M440.6 174.5h0M441.7 172.9h0M441.3 177.1h0M442.1 180.7h0M440.9 177.8h0M440.5 175.3h0M441 175.9h0"/>
<path stroke="#62a6e2" stroke-width="1.45" stroke-linecap="round" d="M421.6 165.5h0M413.8 166.3h0M418.1 163.7h0M404.5 162.9h0M414.2 164h0M422.9 164.2h0M410.2 164h0M421.3 164.7h0M406.6 165h0M423 166.6h0M405.4 164.8h0M427.4 164.3h0M406.6 164.5h0M405.4 166.2h0M412 165.1h0M403.9 164.4h0M425.2 161.5h0M428 164.1h0M407.4 163.6h0M428.1 164.8h0M413.9 162.9h0M414.1 166.4h0M426.5 165.2h0M407.5 164.1h0M415.8 166.2h0M413.5 164.3h0M420.3 162.1h0M402.9 164.1h0M422.7 164.9h0M406.8 164.9h0M407 165.1h0M410.1 163.2h0M411 166h0M425.9 165.1h0M403.9 162.5h0M422.4 164h0M426.5 164.2h0M403.8 164h0M405.3 164h0M413.9 164.9h0M417.1 165.5h0M404.5 163.4h0M425 162.5h0M425.5 166h0M417.2 162.4h0M424.2 180.6h0M424.5 183.9h0M423.7 178.5h0M423.3 177h0M424.2 180.8h0M425.1 177.8h0M426.1 175.9h0M424.1 175.4h0M426 182.3h0M424.6 175.9h0M424.9 176.7h0M424.5 176.3h0M424.5 183h0M424.1 184.7h0M423.4 182.8h0M424.8 173.9h0M425.2 182.2h0M425.5 182.2h0M426.6 178.9h0M426.2 171.6h0M424.9 167.4h0M424 181.3h0M423.5 170.2h0M424.3 168.6h0M424.6 172.2h0"/>
<path stroke="#8c52b6" stroke-width="1.45" stroke-linecap="round" d="M371.6 159.1h0M371.3 157.8h0M372.3 153.6h0M372.8 150.7h0M370.9 154.1h0M372.5 156.3h0M372.8 156.2h0M372.6 153.1h0M371.5 154.1h0M371.9 157.6h0M372.8 152.4h0M371.1 158.3h0M371.8 157.2h0M369.2 158.7h0M372.2 157.9h0M372.4 153.6h0M371.8 150.1h0M370.5 154h0M369.2 157.1h0M370.9 153.9h0M372.1 161.5h0M370.3 153.1h0M371.8 155.1h0M371.7 151.2h0M397.9 169.8h0M399.8 168.4h0M395.4 169.5h0M399.2 170.7h0M396.5 170.7h0M395.9 168.1h0M394 169.6h0M398.2 167.1h0M400.3 169.4h0M396.9 167.7h0M397.6 171.1h0M395.9 169.3h0M394.1 168.9h0M398.9 167.4h0M399 168.7h0M397.6 167.8h0M395.8 168.3h0M397.6 167.6h0M397.1 167.2h0M396.3 169.6h0M397.6 167.7h0M395 168.7h0"/>
<path stroke="#6a98dc" stroke-width="1.45" stroke-linecap="round" d="M317.6 66.1h0M314 66.1h0M304.2 59.7h0M312 63.5h0M303 57.6h0M310.9 61.5h0M312.8 66.7h0M310.5 63.7h0M311.8 64.3h0M308.2 55.9h0M305.8 59.4h0M310.1 59.6h0M307.7 59.3h0M308.7 63.4h0M310.7 62.5h0M305.9 60.1h0M314.3 65.1h0M311.9 62.9h0M312.1 59.3h0M308.8 56h0M311.3 59.9h0M311.4 64.9h0M310.6 62.6h0M312.3 64.8h0M309.5 63.7h0M306.9 61.7h0"/>
<path stroke="#6a74bc" stroke-width="1.45" stroke-linecap="round" d="M348.5 102.3h0M351 100.3h0M349.2 98h0M345.3 100.4h0M351 100.5h0M348.6 98.7h0M348.3 99.9h0M347.6 97.6h0M354.2 100.4h0M352 98.9h0M350.5 98.1h0M349.3 97.8h0M349.1 100.4h0M349.5 100.1h0M346.1 97.7h0M348.5 98.1h0M348.1 99.6h0M353 98.4h0M349.4 98.1h0M346.7 96.6h0M350.4 100h0M352.5 99.7h0M349.9 98.2h0M354 98.5h0M352.8 101.8h0M350.9 102.1h0M354.3 100.4h0M347.8 101.6h0M352.7 100.4h0M348.9 100.1h0M347.6 102.1h0M351.3 97.4h0M345.7 100.6h0M347.8 99.7h0M351.4 99.5h0M353.9 98.7h0M352.4 102.7h0M353.9 100.2h0M354.1 98.8h0M353.4 98.2h0M349.3 95.8h0M352.2 98.8h0M351.1 101h0M354.3 101.7h0M352.1 100.7h0M348.1 98.5h0M349.5 98.2h0M355.1 100.2h0M347.8 99.1h0M350.3 98.7h0M349 101.4h0M352.1 97.7h0M346.6 100.1h0M352.2 98.8h0M351.2 101.4h0M351.2 100.5h0M348.5 97.9h0M350.1 99.6h0M354.7 98.9h0M347.9 97.9h0M347.8 97.5h0M351.6 98.9h0M346.8 99.6h0M348.5 101.5h0M347.5 99.9h0M349.8 99.5h0M350.6 99.6h0M353.6 97.1h0M350.1 98.2h0M348.9 98.9h0"/>
<path stroke="#b0307e" stroke-width="1.45" stroke-linecap="round" d="M320.3 98.5h0M320.4 98.1h0M319.7 97.4h0M320.2 98.1h0M322.3 99h0M322.7 99.1h0M319.9 97.9h0M322.1 98.8h0M319 96.3h0M320.5 97.6h0M324.3 99.5h0M321.1 98h0M323.8 99.5h0M320.6 98h0"/>
<path stroke="#c0408a" stroke-width="1.45" stroke-linecap="round" d="M315 134.2h0M316.7 136.4h0M316.7 132h0M306.8 138.4h0M317.7 137.9h0M322.2 126.1h0M307.9 136h0M314.5 129.8h0M320 135.4h0M306.1 125.2h0M325.6 127.9h0M312.2 129.7h0M323.7 131.7h0M325.3 138.5h0M310.7 134.8h0M472.6 113.7h0M471.8 113h0M471.1 112.8h0M472.1 113.5h0M472.6 113.8h0M470.5 112.4h0M470.3 112.5h0"/>
<text x="138.1" y="37" font-size="8.6" fill="#4e2070" color="#4e2070" textLength="12.40" lengthAdjust="spacingAndGlyphs">WT</text>
<text x="51" y="51.1" font-size="8.7" fill="#8cc6e6" color="#8cc6e6" textLength="43.40" lengthAdjust="spacingAndGlyphs">Granulocyte</text>
<text x="97.9" y="91.1" font-size="8.7" fill="#5a64a8" color="#5a64a8" textLength="44.10" lengthAdjust="spacingAndGlyphs">Macrophage</text>
<text x="70.6" y="109" font-size="8.7" fill="#b0307a" color="#b0307a" textLength="36.30" lengthAdjust="spacingAndGlyphs">Eosinophil</text>
<text x="118.6" y="113.5" font-size="8.7" fill="#3aa8b4" color="#3aa8b4" textLength="40.30" lengthAdjust="spacingAndGlyphs">LymphProg</text>
<text x="52.3" y="121" font-size="8.7" fill="#38a8a0" color="#38a8a0" textLength="39.60" lengthAdjust="spacingAndGlyphs">ErythProg2</text>
<text x="174" y="61.6" font-size="8.7" fill="#1a1a1a" color="#1a1a1a" textLength="38.90" lengthAdjust="spacingAndGlyphs">MyelProg2</text>
<text x="201" y="107" font-size="8.7" fill="#4a9e58" color="#4a9e58" textLength="38.50" lengthAdjust="spacingAndGlyphs">MyelProg1</text>
<text x="192.8" y="140.7" font-size="8.7" fill="#b8a040" color="#b8a040" textLength="18.10" lengthAdjust="spacingAndGlyphs">MPP</text>
<text x="82.3" y="170.4" font-size="8.7" fill="#a0b040" color="#a0b040" textLength="39.10" lengthAdjust="spacingAndGlyphs">ErythProg1</text>
<text x="132.5" y="170.5" font-size="8.7" fill="#9050b0" color="#9050b0" textLength="26.50" lengthAdjust="spacingAndGlyphs">HSPC/</text>
<text x="132.5" y="180.6" font-size="8.7" fill="#9050b0" color="#9050b0" textLength="27.00" lengthAdjust="spacingAndGlyphs">Thromb</text>
<text x="182.3" y="192.2" font-size="8.7" fill="#40a8e0" color="#40a8e0" textLength="22.70" lengthAdjust="spacingAndGlyphs">NKcell</text>
<text x="227.6" y="182.2" font-size="8.7" fill="#3a9a50" color="#3a9a50" textLength="16.10" lengthAdjust="spacingAndGlyphs">Tcell</text>
<text x="59" y="210.3" font-size="8.7" fill="#d08a30" color="#d08a30" textLength="40.20" lengthAdjust="spacingAndGlyphs">Erythrocyte</text>
<text x="130" y="231.2" font-size="8.7" fill="#d05050" color="#d05050" textLength="16.20" lengthAdjust="spacingAndGlyphs">Bcell</text>
<text x="206" y="223.4" font-size="8.7" fill="#4a9a50" color="#4a9a50" textLength="25.00" lengthAdjust="spacingAndGlyphs">Bcell 2</text>
<text x="352" y="37.7" font-size="8.6" fill="#cc3a3a" color="#cc3a3a" font-style="italic">gata2b<tspan font-size="6" dy="-4.2">ko</tspan></text>
<g stroke="#111" stroke-width="1.1" fill="none">
<path d="M65.8 332.5V427.7H204.5"/>
<path d="M62.8 427.7H65.8"/>
<path d="M62.8 396.8H65.8"/>
<path d="M62.8 365.9H65.8"/>
<path d="M62.8 335H65.8"/>
<path d="M86 427.7V431"/>
<path d="M105.4 427.7V431"/>
<path d="M124.8 427.7V431"/>
<path d="M144.2 427.7V431"/>
<path d="M163.6 427.7V431"/>
<path d="M183 427.7V431"/>
</g>
<text x="58.9" y="430.9" font-size="9.2" fill="#111" color="#111" text-anchor="end">0</text>
<text x="58.9" y="400" font-size="9.2" fill="#111" color="#111" text-anchor="end">10</text>
<text x="58.9" y="369.1" font-size="9.2" fill="#111" color="#111" text-anchor="end">20</text>
<text x="58.9" y="338.2" font-size="9.2" fill="#111" color="#111" text-anchor="end">30</text>
<text transform="translate(30 379.5) rotate(-90) scale(0.754 1)" font-size="10" fill="#111" color="#111" text-anchor="middle">Proportion of non-erythroid</text>
<text transform="translate(43.2 379.6) rotate(-90) scale(0.79 1)" font-size="10" fill="#111" color="#111" text-anchor="middle">marrow cells (%)</text>
<rect x="69" y="422.8" width="5.9" height="4.9" fill="#9d82b6"/>
<rect x="78.8" y="425.2" width="5.9" height="2.5" fill="#d9958a"/>
<circle cx="71" cy="421.5" r="1.3" fill="#4a1a6e"/>
<circle cx="72.9" cy="423.1" r="1.3" fill="#4a1a6e"/>
<circle cx="71.9" cy="423.4" r="1.3" fill="#4a1a6e"/>
<circle cx="80.8" cy="424.6" r="1.3" fill="#c0102c"/>
<circle cx="82.7" cy="425.8" r="1.3" fill="#c0102c"/>
<circle cx="81.7" cy="426.5" r="1.3" fill="#c0102c"/>
<rect x="88.3" y="405.5" width="5.9" height="22.2" fill="#9d82b6"/>
<rect x="98.1" y="402.1" width="5.9" height="25.6" fill="#d9958a"/>
<path d="M91.2 401.4V409.2M89.2 401.4h4M89.2 409.2h4" stroke="#111" stroke-width="1.1" fill="none"/>
<path d="M101 396.5V408.9M99 396.5h4M99 408.9h4" stroke="#111" stroke-width="1.1" fill="none"/>
<circle cx="90.2" cy="401.6" r="1.3" fill="#4a1a6e"/>
<circle cx="92.2" cy="406.1" r="1.3" fill="#4a1a6e"/>
<circle cx="91.2" cy="406.1" r="1.3" fill="#4a1a6e"/>
<circle cx="100" cy="397.7" r="1.3" fill="#c0102c"/>
<circle cx="102" cy="399.6" r="1.3" fill="#c0102c"/>
<circle cx="101" cy="408.9" r="1.3" fill="#c0102c"/>
<rect x="107.6" y="415.3" width="5.9" height="12.4" fill="#9d82b6"/>
<rect x="117.4" y="390" width="5.9" height="37.7" fill="#d9958a"/>
<path d="M110.5 410.1V420M108.5 410.1h4M108.5 420h4" stroke="#111" stroke-width="1.1" fill="none"/>
<path d="M120.4 369.6V411M118.4 369.6h4M118.4 411h4" stroke="#111" stroke-width="1.1" fill="none"/>
<circle cx="109.5" cy="410.1" r="1.3" fill="#4a1a6e"/>
<circle cx="111.5" cy="416.3" r="1.3" fill="#4a1a6e"/>
<circle cx="110.5" cy="418.4" r="1.3" fill="#4a1a6e"/>
<circle cx="119.4" cy="370.2" r="1.3" fill="#c0102c"/>
<circle cx="121.3" cy="386.9" r="1.3" fill="#c0102c"/>
<circle cx="120.3" cy="411" r="1.3" fill="#c0102c"/>
<rect x="126.9" y="394.3" width="5.9" height="33.4" fill="#9d82b6"/>
<rect x="136.7" y="356" width="5.9" height="71.7" fill="#d9958a"/>
<path d="M129.8 378.6V410.1M127.8 378.6h4M127.8 410.1h4" stroke="#111" stroke-width="1.1" fill="none"/>
<path d="M139.6 346.1V367.1M137.6 346.1h4M137.6 367.1h4" stroke="#111" stroke-width="1.1" fill="none"/>
<circle cx="128.8" cy="376.4" r="1.3" fill="#4a1a6e"/>
<circle cx="130.8" cy="399.6" r="1.3" fill="#4a1a6e"/>
<circle cx="129.8" cy="405.8" r="1.3" fill="#4a1a6e"/>
<circle cx="138.6" cy="348.9" r="1.3" fill="#c0102c"/>
<circle cx="140.5" cy="351.4" r="1.3" fill="#c0102c"/>
<circle cx="139.5" cy="367.1" r="1.3" fill="#c0102c"/>
<rect x="146.2" y="412.9" width="5.9" height="14.8" fill="#9d82b6"/>
<rect x="156" y="418.4" width="5.9" height="9.3" fill="#d9958a"/>
<path d="M149.1 410.1V414.7M147.1 410.1h4M147.1 414.7h4" stroke="#111" stroke-width="1.1" fill="none"/>
<path d="M158.9 411.9V421.5M156.9 411.9h4M156.9 421.5h4" stroke="#111" stroke-width="1.1" fill="none"/>
<circle cx="148.1" cy="409.2" r="1.3" fill="#4a1a6e"/>
<circle cx="150" cy="413.2" r="1.3" fill="#4a1a6e"/>
<circle cx="149" cy="414.4" r="1.3" fill="#4a1a6e"/>
<circle cx="157.9" cy="411.9" r="1.3" fill="#c0102c"/>
<circle cx="159.8" cy="420.6" r="1.3" fill="#c0102c"/>
<circle cx="158.8" cy="419.7" r="1.3" fill="#c0102c"/>
<rect x="165.5" y="408.5" width="5.9" height="19.2" fill="#9d82b6"/>
<rect x="175.3" y="406.4" width="5.9" height="21.3" fill="#d9958a"/>
<path d="M178.2 389.7V420.6M176.2 389.7h4M176.2 420.6h4" stroke="#111" stroke-width="1.1" fill="none"/>
<circle cx="167.4" cy="407.9" r="1.3" fill="#4a1a6e"/>
<circle cx="169.3" cy="408.5" r="1.3" fill="#4a1a6e"/>
<circle cx="168.3" cy="409.2" r="1.3" fill="#4a1a6e"/>
<circle cx="177.2" cy="389.7" r="1.3" fill="#c0102c"/>
<circle cx="179.2" cy="410.1" r="1.3" fill="#c0102c"/>
<circle cx="178.2" cy="417.2" r="1.3" fill="#c0102c"/>
<rect x="184.8" y="411.9" width="5.9" height="15.8" fill="#9d82b6"/>
<rect x="194.6" y="407.3" width="5.9" height="20.4" fill="#d9958a"/>
<path d="M187.8 404.2V418.7M185.8 404.2h4M185.8 418.7h4" stroke="#111" stroke-width="1.1" fill="none"/>
<path d="M197.6 386.3V424.9M195.6 386.3h4M195.6 424.9h4" stroke="#111" stroke-width="1.1" fill="none"/>
<circle cx="186.8" cy="404.2" r="1.3" fill="#4a1a6e"/>
<circle cx="188.7" cy="411.6" r="1.3" fill="#4a1a6e"/>
<circle cx="187.7" cy="418.4" r="1.3" fill="#4a1a6e"/>
<circle cx="196.6" cy="386.3" r="1.3" fill="#c0102c"/>
<circle cx="198.5" cy="409.2" r="1.3" fill="#c0102c"/>
<circle cx="197.5" cy="424.9" r="1.3" fill="#c0102c"/>
<g stroke="#111" stroke-width="0.9" fill="none"><path d="M110.4 408V363.2H120.6V369"/><path d="M129.5 372.8V340.5H139.6V344.3"/></g>
<text x="115.5" y="364.2" font-size="6" fill="#111" color="#111" text-anchor="middle">*</text>
<text x="134.6" y="341.3" font-size="6" fill="#111" color="#111" text-anchor="middle">*</text>
<circle cx="159.3" cy="335.8" r="3" fill="#4b2070"/>
<circle cx="159.3" cy="349.5" r="3" fill="#a0102a"/>
<text x="166.2" y="338.8" font-size="8.6" fill="#502a70" color="#502a70">WT</text>
<text x="165.8" y="352.4" font-size="8.6" fill="#b01a3a" color="#b01a3a" font-style="italic">gata2b<tspan font-size="5.8" dy="-3.6">ko</tspan></text>
<text transform="translate(81.1 437.8) rotate(-45)" font-size="9.2" fill="#111" color="#111" text-anchor="end">HSPC</text>
<text transform="translate(100.4 437.8) rotate(-45)" font-size="9.2" fill="#111" color="#111" text-anchor="end">MPP</text>
<text transform="translate(119.7 437.8) rotate(-45)" font-size="9.2" fill="#111" color="#111" text-anchor="end">MyelProg1</text>
<text transform="translate(139 437.8) rotate(-45)" font-size="9.2" fill="#111" color="#111" text-anchor="end">MyelProg2</text>
<text transform="translate(158.3 437.8) rotate(-45)" font-size="9.2" fill="#111" color="#111" text-anchor="end">LymphProg</text>
<text transform="translate(177.6 437.8) rotate(-45)" font-size="9.2" fill="#111" color="#111" text-anchor="end">ErythProg1</text>
<text transform="translate(196.9 437.8) rotate(-45)" font-size="9.2" fill="#111" color="#111" text-anchor="end">ErythProg2</text>
<g stroke="#111" stroke-width="1.1" fill="none">
<path d="M265.3 323V427.7H369.5"/>
<path d="M262.3 427.7H265.3"/>
<path d="M262.3 402.3H265.3"/>
<path d="M262.3 376.9H265.3"/>
<path d="M262.3 351.5H265.3"/>
<path d="M262.3 326.1H265.3"/>
<path d="M265.4 427.7V430.8"/>
<path d="M282.3 427.7V430.8"/>
<path d="M299.3 427.7V430.8"/>
<path d="M316.2 427.7V430.8"/>
<path d="M333.1 427.7V430.8"/>
<path d="M350.1 427.7V430.8"/>
<path d="M367 427.7V430.8"/>
</g>
<text x="259" y="430.8" font-size="8.6" fill="#111" color="#111" text-anchor="end">0</text>
<text x="259" y="405.4" font-size="8.6" fill="#111" color="#111" text-anchor="end">1</text>
<text x="259" y="380" font-size="8.6" fill="#111" color="#111" text-anchor="end">2</text>
<text x="259" y="354.6" font-size="8.6" fill="#111" color="#111" text-anchor="end">3</text>
<text x="259" y="329.2" font-size="8.6" fill="#111" color="#111" text-anchor="end">4</text>
<text x="265.4" y="442.6" font-size="8.6" fill="#111" color="#111" text-anchor="middle">-3</text>
<text x="282.3" y="442.6" font-size="8.6" fill="#111" color="#111" text-anchor="middle">-2</text>
<text x="299.3" y="442.6" font-size="8.6" fill="#111" color="#111" text-anchor="middle">-1</text>
<text x="316.2" y="442.6" font-size="8.6" fill="#111" color="#111" text-anchor="middle">0</text>
<text x="333.1" y="442.6" font-size="8.6" fill="#111" color="#111" text-anchor="middle">1</text>
<text x="350.1" y="442.6" font-size="8.6" fill="#111" color="#111" text-anchor="middle">2</text>
<text x="367" y="442.6" font-size="8.6" fill="#111" color="#111" text-anchor="middle">3</text>
<g stroke="#333" stroke-width="1.1" stroke-dasharray="0.7 0.7" fill="none"><path d="M306 326V427.7M326.4 326V427.7M265.3 395.1H366"/></g>
<text x="318" y="317" font-size="10.7" fill="#111" color="#111" text-anchor="middle">HSPC/thrombocyte</text>
<text transform="translate(244.6 376) rotate(-90) scale(0.74 1)" font-size="10.4" fill="#111" color="#111" text-anchor="middle">-log<tspan font-size="7" dy="2.6">10</tspan><tspan dy="-2.6">(p-value)</tspan></text>
<path stroke="#4a2274" stroke-width="1.9" stroke-linecap="round" d="M299.3 420.9h0M308.4 420.5h0M310.3 419.2h0M311.8 419h0M312.9 414.6h0M311.7 424.7h0M311 427.4h0M304.8 427.6h0M301.7 395.8h0M311.5 415.2h0M306.3 426.9h0M314.2 427.6h0M314.8 426.5h0M312.5 420.6h0M309.7 421.3h0M306.5 414.2h0M310.1 419.5h0M308.1 425.1h0M298.1 394.8h0M313 411.2h0M313.9 424.4h0M309.2 427.5h0M301.9 408.3h0M306.5 422.8h0M311.9 397.4h0M314.7 426.2h0M292.7 400.3h0M310.8 422.5h0M306.5 427.5h0M305.8 425.3h0M305.9 427.4h0M297.2 408.7h0M314.9 427.2h0M311.7 427.6h0M308.9 406.7h0M306.2 421.1h0M314.5 426.5h0M309.9 414h0M310.6 427.3h0M312.4 425.3h0M309.9 396.6h0M306.7 401.8h0M303.9 426.2h0M305 414.1h0M310.1 427.4h0M314.5 425.5h0M310.2 408h0M309.8 427.5h0M310.4 427.4h0M311.2 415.8h0M297.3 423.1h0M309 420h0M310.9 416.8h0M311.6 426.9h0M310.1 400.5h0M310 426.5h0M308.8 409.6h0M310.3 397.9h0M306.5 402h0M310.5 427.3h0M309.9 427.7h0M312.2 411.3h0M310.5 425.5h0M306.2 424.9h0M314.4 426.7h0M312.2 426h0M308.1 417.4h0M306.9 425.1h0M311.9 399.9h0M313.5 425.3h0M310.2 421.1h0M312.9 423.2h0M309.4 416.9h0M307.4 401.5h0M305.8 396h0M304.8 416.4h0M313.6 427h0M312 400.3h0M312 411.5h0M313.3 414.3h0M313.5 420h0M305.5 394.7h0M303.9 427.5h0M309 400.9h0M309.6 409.8h0M300.2 400.1h0M308.5 423.6h0M298.5 402.6h0M310.9 422h0M300.2 416.9h0M306.8 414.8h0M307.5 415.5h0M300.6 427.5h0M295.2 402.1h0M304.4 410.2h0M306.4 416.6h0M312.8 421.3h0M310.6 409.1h0M308.5 427.7h0M310 425.9h0M303.6 411.6h0M312 399.7h0M308.8 425.5h0M313.1 412.5h0M307.4 426.3h0M300.1 413.3h0M309.5 421.3h0M309.6 413.1h0M303.2 426.4h0M306.8 400.1h0M305.4 402.1h0M308.4 424.4h0M301.4 427.1h0M312.3 403.9h0M307.9 411h0M313.2 426.8h0M313.6 421h0M309.6 422h0M307.5 414.8h0M312.5 404.4h0M309.2 395.9h0M314.2 427.7h0M301.7 402.5h0M311.1 416.9h0M314.3 424.5h0M313.6 427.1h0M301.1 420.9h0M312.8 425.8h0M305.4 427h0M311.4 421.1h0M306.5 414.6h0M301.3 397.4h0M310.9 412.2h0M307.2 426.6h0M303.9 427.7h0M313 426.6h0M308.5 425.3h0M305.1 418.8h0M313.5 415.2h0M305.8 407h0M298.2 400.6h0M304.7 410.5h0M305.4 427.1h0M309.4 400.4h0M301.3 423h0M306.8 406.7h0M302 398.3h0M312.5 426.3h0M309.1 410.5h0M304.1 410.7h0M298.7 426.2h0M300.1 396.2h0M312.5 418.2h0M306.2 400.4h0M310.9 403.5h0M312 421.3h0M313.1 417.7h0M306.8 427.7h0M301.1 406.1h0M309.9 426.7h0M313.7 424h0M311.1 427h0M311.9 418.9h0M300 412h0M294.7 398.2h0M314.2 427.5h0M309 426.1h0M312.3 410.2h0M300.1 414.2h0M312 417.3h0M304.6 424.5h0M303 400.9h0M303.8 426.3h0M299 418.6h0M311.3 416.9h0M305.8 419.3h0M295.3 415.6h0M310.9 418.9h0M311.6 422.4h0M305.5 419.7h0M305.3 411.9h0M310.9 422h0M307 397.5h0M311.7 420.3h0M303 427.2h0M307 400.9h0M312.4 420.2h0M309.5 415.1h0M303.7 399.4h0M306 427.7h0M313.3 426.5h0M303.9 424.3h0M312.2 423.5h0M311 410.1h0M309.6 427.2h0M314.5 426.4h0M307.7 418.4h0M311.8 422.1h0M311.5 418.4h0M309.6 414.5h0M300 414.2h0M311.2 415.3h0M311.3 403.5h0M301.2 406h0M309.8 400.8h0M306.5 399.6h0M300 426.1h0M314.8 427.1h0M314 425.8h0M309.5 427.4h0M301.7 404.8h0M309 427.2h0M313.9 422.3h0M313.6 426.4h0M297.6 412.3h0M305.1 427.3h0M313.7 419.3h0M305.1 412.2h0M311.9 426.5h0M313.6 427.7h0M304.8 417.7h0M314.1 427h0M311 426.6h0M298.7 395.3h0M310.1 399.3h0M310.6 397.8h0M313.7 420.6h0M308 420.5h0M305.4 418.9h0M310.9 427.7h0M310.9 411.5h0M310.6 420.9h0M309.3 409.7h0M312.3 426.8h0M299.2 419h0M311.4 406.5h0M307 411.3h0M306.8 422.3h0M293.6 415.8h0M312.3 406.3h0M304.8 425.5h0M306.8 407.7h0M300.3 405.8h0M304 402.1h0M312.1 411.8h0M302.4 422.3h0M307.4 410.5h0M311.5 420.4h0M308.8 427.7h0M305.7 414.8h0M304.9 425.9h0M311.1 423.9h0M305.6 413.3h0M310.8 422.7h0M304.8 394.7h0M304.5 408.5h0M302.1 396h0M311.8 409.7h0M312.9 425.5h0M313.6 426.4h0M310.1 423h0M309.2 400.6h0M295.5 417.7h0M313 417h0M303.4 395h0M305.1 427.5h0M313.7 415.9h0M310 399.1h0M310.7 426.9h0M313.4 419.6h0M297.8 415.4h0M308.3 421.9h0M308.6 418.5h0M310.8 425h0M308.2 413.5h0M311.2 410.7h0M309.4 424.8h0M314.5 427.6h0M314.7 426.9h0M305.3 401.1h0M292.9 409.2h0M305.5 398.2h0M308.8 427.5h0M310 420.2h0M311.5 396.4h0M303.5 398.7h0M293.9 410.5h0M308.9 405.7h0M306.4 415.7h0M307.7 420.8h0M306.6 426.3h0M312.2 427.2h0M310.5 421.2h0M308 425.4h0M303.1 416.5h0M308.1 418.4h0M300.7 394.8h0M311.4 425.8h0M305.2 427.3h0M306 414.8h0M313.1 423.4h0M303.3 417.2h0M305.9 416.1h0M306.1 426.5h0M299.1 425.7h0M310.5 402.2h0M309.8 427.6h0M312.3 421.7h0M306.6 414.9h0M309.7 427.5h0M311 427.5h0M305.7 414.5h0M309.7 423.1h0M314 423.8h0M311.7 409.4h0M312.6 427.2h0M304.2 406.1h0M306.3 426.2h0M313.8 421.8h0M301.6 423.2h0M307.3 413.6h0M313.6 417.8h0M306.6 409.3h0M311 423.2h0M312.9 427.4h0M313 427.5h0M303.2 417.2h0M313.7 424.8h0M308.7 407.8h0M311.3 413.2h0M319.7 427.5h0M324.2 425.4h0M318.2 423.9h0M322.4 411.6h0M327.9 400.1h0M322.1 406.9h0M325.8 424.7h0M323.5 425.9h0M320.5 423.7h0M320.8 426.6h0M326.6 407.2h0M319.5 426.8h0M318.9 402.4h0M318.8 418.5h0M323.6 397h0M324.3 418.4h0M323.7 427.5h0M320.9 427.5h0M317.6 427.1h0M323.8 426.3h0M318.2 419.3h0M323.4 396.8h0M324.6 420.2h0M320.5 400.3h0M322.9 405.6h0M326.1 405.2h0M322.4 397.5h0M322.6 406.9h0M322.1 422.3h0M323.4 423.5h0M320.7 426.5h0M319.1 427.6h0M322 427.3h0M323.5 427.6h0M319 417h0M318.1 426.8h0M318.7 426.1h0M323.2 426.7h0M317.6 426.9h0M322.3 406.1h0M324.9 425.7h0M324.2 418.4h0M318 420.5h0M319.9 407h0M321.4 419.1h0M318.5 414h0M321.6 427.7h0M319 411.5h0M319.6 427h0M321.9 403.1h0M321.5 414.9h0M317.6 427.1h0M321.1 427.7h0M325.1 427.5h0M322.4 411.3h0M321.9 397.7h0M321.2 403.8h0M326.2 400.2h0M320 405.6h0M322.7 427h0M318.2 424.9h0M319.4 421h0M318.4 423.8h0M319.7 421.2h0M319 405.4h0M318.8 411.6h0M318.5 417.8h0M318.7 407.1h0M319.1 415.8h0M321.7 425.1h0M319.3 423.1h0M321.2 410.6h0M325.5 398.4h0M321.3 405.5h0M322.9 427.2h0M321.1 426.8h0M320.2 405h0M318.5 427h0M326.5 422.7h0M322.2 419.6h0M320.3 408.8h0M331.1 422.6h0M325.9 412.1h0M330.3 416.1h0M318.8 424.2h0M319.5 419.7h0M320.5 405.6h0M320.5 401h0M320 424h0M319.1 395.6h0M319.7 411.4h0M320.6 415.3h0M317.6 427.5h0M323.3 424.5h0M319.8 423.8h0M317.9 427.2h0M323.1 418.5h0M320.9 400.7h0M320.3 406.1h0M318.9 425.3h0M324.9 426h0M321.6 418.4h0M322.9 427.7h0M329.9 414h0M318.5 413.4h0M328.7 406.8h0M320.5 421h0M320.8 426.9h0M321.1 425.7h0M319 427.7h0M323.2 427.1h0M319.2 422.6h0M318.6 412.6h0M326.5 395.1h0M322.6 403.9h0M321.4 400.9h0M326.5 419.2h0M321.3 427.6h0M319.5 401.2h0M323.4 425h0M320.8 427.6h0M334.6 423h0M318.1 419.1h0M321.2 426.1h0M325.2 400.5h0M319 422.3h0M317.6 426.3h0M323.1 427.4h0M329.2 427.3h0M320.1 425.1h0M323.8 427.6h0M322.5 423.9h0M326.6 427.6h0M319.6 420h0M322 396.2h0M319.4 399.8h0M319.6 426.6h0M320.9 426.9h0M321 395h0M327.6 402.4h0M321.9 410.9h0M327 411.5h0M322.6 412.3h0M319.3 426.3h0M319.2 411.6h0M320.8 413.7h0M322.4 423.5h0M325.2 426.2h0M320.7 399.6h0M320.5 427.5h0M333.5 421.8h0M318.5 425.3h0M321.6 406.9h0M319.4 426h0M321.5 418.4h0M326 427.7h0M325.9 409.6h0M324.1 426.8h0M322.2 414.6h0M322.8 419.4h0M320.8 404.5h0M322.3 426.9h0M319.9 426.9h0M320.4 408.5h0M318.9 407.5h0M323 417.2h0M323.1 427.7h0M322.7 402.9h0M322.5 427.1h0M318.3 421.8h0M327.1 407.1h0M322.1 418.5h0M330.1 426.1h0M321.1 415.6h0M319.1 425.7h0M318.4 426.9h0M320.4 427h0M325.1 427.6h0M332.2 423.7h0M329.8 409.1h0M329.2 427.1h0M320.8 401.8h0M319 423.1h0M321.8 427.7h0M318.7 409h0M321.1 418.2h0M321.5 421.2h0M320.8 396h0M330.4 427.7h0M321.9 412.3h0M321.7 416.8h0M321.8 404.6h0M319.3 408h0M321.9 418.3h0M318.5 426.5h0M322.5 421.6h0M320.1 413h0M319.7 427.6h0M317.7 423.8h0M318.3 425.7h0M319.6 399.8h0M320.8 427.1h0M318.3 423.8h0M324.4 427.7h0M325.5 423.3h0M322.9 408.6h0M328.1 427.6h0M330.1 416.6h0M320 422.3h0M318.1 425.7h0M319.9 413.6h0M320.6 411.5h0M319.7 423.2h0M319.9 424.2h0M323.5 427.7h0M319.5 406.6h0M322.3 425.1h0M326.9 412.6h0M321.2 397.7h0M319.8 427.5h0M321.7 423.1h0M319.4 420.1h0M321.5 427h0M321 413.7h0M319.9 427.5h0M321.8 417.1h0M318.2 418.2h0M318.5 423.7h0M322.5 422.8h0M319.5 421h0"/>
<path stroke="#a80e2e" stroke-width="1.9" stroke-linecap="round" d="M281.2 372h0M283.2 372h0M283.8 379.7h0M288 390h0M294.2 391.2h0M295.8 390.2h0M296.5 392.5h0M306.2 375.8h0M306.8 386.2h0M308.8 389.5h0M330.4 348.2h0M337.4 363.8h0M331.6 364.7h0M328.3 366.6h0M333.1 370.1h0M327 374.5h0M324.3 375.8h0M329 379.6h0M332.7 377.9h0M335.1 377.2h0M332.4 379.6h0M324.3 383.3h0M325.9 387.4h0M328.3 387.4h0M322.5 389.4h0M322.5 390.8h0M325.9 394.2h0M329 393.8h0M332 393.2h0M336.1 392.1h0M323.8 393h0M326.5 392.6h0"/>
<circle cx="272.7" cy="350.3" r="1.55" fill="#a00c28"/>
<circle cx="341.1" cy="355.7" r="1.55" fill="#a00c28"/>
<circle cx="339.2" cy="359.9" r="1.55" fill="#a00c28"/>
<circle cx="340.6" cy="377.2" r="1.55" fill="#a00c28"/>
<circle cx="282.2" cy="372.1" r="1.55" fill="#a00c28"/>
<circle cx="295.2" cy="391.5" r="1.55" fill="#a00c28"/>
<text x="275.2" y="353" font-size="8.4" fill="#111" color="#111">gng10</text>
<text x="268.2" y="369.6" font-size="8.4" fill="#111" color="#111">itga2b</text>
<text x="270.4" y="386.9" font-size="8.4" fill="#111" color="#111">ptena</text>
<text x="342.9" y="357.4" font-size="8.4" fill="#111" color="#111">hdlbpa</text>
<text x="341.1" y="362.8" font-size="8.4" fill="#111" color="#111">ptprc</text>
<text x="339.2" y="375.1" font-size="8.4" fill="#111" color="#111">ube2e1</text>
<path d="M289.6 386L294.2 391.3" stroke="#555" stroke-width="0.5" fill="none"/>
<g stroke="#111" stroke-width="1.1" fill="none">
<path d="M404.8 324.5V427.8H505.5"/>
<path d="M401.8 427.8H404.8"/>
<path d="M401.8 407.8H404.8"/>
<path d="M401.8 387.7H404.8"/>
<path d="M401.8 367.7H404.8"/>
<path d="M401.8 347.6H404.8"/>
<path d="M401.8 327.6H404.8"/>
<path d="M404.8 427.8V430.9"/>
<path d="M429.9 427.8V430.9"/>
<path d="M455 427.8V430.9"/>
<path d="M480.1 427.8V430.9"/>
<path d="M505.2 427.8V430.9"/>
</g>
<text x="398.5" y="430.9" font-size="8.6" fill="#111" color="#111" text-anchor="end">0</text>
<text x="398.5" y="410.9" font-size="8.6" fill="#111" color="#111" text-anchor="end">10</text>
<text x="398.5" y="390.8" font-size="8.6" fill="#111" color="#111" text-anchor="end">20</text>
<text x="398.5" y="370.8" font-size="8.6" fill="#111" color="#111" text-anchor="end">30</text>
<text x="398.5" y="350.7" font-size="8.6" fill="#111" color="#111" text-anchor="end">40</text>
<text x="398.5" y="330.7" font-size="8.6" fill="#111" color="#111" text-anchor="end">50</text>
<text x="404.8" y="442.6" font-size="8.6" fill="#111" color="#111" text-anchor="middle">-2</text>
<text x="429.9" y="442.6" font-size="8.6" fill="#111" color="#111" text-anchor="middle">-1</text>
<text x="455" y="442.6" font-size="8.6" fill="#111" color="#111" text-anchor="middle">0</text>
<text x="480.1" y="442.6" font-size="8.6" fill="#111" color="#111" text-anchor="middle">1</text>
<text x="505.2" y="442.6" font-size="8.6" fill="#111" color="#111" text-anchor="middle">2</text>
<g stroke="#333" stroke-width="1.1" stroke-dasharray="0.7 0.7" fill="none"><path d="M440.4 326V427.8M469.6 326V427.8M404.8 425.2H503"/></g>
<text x="408.6" y="317.4" font-size="10.4" fill="#111" color="#111">Myeloid Progenitor 2</text>
<path stroke="#a80e2e" stroke-width="1.6" stroke-linecap="round" d="M451.3 426.5h0M448.4 417.1h0M448.9 418.6h0M447.8 409.6h0M442.5 418.8h0M447.2 419.7h0M448.3 421h0M441.6 425h0M450.2 427h0M440.8 423.3h0M449.4 426.2h0M451.6 423.5h0M447.2 419.6h0M446.1 416h0M446 416.4h0M447.6 426.5h0M448 412.1h0M443.1 418.4h0M448.9 414.3h0M447.5 420.2h0M443 425.4h0M447.8 425.3h0M445.5 425.8h0M450.6 427h0M449.4 418.1h0M449.4 420.3h0M445.1 411.4h0M443.4 420.1h0M443.7 422.7h0M447.7 421.9h0M444.5 414.1h0M443.9 423.5h0M443.8 417.8h0M444.2 423.5h0M449.4 423.8h0M445.2 410.2h0M443.2 427.5h0M441.5 421.8h0M449 409.2h0M448.3 427.4h0M443.3 414.7h0M444.9 426.9h0M447.4 421.7h0M448.2 410.9h0M444.7 422.3h0M443.9 426.1h0M443.6 419.2h0M440.1 426.4h0M445.9 424.3h0M444.6 427h0M444 426.7h0M447.4 420.1h0M451 422.6h0M450.6 423.1h0M445.8 425.2h0M447.1 412.2h0M442.9 422.6h0M444.9 419.3h0M448.3 415.7h0M447.6 409.8h0M445.7 412.9h0M450.3 426h0M447.3 427.3h0M450.8 421.3h0M440.2 424.2h0M445.1 413.5h0M447.4 414.7h0M443.6 416.8h0M439.8 427h0M441 424h0M444.5 427.5h0M444.3 421.9h0M447.7 414.3h0M441.1 425.5h0M450.4 424.9h0M442.8 423.9h0M444.7 419.4h0M447.4 426h0M451 423.2h0M445.4 423.9h0M448.5 409.2h0M449.3 415.7h0M447.6 408.3h0M443.9 422.6h0M448.4 427.4h0M449.4 426.5h0M440.6 422.3h0M444.4 421.5h0M444.3 423.8h0M446.4 419.4h0M449.7 418.2h0M444.5 423.1h0M447.2 422h0M446.2 417.5h0M443.8 426.4h0M442.7 418.1h0M446 424.5h0M443.2 424.1h0M447.7 408.6h0M447.4 409.5h0M441.7 427h0M445.2 415.4h0M441.6 418.1h0M448.4 415h0M447.2 416h0M448.3 426.4h0M449.9 419.5h0M448.6 421.5h0M444.7 413.7h0M445.7 412.7h0M447.3 426.2h0M441.9 423.3h0M449.1 412.5h0M446.3 411.6h0M449.2 410.5h0M443.4 417.9h0M448.8 416.2h0M447.6 426.7h0M444.4 424.3h0M448.9 414.7h0M443.1 427.3h0M440 426.7h0M447.6 417h0M444.9 412.7h0M448 423.8h0M447.1 417.4h0M447.4 414.7h0M447.9 409.9h0M448.5 417h0M448.1 412.5h0M446 415.2h0M443.4 422h0M446.8 417.3h0M446.5 424.1h0M448.1 410.6h0M446.8 426.8h0M440.6 426.7h0M442.4 422.3h0M446.5 413.1h0M449.1 411.6h0M447.3 423.5h0M441.5 425.3h0M449.2 411h0M446.3 424.2h0M443.9 426.5h0M445.4 411.3h0M442.5 423.7h0M448.9 410.3h0M447.1 421.8h0M448.4 409.7h0M449.7 424.6h0M449.8 426h0M445.5 417.4h0M445.5 414.5h0M449.2 414.7h0M444.6 412.3h0M449.4 412.4h0M449.8 418.7h0M448.1 414.7h0M449.6 419.2h0M445.4 427.7h0M446.7 423.1h0M449.1 426.7h0M442.7 420.9h0M441.1 425.2h0M447.1 417.4h0M443.4 417h0M450 427.6h0M445.5 413.6h0M450.5 420.6h0M448.1 425.2h0M449.5 413.1h0M450.3 422.3h0M447.9 410.3h0M444.7 418.6h0M446.3 421.1h0M447.6 411.9h0M447.3 423.1h0M446.3 422.8h0M450.6 420.6h0M449.4 414.5h0M448.9 422.8h0M447.2 427.6h0M442.8 424.1h0M450.9 423.4h0M444.2 426h0M447.8 410.7h0M444.6 424.9h0M447.9 420.2h0M449.7 415h0M448.7 427.4h0M442.4 419.9h0M448.2 422.7h0M446.1 409.6h0M447.9 422.9h0M450 419.5h0M449.7 415.8h0M446.6 411.7h0M439.8 427.7h0M442.4 426.2h0M444.2 419.5h0M441.9 427.6h0M443.5 422.7h0M449.9 420.9h0M443.2 423.4h0M446 412.8h0M449.7 418.8h0M447 409.3h0M448.5 412.1h0M449.1 412.1h0M447.2 410.8h0M444.1 422.7h0M447.2 411.1h0M449.3 415.5h0M449 415.9h0M449.6 423.9h0M444.9 424.6h0M443.4 419.2h0M445 426.6h0M443.7 423.4h0M448.5 425.5h0M450.8 426.5h0M447.6 413.5h0M445.9 419.4h0M445.7 410.7h0M442.7 425h0M448 426.8h0M446.1 416.5h0M447.8 417.8h0M444.8 412.3h0M441.9 426.9h0M445.3 419.1h0M442.2 426.5h0M446.3 412h0M441.1 423.4h0M445.8 413.4h0M448.7 423.4h0M448.2 424.8h0M450 426h0M448.3 424.4h0M442.7 419.1h0M446.4 410.5h0M444.2 421.4h0M445.9 411.3h0M450.9 423.9h0M448.5 414.6h0M447.4 421.9h0M445.6 423.3h0M448.8 422.9h0M446.5 410.5h0M440.4 426.1h0M439.4 425.9h0M441.7 422.5h0M451.5 426.7h0M442.1 420h0M446.7 416.4h0M445.2 426.7h0M445.9 422h0M443.2 427h0M445.7 426.6h0M442.1 420h0M447.7 424.5h0M443.4 413.3h0M445.6 411.2h0M449.3 412.1h0M445.7 416.5h0M442.9 417h0M449.2 409.1h0M440.9 426.7h0M441.2 427.7h0M463 417.7h0M459.1 413.9h0M467.1 425.1h0M461.7 422.4h0M458.5 423.1h0M463.2 419.3h0M465.2 424.3h0M460.4 410.7h0M460.9 427.1h0M460.8 423.2h0M467.5 424.5h0M461.7 423.3h0M464.1 414.6h0M466.7 426.9h0M460.5 427.5h0M461.9 420.9h0M465.3 410.7h0M464.6 413h0M466.4 424.1h0M465.1 417.5h0M466.2 419.3h0M459 422.5h0M460.2 409.4h0M464.7 406.5h0M467.8 422.1h0M460.5 407.8h0M465.7 425.1h0M462 410.5h0M459.6 423.2h0M460.2 424.5h0M458.9 423.5h0M464 426h0M463.7 419.2h0M459.9 410.7h0M459 426.1h0M462.3 408h0M461.8 427.2h0M465.9 413.7h0M464.2 420.3h0M468.5 426.9h0M459.6 408.3h0M459.9 426.9h0M466.2 426h0M466.8 425.2h0M464.6 421h0M461.5 427.6h0M461 427.2h0M464.4 421.6h0M462 422.6h0M463.7 423h0M461.7 420.3h0M464.4 410h0M460.3 414.5h0M460.1 424.5h0M468.6 426.4h0M467.1 419.7h0M462 418.5h0M464.3 424.6h0M462.6 416.1h0M464.5 419.8h0M461 409.1h0M460.7 413h0M460.9 414.4h0M467 419h0M463 421h0M461.7 417.9h0M460.5 424.7h0M464.5 410.2h0M465.2 416.5h0M460.3 415.2h0M460.8 423.8h0M461.7 420.1h0M463.4 411h0M459.4 418.4h0M459.7 414h0M460.2 424.2h0M464.8 414.1h0M466.2 426.9h0M468 427.2h0M462.9 413.3h0M463.1 410.5h0M458.6 423.1h0M466.9 426h0M464 412h0M461.5 420h0M464.4 416.1h0M461.3 407h0M468.2 425.4h0M466.8 417.4h0M463.7 425.5h0M458.9 419.5h0M465.5 421.9h0M460.3 425.7h0M459 424h0M462.1 425.2h0M463.3 425.6h0M460.1 410.6h0M463.1 413.3h0M466.5 416.3h0M467.5 419.8h0M460.3 419.6h0M464.2 426.8h0M465.8 424.7h0M463.7 415h0M463.4 424.5h0M458.9 427.4h0M465.6 425.2h0M464 421.5h0M463.7 414.3h0M458.7 426.1h0M458.7 419.7h0M459.5 420.3h0M464.3 410.6h0M468.4 423.7h0M461.5 426.3h0M462.3 417.6h0M467.1 422.4h0M462.8 419.4h0M464.7 424.7h0M462.1 410.5h0M467.3 420.6h0M465 422.5h0M463.2 409.8h0M467.4 420.5h0M465.6 422.1h0M462.5 425.2h0M460.6 407.6h0M465.8 418.6h0M464.8 415.4h0M465.7 426.5h0M463.4 418.2h0M461 409.2h0M463.3 419.5h0M466.2 417.4h0M461.2 417.1h0M462.6 417.5h0M467.5 422.3h0M466 424.4h0M461.5 427.7h0M463.8 424.8h0M462.3 427.5h0M467.3 424.5h0M460.8 409.3h0M467.1 426.6h0M459.1 414.7h0M465.8 427.7h0M461.5 415.4h0M462.9 422.5h0M463 415.6h0M460.6 427.6h0M460 418.2h0M466.4 420.5h0M463.4 409.6h0M460.6 414.5h0M460.7 411.8h0M459.3 414.5h0M459.4 414.9h0M459.5 419.6h0M462.1 425.9h0M459.6 411.7h0M458.3 427.2h0M465.3 425.3h0M464.1 425h0M461.3 424h0M458.4 425.3h0M459.4 423.1h0M467.5 423.8h0M464.4 418.3h0M462.4 421.3h0M463.5 420h0M465.7 418.8h0M461.5 427.4h0M467.2 427.2h0M467.7 426.5h0M463.7 412.9h0M462.3 423h0M466.4 416.4h0M459.7 412.4h0M468.6 426.4h0M467.2 424.3h0M467.6 416.5h0M459.7 426h0M464.7 421.3h0M461.9 408.4h0M463.3 414.7h0M467 421.3h0M461.6 420.8h0M460.6 427.1h0M461.5 414.6h0M461 417.3h0M464.7 414.7h0M459.9 427.5h0M467.5 421.2h0M466.6 416.8h0M464.5 426.4h0M465.8 423.4h0M463.6 425h0M467.9 424.6h0M459.4 415.9h0M467.1 423.4h0M466.5 416.4h0M465.5 424h0M459.1 421.5h0M459.1 419.5h0M469.3 427.2h0M464.7 425.6h0M460.4 411.5h0M463.1 414h0M460.2 425.2h0M459.5 411.9h0M463.3 424.9h0M464.6 415.9h0M459.4 414.8h0M458.5 426.8h0M468.1 427.6h0M467.7 427.2h0M466.5 417.4h0M460.3 424.2h0M460.3 427.3h0M464 426.7h0M459.9 424h0M463.1 423.1h0M465.1 427.2h0M468.3 426.8h0M462.1 421h0M462.4 427.4h0M459.6 410.5h0M464.8 413.4h0M466.1 415.2h0M464.2 410.6h0M469.1 427h0M464.4 425.4h0M464.5 411.1h0M463.9 409h0M466.6 415.9h0M459.8 417.8h0M459.5 414.3h0M464.5 424.4h0M463.1 423.6h0M462.1 427.5h0M460.4 415.3h0M458.4 421.9h0M458 427.3h0M462.9 407.1h0M466.2 427.2h0M465.4 413.7h0M461.8 410h0M466 422.8h0M445.4 398.8h0M449.3 397.2h0M439.1 406.5h0M443.5 407.2h0M450.8 403.1h0M448.9 398h0M444.1 398.9h0M439.1 408.8h0M450 409.2h0M445.5 396.5h0M442.7 401h0M440.5 403.8h0M460.2 394.3h0M459.1 404.2h0M459.1 405.9h0M459.6 397h0M460.4 395.2h0M469.1 401.5h0M460.3 393.6h0M467.9 388.5h0M465.7 395.8h0M469.6 393.5h0M471 402.8h0M468.5 394.5h0M464.6 409.5h0M464.7 403.4h0M466.3 397.5h0M465.2 408.3h0M460.4 395.2h0M467.3 385.9h0M468.7 402.8h0M464.5 397.6h0M468.9 400.3h0M470.3 398.1h0"/>
<path stroke="#a80e2e" stroke-width="1.7" stroke-linecap="round" d="M469.4 334.7h0M433.4 380.6h0M429.7 384h0M430.9 392.4h0M462.7 380.6h0M464.4 382.3h0M471 384h0M468.9 387h0M460.2 390.4h0M464.9 390h0M468.2 392h0M469.9 391.7h0M459.3 393.7h0M461.5 393.7h0M440.4 395.4h0M467.7 396.2h0M470.2 396.2h0M430.2 393.5h0M459 399.3h0M462 399h0M466.5 401h0M469 405h0M472.5 407h0M440.2 402.5h0M441.5 405h0M446.8 402.8h0M449 401.5h0M476.5 419h0"/>
<circle cx="418.5" cy="342.3" r="1.6" fill="#a00c28"/>
<circle cx="425.8" cy="373.3" r="1.6" fill="#a00c28"/>
<circle cx="428.4" cy="378.6" r="1.6" fill="#a00c28"/>
<circle cx="474.4" cy="360.2" r="1.6" fill="#a00c28"/>
<circle cx="481.4" cy="366.6" r="1.6" fill="#a00c28"/>
<circle cx="486.6" cy="367.3" r="1.6" fill="#a00c28"/>
<circle cx="473.6" cy="394.2" r="1.6" fill="#a00c28"/>
<circle cx="475" cy="406.5" r="1.6" fill="#a00c28"/>
<circle cx="434.9" cy="402.5" r="1.6" fill="#a00c28"/>
<circle cx="436.9" cy="417.3" r="1.6" fill="#a00c28"/>
<circle cx="438.9" cy="410" r="1.6" fill="#a00c28"/>
<path stroke="#4a2274" stroke-width="1.6" stroke-linecap="round" d="M447.2 425.8h0M446.9 426.8h0M444.6 425.7h0M444.9 426.2h0M445.4 425.2h0M447.4 426h0M450 425.7h0M446.5 425.6h0M450.9 425.3h0M444.4 426.6h0M447.9 425.2h0M445.3 426.6h0M449.8 425h0M449.3 425.3h0M447.6 426h0M444.7 426.7h0M446.8 425.2h0M450.1 425.1h0M444.6 426.1h0M447.8 426.6h0M450.2 425.3h0M444.6 426h0M447.8 425.5h0M451.1 425.3h0M449.1 425h0M451.1 426.7h0M448.9 425.5h0M449.7 426.6h0M450.2 425h0M448 425.2h0M459.6 426.7h0M460.7 425.4h0M459.6 425.5h0M458.4 426.3h0M460.3 425.5h0M459.2 426.2h0M460.2 425.8h0M458.2 425.1h0M458.4 426.5h0M459.4 426.1h0M459 425.6h0M458.4 426.8h0M438.8 425.8h0M439.5 426.3h0"/>
<text x="420.8" y="344.9" font-size="8.4" fill="#111" color="#111">ccl34b.8</text>
<text x="474" y="357.1" font-size="8.4" fill="#111" color="#111">lxn</text>
<text x="480.4" y="364.2" font-size="8.4" fill="#111" color="#111">sec61a1</text>
<text x="488.2" y="373.3" font-size="8.4" fill="#111" color="#111">eno1a</text>
<text x="426.8" y="372.6" font-size="8.4" fill="#111" color="#111">ctsz</text>
<text x="430" y="379.5" font-size="8.4" fill="#111" color="#111">ccl34a.4</text>
<text x="476.2" y="397" font-size="8.4" fill="#111" color="#111">grn2</text>
<text x="477.4" y="410.2" font-size="8.4" fill="#111" color="#111">lect2l</text>
<text x="417.3" y="402.6" font-size="8.4" fill="#111" color="#111">c1qc</text>
<text x="421.6" y="412.5" font-size="8.4" fill="#111" color="#111">cfp</text>
<text x="415.6" y="419.6" font-size="8.4" fill="#111" color="#111">ctsba</text>
<path d="M434.8 410.2H440" stroke="#555" stroke-width="0.5" fill="none"/>
<text transform="translate(330.6 457.7) scale(0.77 1)" font-size="9.3" fill="#111" color="#111">Log<tspan font-size="6.5" dy="2.8">2</tspan><tspan dy="-2.8">FoldChange (KOvsWT)</tspan></text>
<rect x="0.6" y="0.6" width="518.7" height="476.7" fill="none" stroke="#000" stroke-width="1.4"/>
</svg></body></html>
